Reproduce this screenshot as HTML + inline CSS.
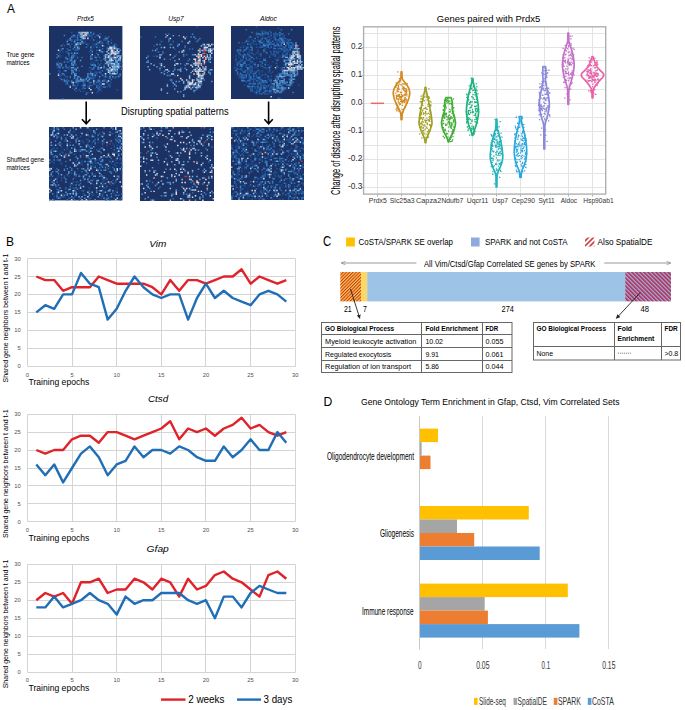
<!DOCTYPE html><html><head><meta charset="utf-8"><style>html,body{margin:0;padding:0;background:#fff;}svg{display:block}</style></head><body><svg width="685" height="710" viewBox="0 0 685 710" font-family='"Liberation Sans", sans-serif'>
<rect width="685" height="710" fill="#fff"/>
<defs><filter id="hb" x="0" y="0" width="1" height="1" color-interpolation-filters="sRGB"><feGaussianBlur stdDeviation="0.22" edgeMode="duplicate"/></filter></defs>
<text x="6.9" y="13.3" font-size="13.6" textLength="7.9" lengthAdjust="spacingAndGlyphs">A</text>
<text x="85.5" y="20.6" font-size="7" textLength="17.0" lengthAdjust="spacingAndGlyphs" text-anchor="middle" font-style="italic">Prdx5</text>
<text x="176.0" y="20.6" font-size="7" textLength="15.6" lengthAdjust="spacingAndGlyphs" text-anchor="middle" font-style="italic">Usp7</text>
<text x="268.5" y="20.9" font-size="7" textLength="17.0" lengthAdjust="spacingAndGlyphs" text-anchor="middle" font-style="italic">Aldoc</text>
<text x="6.4" y="57.1" font-size="7" textLength="28.2" lengthAdjust="spacingAndGlyphs">True gene</text>
<text x="6.4" y="64.8" font-size="7" textLength="23.3" lengthAdjust="spacingAndGlyphs">matrices</text>
<text x="6.4" y="162.2" font-size="7" textLength="37.8" lengthAdjust="spacingAndGlyphs">Shuffled gene</text>
<text x="6.4" y="169.8" font-size="7" textLength="23.4" lengthAdjust="spacingAndGlyphs">matrices</text>
<text x="121.0" y="115.0" font-size="10.5" textLength="107.6" lengthAdjust="spacingAndGlyphs">Disrupting spatial patterns</text>
<g transform="translate(49 26) scale(1.4680)" filter="url(#hb)">
<rect width="50" height="50" fill="rgb(28, 50, 100)"/>
<path fill="#1d3f7a" d="M30 15h1v1h-1zM37 19h1v1h-1zM31 24h1v1h-1zM30 27h1v1h-1zM16 36h1v1h-1zM35 43h1v1h-1z"/>
<path fill="#1d4d8f" d="M30 4h1v1h-1zM19 5h1v1h-1zM35 5h1v1h-1zM28 6h1v1h-1zM16 7h1v1h-1zM18 7h1v1h-1zM28 7h1v1h-1zM29 7h1v1h-1zM29 8h1v1h-1zM37 8h1v1h-1zM12 9h1v1h-1zM20 9h1v1h-1zM28 9h1v1h-1zM16 10h1v1h-1zM32 10h1v1h-1zM29 11h1v1h-1zM40 11h1v1h-1zM9 12h1v1h-1zM30 12h1v1h-1zM35 12h1v1h-1zM36 12h1v1h-1zM26 13h1v1h-1zM29 13h1v1h-1zM31 13h1v1h-1zM33 13h1v1h-1zM41 13h1v1h-1zM43 13h1v1h-1zM46 13h1v1h-1zM30 14h1v1h-1zM40 14h1v1h-1zM12 16h1v1h-1zM29 16h1v1h-1zM9 17h1v1h-1zM12 17h1v1h-1zM27 17h1v1h-1zM37 17h1v1h-1zM6 18h1v1h-1zM12 18h1v1h-1zM36 18h1v1h-1zM7 19h1v1h-1zM18 19h1v1h-1zM46 19h1v1h-1zM47 19h1v1h-1zM8 20h1v1h-1zM33 20h1v1h-1zM7 21h1v1h-1zM14 21h1v1h-1zM29 21h1v1h-1zM14 22h1v1h-1zM18 22h1v1h-1zM32 22h1v1h-1zM33 23h1v1h-1zM6 24h1v1h-1zM29 24h1v1h-1zM43 24h1v1h-1zM48 24h1v1h-1zM6 25h1v1h-1zM48 25h1v1h-1zM49 25h1v1h-1zM17 26h1v1h-1zM13 27h1v1h-1zM14 27h1v1h-1zM16 27h1v1h-1zM32 27h1v1h-1zM35 27h1v1h-1zM5 28h1v1h-1zM13 28h1v1h-1zM14 28h1v1h-1zM36 28h1v1h-1zM38 28h1v1h-1zM13 29h1v1h-1zM48 29h1v1h-1zM7 30h1v1h-1zM27 30h1v1h-1zM35 30h1v1h-1zM38 30h1v1h-1zM17 31h1v1h-1zM33 31h1v1h-1zM35 31h1v1h-1zM8 32h1v1h-1zM10 32h1v1h-1zM39 32h1v1h-1zM32 33h1v1h-1zM41 33h1v1h-1zM7 34h1v1h-1zM27 34h1v1h-1zM30 34h1v1h-1zM46 34h1v1h-1zM16 35h1v1h-1zM18 35h1v1h-1zM29 35h1v1h-1zM40 35h1v1h-1zM29 36h1v1h-1zM30 36h1v1h-1zM34 36h1v1h-1zM38 36h1v1h-1zM31 37h1v1h-1zM39 37h1v1h-1zM41 37h1v1h-1zM11 38h1v1h-1zM19 38h1v1h-1zM20 38h1v1h-1zM34 38h1v1h-1zM42 38h1v1h-1zM27 39h1v1h-1zM40 39h1v1h-1zM41 39h1v1h-1zM13 40h1v1h-1zM14 40h1v1h-1zM26 40h1v1h-1zM33 41h1v1h-1zM39 41h1v1h-1zM31 42h1v1h-1zM34 42h1v1h-1zM35 42h1v1h-1zM33 43h1v1h-1zM23 44h1v1h-1zM35 44h1v1h-1zM32 45h1v1h-1z"/>
<path fill="#1e5aa5" d="M15 4h1v1h-1zM20 5h1v1h-1zM28 5h1v1h-1zM34 5h1v1h-1zM20 6h1v1h-1zM29 6h1v1h-1zM32 6h1v1h-1zM17 7h1v1h-1zM31 7h1v1h-1zM38 7h1v1h-1zM34 8h1v1h-1zM13 9h1v1h-1zM17 9h1v1h-1zM18 9h1v1h-1zM22 9h1v1h-1zM38 9h1v1h-1zM39 9h1v1h-1zM42 9h1v1h-1zM15 10h1v1h-1zM24 10h1v1h-1zM15 12h1v1h-1zM26 12h1v1h-1zM31 12h1v1h-1zM44 12h1v1h-1zM45 12h1v1h-1zM10 13h1v1h-1zM14 13h1v1h-1zM19 13h1v1h-1zM37 13h1v1h-1zM14 14h1v1h-1zM34 14h1v1h-1zM39 14h1v1h-1zM8 15h1v1h-1zM12 15h1v1h-1zM18 15h1v1h-1zM28 15h1v1h-1zM39 15h1v1h-1zM8 16h1v1h-1zM17 16h1v1h-1zM18 16h1v1h-1zM19 16h1v1h-1zM32 16h1v1h-1zM33 16h1v1h-1zM35 16h1v1h-1zM7 17h1v1h-1zM11 17h1v1h-1zM34 17h1v1h-1zM18 18h1v1h-1zM28 18h1v1h-1zM32 18h1v1h-1zM13 20h1v1h-1zM31 20h1v1h-1zM49 21h1v1h-1zM11 22h1v1h-1zM13 22h1v1h-1zM31 23h1v1h-1zM13 24h1v1h-1zM15 24h1v1h-1zM16 25h1v1h-1zM28 25h1v1h-1zM30 25h1v1h-1zM33 25h1v1h-1zM35 25h1v1h-1zM18 26h1v1h-1zM28 26h1v1h-1zM37 26h1v1h-1zM8 27h1v1h-1zM6 28h1v1h-1zM11 28h1v1h-1zM17 28h1v1h-1zM27 28h1v1h-1zM28 28h1v1h-1zM34 28h1v1h-1zM49 28h1v1h-1zM30 29h1v1h-1zM34 29h1v1h-1zM49 29h1v1h-1zM6 30h1v1h-1zM20 30h1v1h-1zM7 31h1v1h-1zM31 31h1v1h-1zM32 31h1v1h-1zM30 32h1v1h-1zM32 32h1v1h-1zM35 32h1v1h-1zM8 33h1v1h-1zM28 33h1v1h-1zM30 33h1v1h-1zM42 33h1v1h-1zM47 33h1v1h-1zM11 34h1v1h-1zM12 34h1v1h-1zM29 34h1v1h-1zM31 34h1v1h-1zM37 34h1v1h-1zM39 34h1v1h-1zM7 35h1v1h-1zM14 35h1v1h-1zM44 35h1v1h-1zM45 35h1v1h-1zM9 36h1v1h-1zM12 36h1v1h-1zM33 36h1v1h-1zM37 36h1v1h-1zM12 37h1v1h-1zM38 37h1v1h-1zM17 38h1v1h-1zM23 38h1v1h-1zM27 38h1v1h-1zM33 38h1v1h-1zM35 38h1v1h-1zM11 39h1v1h-1zM19 39h1v1h-1zM31 39h1v1h-1zM19 40h1v1h-1zM22 40h1v1h-1zM27 40h1v1h-1zM29 40h1v1h-1zM32 40h1v1h-1zM33 40h1v1h-1zM40 40h1v1h-1zM41 40h1v1h-1zM18 41h1v1h-1zM26 41h1v1h-1zM36 41h1v1h-1zM41 41h1v1h-1zM16 42h1v1h-1zM22 42h1v1h-1zM23 42h1v1h-1zM20 43h1v1h-1zM46 43h1v1h-1zM18 44h1v1h-1zM21 44h1v1h-1zM33 44h1v1h-1zM25 45h1v1h-1zM26 45h1v1h-1z"/>
<path fill="#2f6fb6" d="M19 6h1v1h-1zM21 6h1v1h-1zM27 6h1v1h-1zM19 7h1v1h-1zM40 7h1v1h-1zM19 8h1v1h-1zM15 9h1v1h-1zM37 9h1v1h-1zM35 10h1v1h-1zM17 11h1v1h-1zM39 11h1v1h-1zM20 12h1v1h-1zM25 12h1v1h-1zM40 12h1v1h-1zM17 13h1v1h-1zM20 14h1v1h-1zM25 14h1v1h-1zM16 15h1v1h-1zM36 15h1v1h-1zM13 16h1v1h-1zM14 16h1v1h-1zM28 16h1v1h-1zM5 19h1v1h-1zM13 19h1v1h-1zM16 19h1v1h-1zM15 20h1v1h-1zM16 20h1v1h-1zM17 20h1v1h-1zM37 20h1v1h-1zM19 21h1v1h-1zM22 21h1v1h-1zM28 21h1v1h-1zM32 21h1v1h-1zM34 21h1v1h-1zM29 22h1v1h-1zM43 22h1v1h-1zM32 23h1v1h-1zM35 23h1v1h-1zM12 24h1v1h-1zM8 25h1v1h-1zM45 25h1v1h-1zM11 26h1v1h-1zM34 26h1v1h-1zM6 27h1v1h-1zM7 27h1v1h-1zM33 27h1v1h-1zM12 28h1v1h-1zM15 29h1v1h-1zM10 30h1v1h-1zM36 30h1v1h-1zM15 31h1v1h-1zM28 31h1v1h-1zM34 31h1v1h-1zM18 32h1v1h-1zM27 32h1v1h-1zM46 32h1v1h-1zM48 32h1v1h-1zM10 33h1v1h-1zM38 33h1v1h-1zM45 34h1v1h-1zM26 35h1v1h-1zM30 35h1v1h-1zM10 36h1v1h-1zM18 36h1v1h-1zM24 36h1v1h-1zM42 36h1v1h-1zM13 37h1v1h-1zM24 37h1v1h-1zM32 38h1v1h-1zM12 39h1v1h-1zM23 39h1v1h-1zM24 39h1v1h-1zM30 39h1v1h-1zM34 39h1v1h-1zM17 40h1v1h-1zM28 40h1v1h-1zM35 40h1v1h-1zM23 41h1v1h-1zM27 41h1v1h-1zM34 41h1v1h-1zM38 41h1v1h-1zM33 42h1v1h-1zM17 43h1v1h-1zM34 43h1v1h-1zM9 49h1v1h-1z"/>
<path fill="#3f84c6" d="M30 5h1v1h-1zM10 6h1v1h-1zM16 6h1v1h-1zM17 6h1v1h-1zM15 7h1v1h-1zM26 7h1v1h-1zM22 8h1v1h-1zM38 8h1v1h-1zM14 9h1v1h-1zM19 9h1v1h-1zM21 9h1v1h-1zM30 9h1v1h-1zM34 10h1v1h-1zM20 11h1v1h-1zM22 11h1v1h-1zM23 11h1v1h-1zM33 11h1v1h-1zM34 11h1v1h-1zM36 11h1v1h-1zM42 11h1v1h-1zM12 12h1v1h-1zM32 12h1v1h-1zM8 13h1v1h-1zM18 13h1v1h-1zM32 14h1v1h-1zM45 14h1v1h-1zM19 15h1v1h-1zM47 15h1v1h-1zM29 17h1v1h-1zM35 17h1v1h-1zM36 17h1v1h-1zM13 18h1v1h-1zM15 18h1v1h-1zM19 18h1v1h-1zM41 18h1v1h-1zM28 20h1v1h-1zM49 20h1v1h-1zM5 21h1v1h-1zM11 21h1v1h-1zM16 21h1v1h-1zM31 21h1v1h-1zM39 21h1v1h-1zM43 21h1v1h-1zM15 22h1v1h-1zM44 22h1v1h-1zM14 23h1v1h-1zM15 23h1v1h-1zM40 23h1v1h-1zM10 24h1v1h-1zM16 24h1v1h-1zM42 24h1v1h-1zM5 25h1v1h-1zM7 25h1v1h-1zM17 25h1v1h-1zM40 25h1v1h-1zM5 26h1v1h-1zM6 26h1v1h-1zM15 26h1v1h-1zM30 26h1v1h-1zM31 26h1v1h-1zM43 26h1v1h-1zM11 27h1v1h-1zM22 27h1v1h-1zM31 27h1v1h-1zM37 27h1v1h-1zM42 27h1v1h-1zM7 28h1v1h-1zM9 28h1v1h-1zM30 28h1v1h-1zM37 28h1v1h-1zM17 29h1v1h-1zM29 29h1v1h-1zM33 29h1v1h-1zM41 29h1v1h-1zM15 30h1v1h-1zM16 30h1v1h-1zM18 30h1v1h-1zM44 30h1v1h-1zM46 30h1v1h-1zM43 31h1v1h-1zM46 31h1v1h-1zM0 32h1v1h-1zM6 32h1v1h-1zM15 32h1v1h-1zM26 32h1v1h-1zM28 32h1v1h-1zM42 32h1v1h-1zM26 33h1v1h-1zM36 33h1v1h-1zM48 33h1v1h-1zM14 34h1v1h-1zM19 34h1v1h-1zM20 34h1v1h-1zM38 34h1v1h-1zM47 34h1v1h-1zM17 35h1v1h-1zM21 35h1v1h-1zM25 35h1v1h-1zM27 35h1v1h-1zM28 35h1v1h-1zM41 35h1v1h-1zM8 36h1v1h-1zM19 36h1v1h-1zM23 36h1v1h-1zM25 36h1v1h-1zM11 37h1v1h-1zM15 37h1v1h-1zM18 37h1v1h-1zM21 37h1v1h-1zM23 37h1v1h-1zM34 37h1v1h-1zM37 37h1v1h-1zM12 38h1v1h-1zM15 38h1v1h-1zM18 38h1v1h-1zM28 38h1v1h-1zM39 38h1v1h-1zM16 39h1v1h-1zM16 40h1v1h-1zM23 40h1v1h-1zM32 41h1v1h-1zM37 41h1v1h-1zM24 42h1v1h-1zM25 46h1v1h-1z"/>
<path fill="#5898d3" d="M21 4h1v1h-1zM28 4h1v1h-1zM33 6h1v1h-1zM24 7h1v1h-1zM14 8h1v1h-1zM39 8h1v1h-1zM12 10h1v1h-1zM17 10h1v1h-1zM40 10h1v1h-1zM21 11h1v1h-1zM13 12h1v1h-1zM19 12h1v1h-1zM44 13h1v1h-1zM17 14h1v1h-1zM28 14h1v1h-1zM9 15h1v1h-1zM20 15h1v1h-1zM43 15h1v1h-1zM45 15h1v1h-1zM46 15h1v1h-1zM48 16h1v1h-1zM44 17h1v1h-1zM46 17h1v1h-1zM47 18h1v1h-1zM33 19h1v1h-1zM6 20h1v1h-1zM44 20h1v1h-1zM15 21h1v1h-1zM42 21h1v1h-1zM12 22h1v1h-1zM28 22h1v1h-1zM37 22h1v1h-1zM38 22h1v1h-1zM45 22h1v1h-1zM17 23h1v1h-1zM21 23h1v1h-1zM46 23h1v1h-1zM48 23h1v1h-1zM17 24h1v1h-1zM41 24h1v1h-1zM15 25h1v1h-1zM38 25h1v1h-1zM41 25h1v1h-1zM46 25h1v1h-1zM8 26h1v1h-1zM29 26h1v1h-1zM42 26h1v1h-1zM45 26h1v1h-1zM40 27h1v1h-1zM48 27h1v1h-1zM15 28h1v1h-1zM16 28h1v1h-1zM19 28h1v1h-1zM33 28h1v1h-1zM46 28h1v1h-1zM40 29h1v1h-1zM45 29h1v1h-1zM11 30h1v1h-1zM16 31h1v1h-1zM44 31h1v1h-1zM9 32h1v1h-1zM17 32h1v1h-1zM41 32h1v1h-1zM17 33h1v1h-1zM18 33h1v1h-1zM29 33h1v1h-1zM31 33h1v1h-1zM17 34h1v1h-1zM26 34h1v1h-1zM34 34h1v1h-1zM41 34h1v1h-1zM43 34h1v1h-1zM19 35h1v1h-1zM22 36h1v1h-1zM27 36h1v1h-1zM10 37h1v1h-1zM19 37h1v1h-1zM20 37h1v1h-1zM22 37h1v1h-1zM33 37h1v1h-1zM36 37h1v1h-1zM30 38h1v1h-1zM24 40h1v1h-1zM18 42h1v1h-1z"/>
<path fill="#75adde" d="M26 5h1v1h-1zM21 7h1v1h-1zM22 10h1v1h-1zM19 11h1v1h-1zM21 12h1v1h-1zM19 14h1v1h-1zM43 14h1v1h-1zM40 15h1v1h-1zM17 18h1v1h-1zM38 19h1v1h-1zM41 19h1v1h-1zM42 19h1v1h-1zM41 20h1v1h-1zM46 20h1v1h-1zM48 20h1v1h-1zM41 21h1v1h-1zM46 21h1v1h-1zM38 23h1v1h-1zM45 23h1v1h-1zM47 23h1v1h-1zM40 24h1v1h-1zM45 24h1v1h-1zM46 24h1v1h-1zM39 25h1v1h-1zM47 25h1v1h-1zM16 26h1v1h-1zM46 26h1v1h-1zM47 26h1v1h-1zM44 27h1v1h-1zM45 27h1v1h-1zM43 28h1v1h-1zM44 28h1v1h-1zM45 28h1v1h-1zM18 29h1v1h-1zM39 29h1v1h-1zM41 30h1v1h-1zM43 30h1v1h-1zM45 30h1v1h-1zM41 31h1v1h-1zM29 32h1v1h-1zM21 36h1v1h-1zM26 37h1v1h-1z"/>
<path fill="#95c3e8" d="M20 4h1v1h-1zM23 4h1v1h-1zM24 4h1v1h-1zM25 4h1v1h-1zM21 5h1v1h-1zM22 6h1v1h-1zM25 6h1v1h-1zM23 7h1v1h-1zM24 8h1v1h-1zM44 14h1v1h-1zM40 16h1v1h-1zM39 17h1v1h-1zM40 18h1v1h-1zM46 18h1v1h-1zM39 19h1v1h-1zM44 19h1v1h-1zM38 20h1v1h-1zM47 20h1v1h-1zM38 21h1v1h-1zM41 22h1v1h-1zM47 22h1v1h-1zM42 25h1v1h-1zM43 25h1v1h-1zM44 25h1v1h-1zM44 26h1v1h-1zM47 27h1v1h-1zM47 28h1v1h-1zM44 29h1v1h-1zM46 29h1v1h-1zM40 30h1v1h-1zM45 32h1v1h-1z"/>
<path fill="#c5dcf0" d="M22 4h1v1h-1zM26 4h1v1h-1zM24 5h1v1h-1zM25 5h1v1h-1zM24 6h1v1h-1zM22 7h1v1h-1zM23 8h1v1h-1zM41 14h1v1h-1zM42 14h1v1h-1zM41 15h1v1h-1zM42 15h1v1h-1zM44 15h1v1h-1zM42 17h1v1h-1zM43 17h1v1h-1zM45 17h1v1h-1zM47 17h1v1h-1zM43 18h1v1h-1zM44 18h1v1h-1zM45 19h1v1h-1zM40 20h1v1h-1zM40 21h1v1h-1zM44 21h1v1h-1zM45 21h1v1h-1zM48 22h1v1h-1zM41 23h1v1h-1zM43 23h1v1h-1zM43 27h1v1h-1zM46 27h1v1h-1zM41 28h1v1h-1zM42 29h1v1h-1zM43 29h1v1h-1zM40 31h1v1h-1zM43 32h1v1h-1z"/>
<path fill="#e4dcdf" d="M22 5h1v1h-1zM23 6h1v1h-1zM34 7h1v1h-1zM26 8h1v1h-1zM18 12h1v1h-1zM36 13h1v1h-1zM6 16h1v1h-1zM34 16h1v1h-1zM42 16h1v1h-1zM43 16h1v1h-1zM46 16h1v1h-1zM42 18h1v1h-1zM45 18h1v1h-1zM29 19h1v1h-1zM48 21h1v1h-1zM42 22h1v1h-1zM42 23h1v1h-1zM39 24h1v1h-1zM40 26h1v1h-1zM35 28h1v1h-1zM42 30h1v1h-1zM38 32h1v1h-1zM44 32h1v1h-1zM6 33h1v1h-1zM30 37h1v1h-1zM40 37h1v1h-1zM16 38h1v1h-1zM36 39h1v1h-1zM37 39h1v1h-1zM14 41h1v1h-1zM27 42h1v1h-1zM28 43h1v1h-1zM29 45h1v1h-1z"/>
<path fill="#be3237" d="M23 5h1v1h-1zM44 16h1v1h-1zM43 19h1v1h-1z"/>
</g>
<g transform="translate(140 26) scale(1.4800)" filter="url(#hb)">
<rect width="50" height="50" fill="rgb(28, 50, 100)"/>
<path fill="#1e5aa5" d="M38 0h1v1h-1zM19 8h1v1h-1zM33 11h1v1h-1zM25 12h1v1h-1zM9 13h1v1h-1zM23 15h1v1h-1zM24 19h1v1h-1zM9 20h1v1h-1zM35 24h1v1h-1zM15 31h1v1h-1zM22 40h1v1h-1z"/>
<path fill="#2f6fb6" d="M19 5h1v1h-1zM0 7h1v1h-1zM10 7h1v1h-1zM31 7h1v1h-1zM14 10h1v1h-1zM19 10h1v1h-1zM22 10h1v1h-1zM21 12h1v1h-1zM30 13h1v1h-1zM30 14h1v1h-1zM33 15h1v1h-1zM35 15h1v1h-1zM28 16h1v1h-1zM12 17h1v1h-1zM29 17h1v1h-1zM15 18h1v1h-1zM31 19h1v1h-1zM29 20h1v1h-1zM48 21h1v1h-1zM20 22h1v1h-1zM32 23h1v1h-1zM13 25h1v1h-1zM35 26h1v1h-1zM14 27h1v1h-1zM23 28h1v1h-1zM13 29h1v1h-1zM19 33h1v1h-1zM23 33h1v1h-1zM21 37h1v1h-1zM30 40h1v1h-1z"/>
<path fill="#3f84c6" d="M17 5h1v1h-1zM35 5h1v1h-1zM34 7h1v1h-1zM37 8h1v1h-1zM40 8h1v1h-1zM19 9h1v1h-1zM39 9h1v1h-1zM28 10h1v1h-1zM38 10h1v1h-1zM13 12h1v1h-1zM20 12h1v1h-1zM49 12h1v1h-1zM43 13h1v1h-1zM44 13h1v1h-1zM11 15h1v1h-1zM48 15h1v1h-1zM8 16h1v1h-1zM41 16h1v1h-1zM45 16h1v1h-1zM15 17h1v1h-1zM48 17h1v1h-1zM35 19h1v1h-1zM5 20h1v1h-1zM11 20h1v1h-1zM23 20h1v1h-1zM22 21h1v1h-1zM33 22h1v1h-1zM39 22h1v1h-1zM5 23h1v1h-1zM46 23h1v1h-1zM4 24h1v1h-1zM27 25h1v1h-1zM30 26h1v1h-1zM27 28h1v1h-1zM30 28h1v1h-1zM37 28h1v1h-1zM23 29h1v1h-1zM25 29h1v1h-1zM16 30h1v1h-1zM46 30h1v1h-1zM18 31h1v1h-1zM47 31h1v1h-1zM18 33h1v1h-1zM20 33h1v1h-1zM40 35h1v1h-1zM20 36h1v1h-1zM21 36h1v1h-1zM43 36h1v1h-1zM38 38h1v1h-1zM41 38h1v1h-1zM41 39h1v1h-1zM33 40h1v1h-1zM29 43h1v1h-1zM37 43h1v1h-1zM27 44h1v1h-1zM36 44h1v1h-1z"/>
<path fill="#5898d3" d="M26 6h1v1h-1zM36 7h1v1h-1zM11 12h1v1h-1zM42 12h1v1h-1zM25 13h1v1h-1zM14 14h1v1h-1zM20 14h1v1h-1zM26 17h1v1h-1zM42 18h1v1h-1zM43 18h1v1h-1zM14 19h1v1h-1zM29 19h1v1h-1zM36 19h1v1h-1zM13 20h1v1h-1zM45 21h1v1h-1zM47 21h1v1h-1zM16 22h1v1h-1zM23 23h1v1h-1zM5 24h1v1h-1zM32 25h1v1h-1zM11 27h1v1h-1zM13 28h1v1h-1zM42 28h1v1h-1zM26 29h1v1h-1zM27 29h1v1h-1zM22 30h1v1h-1zM27 30h1v1h-1zM43 30h1v1h-1zM14 31h1v1h-1zM46 31h1v1h-1zM47 32h1v1h-1zM33 33h1v1h-1zM42 34h1v1h-1zM40 36h1v1h-1zM41 36h1v1h-1zM24 37h1v1h-1zM26 37h1v1h-1zM33 37h1v1h-1zM48 37h1v1h-1zM39 38h1v1h-1zM18 39h1v1h-1zM35 39h1v1h-1zM24 40h1v1h-1zM36 40h1v1h-1zM38 40h1v1h-1zM32 41h1v1h-1zM40 41h1v1h-1zM23 42h1v1h-1zM38 42h1v1h-1zM36 43h1v1h-1zM29 46h1v1h-1z"/>
<path fill="#75adde" d="M22 6h1v1h-1zM17 7h1v1h-1zM26 12h1v1h-1zM22 14h1v1h-1zM44 15h1v1h-1zM46 15h1v1h-1zM49 15h1v1h-1zM10 16h1v1h-1zM40 16h1v1h-1zM13 19h1v1h-1zM45 19h1v1h-1zM4 21h1v1h-1zM40 21h1v1h-1zM46 21h1v1h-1zM26 22h1v1h-1zM47 22h1v1h-1zM42 23h1v1h-1zM38 24h1v1h-1zM40 24h1v1h-1zM47 24h1v1h-1zM7 25h1v1h-1zM14 25h1v1h-1zM31 25h1v1h-1zM43 25h1v1h-1zM9 26h1v1h-1zM38 26h1v1h-1zM5 27h1v1h-1zM16 27h1v1h-1zM42 27h1v1h-1zM38 28h1v1h-1zM44 28h1v1h-1zM6 29h1v1h-1zM31 29h1v1h-1zM36 29h1v1h-1zM47 29h1v1h-1zM48 29h1v1h-1zM19 30h1v1h-1zM41 30h1v1h-1zM34 31h1v1h-1zM16 32h1v1h-1zM40 32h1v1h-1zM40 34h1v1h-1zM33 35h1v1h-1zM38 35h1v1h-1zM36 36h1v1h-1zM29 37h1v1h-1zM22 38h1v1h-1zM29 38h1v1h-1zM23 39h1v1h-1zM32 39h1v1h-1zM39 41h1v1h-1zM14 42h1v1h-1zM34 42h1v1h-1zM14 43h1v1h-1zM25 44h1v1h-1zM18 45h1v1h-1zM29 47h1v1h-1z"/>
<path fill="#95c3e8" d="M33 10h1v1h-1zM45 12h1v1h-1zM41 13h1v1h-1zM46 17h1v1h-1zM37 19h1v1h-1zM47 19h1v1h-1zM47 20h1v1h-1zM46 22h1v1h-1zM24 25h1v1h-1zM37 25h1v1h-1zM41 25h1v1h-1zM39 26h1v1h-1zM17 29h1v1h-1zM41 29h1v1h-1zM43 29h1v1h-1zM44 29h1v1h-1zM35 30h1v1h-1zM42 32h1v1h-1zM43 32h1v1h-1zM41 34h1v1h-1zM38 36h1v1h-1zM39 36h1v1h-1zM32 37h1v1h-1zM32 38h1v1h-1zM40 38h1v1h-1zM18 40h1v1h-1zM31 40h1v1h-1zM30 41h1v1h-1zM31 41h1v1h-1zM35 41h1v1h-1zM37 41h1v1h-1zM38 41h1v1h-1z"/>
<path fill="#c5dcf0" d="M43 12h1v1h-1zM48 12h1v1h-1zM46 13h1v1h-1zM43 15h1v1h-1zM39 16h1v1h-1zM46 16h1v1h-1zM48 16h1v1h-1zM40 19h1v1h-1zM43 20h1v1h-1zM45 20h1v1h-1zM42 21h1v1h-1zM44 22h1v1h-1zM37 29h1v1h-1zM38 30h1v1h-1zM39 30h1v1h-1zM41 33h1v1h-1zM33 34h1v1h-1zM42 35h1v1h-1zM39 37h1v1h-1zM37 38h1v1h-1zM36 39h1v1h-1zM37 39h1v1h-1zM39 39h1v1h-1zM39 40h1v1h-1z"/>
<path fill="#e4dcdf" d="M18 6h1v1h-1zM29 7h1v1h-1zM20 8h1v1h-1zM30 8h1v1h-1zM32 11h1v1h-1zM46 12h1v1h-1zM47 13h1v1h-1zM16 14h1v1h-1zM43 14h1v1h-1zM44 14h1v1h-1zM45 14h1v1h-1zM47 15h1v1h-1zM29 16h1v1h-1zM42 16h1v1h-1zM47 16h1v1h-1zM28 17h1v1h-1zM40 17h1v1h-1zM47 17h1v1h-1zM48 18h1v1h-1zM20 19h1v1h-1zM39 19h1v1h-1zM41 19h1v1h-1zM38 20h1v1h-1zM41 20h1v1h-1zM13 21h1v1h-1zM39 21h1v1h-1zM44 21h1v1h-1zM36 22h1v1h-1zM37 22h1v1h-1zM40 22h1v1h-1zM39 23h1v1h-1zM40 23h1v1h-1zM43 23h1v1h-1zM37 24h1v1h-1zM43 24h1v1h-1zM25 25h1v1h-1zM36 25h1v1h-1zM38 25h1v1h-1zM14 26h1v1h-1zM23 26h1v1h-1zM34 26h1v1h-1zM37 26h1v1h-1zM35 27h1v1h-1zM39 27h1v1h-1zM40 28h1v1h-1zM18 29h1v1h-1zM39 29h1v1h-1zM40 29h1v1h-1zM37 30h1v1h-1zM40 30h1v1h-1zM42 30h1v1h-1zM39 31h1v1h-1zM21 32h1v1h-1zM22 32h1v1h-1zM36 32h1v1h-1zM38 32h1v1h-1zM39 32h1v1h-1zM25 33h1v1h-1zM39 33h1v1h-1zM40 33h1v1h-1zM42 33h1v1h-1zM39 34h1v1h-1zM27 35h1v1h-1zM41 35h1v1h-1zM28 36h1v1h-1zM31 36h1v1h-1zM35 36h1v1h-1zM35 37h1v1h-1zM40 37h1v1h-1zM41 37h1v1h-1zM33 38h1v1h-1zM34 38h1v1h-1zM35 38h1v1h-1zM33 39h1v1h-1zM34 39h1v1h-1zM32 40h1v1h-1zM40 40h1v1h-1zM33 41h1v1h-1zM30 42h1v1h-1z"/>
<path fill="#e4a79f" d="M40 15h1v1h-1zM44 16h1v1h-1zM39 18h1v1h-1zM39 20h1v1h-1zM40 20h1v1h-1zM37 23h1v1h-1zM39 24h1v1h-1zM39 25h1v1h-1zM40 25h1v1h-1zM41 26h1v1h-1zM44 27h1v1h-1zM43 28h1v1h-1zM38 31h1v1h-1zM43 31h1v1h-1z"/>
<path fill="#be3237" d="M43 16h1v1h-1zM43 17h1v1h-1zM44 18h1v1h-1zM42 19h1v1h-1zM44 20h1v1h-1zM43 22h1v1h-1zM44 24h1v1h-1z"/>
</g>
<g transform="translate(231 26) scale(1.4600)" filter="url(#hb)">
<rect width="50" height="50" fill="rgb(28, 50, 100)"/>
<path fill="#1d3f7a" d="M35 23h1v1h-1zM11 26h1v1h-1zM31 29h1v1h-1zM20 33h1v1h-1zM33 41h1v1h-1zM18 45h1v1h-1zM28 46h1v1h-1z"/>
<path fill="#1d4d8f" d="M20 3h1v1h-1zM22 3h1v1h-1zM23 3h1v1h-1zM23 5h1v1h-1zM27 5h1v1h-1zM17 6h1v1h-1zM21 6h1v1h-1zM29 6h1v1h-1zM30 6h1v1h-1zM22 7h1v1h-1zM30 7h1v1h-1zM36 7h1v1h-1zM12 8h1v1h-1zM27 8h1v1h-1zM36 9h1v1h-1zM11 10h1v1h-1zM12 10h1v1h-1zM18 10h1v1h-1zM31 10h1v1h-1zM32 10h1v1h-1zM34 10h1v1h-1zM37 10h1v1h-1zM7 11h1v1h-1zM11 11h1v1h-1zM33 11h1v1h-1zM12 12h1v1h-1zM15 12h1v1h-1zM16 12h1v1h-1zM19 12h1v1h-1zM27 12h1v1h-1zM8 13h1v1h-1zM20 13h1v1h-1zM24 13h1v1h-1zM27 13h1v1h-1zM31 13h1v1h-1zM22 14h1v1h-1zM24 14h1v1h-1zM33 14h1v1h-1zM37 14h1v1h-1zM42 14h1v1h-1zM26 15h1v1h-1zM35 15h1v1h-1zM37 15h1v1h-1zM38 15h1v1h-1zM42 15h1v1h-1zM8 16h1v1h-1zM12 16h1v1h-1zM18 16h1v1h-1zM23 16h1v1h-1zM39 16h1v1h-1zM18 17h1v1h-1zM26 17h1v1h-1zM27 17h1v1h-1zM32 17h1v1h-1zM33 17h1v1h-1zM13 18h1v1h-1zM17 18h1v1h-1zM18 18h1v1h-1zM20 18h1v1h-1zM35 18h1v1h-1zM8 19h1v1h-1zM16 19h1v1h-1zM19 19h1v1h-1zM27 19h1v1h-1zM30 19h1v1h-1zM9 20h1v1h-1zM10 20h1v1h-1zM29 20h1v1h-1zM33 20h1v1h-1zM37 20h1v1h-1zM38 20h1v1h-1zM32 21h1v1h-1zM34 21h1v1h-1zM44 21h1v1h-1zM6 22h1v1h-1zM17 22h1v1h-1zM19 22h1v1h-1zM23 22h1v1h-1zM30 22h1v1h-1zM32 22h1v1h-1zM38 22h1v1h-1zM45 22h1v1h-1zM6 23h1v1h-1zM10 23h1v1h-1zM13 23h1v1h-1zM32 23h1v1h-1zM3 24h1v1h-1zM8 24h1v1h-1zM19 24h1v1h-1zM21 24h1v1h-1zM24 24h1v1h-1zM28 24h1v1h-1zM37 24h1v1h-1zM44 24h1v1h-1zM6 25h1v1h-1zM13 25h1v1h-1zM15 25h1v1h-1zM23 25h1v1h-1zM30 25h1v1h-1zM31 25h1v1h-1zM3 26h1v1h-1zM15 26h1v1h-1zM25 26h1v1h-1zM14 27h1v1h-1zM20 27h1v1h-1zM26 27h1v1h-1zM38 27h1v1h-1zM3 28h1v1h-1zM7 28h1v1h-1zM16 28h1v1h-1zM17 28h1v1h-1zM34 28h1v1h-1zM3 29h1v1h-1zM5 29h1v1h-1zM13 29h1v1h-1zM14 29h1v1h-1zM24 29h1v1h-1zM30 29h1v1h-1zM36 29h1v1h-1zM11 30h1v1h-1zM12 30h1v1h-1zM13 30h1v1h-1zM19 30h1v1h-1zM21 30h1v1h-1zM34 30h1v1h-1zM15 31h1v1h-1zM16 31h1v1h-1zM19 31h1v1h-1zM21 31h1v1h-1zM25 31h1v1h-1zM26 31h1v1h-1zM12 32h1v1h-1zM13 32h1v1h-1zM15 32h1v1h-1zM23 32h1v1h-1zM27 32h1v1h-1zM32 32h1v1h-1zM4 33h1v1h-1zM6 33h1v1h-1zM22 33h1v1h-1zM23 33h1v1h-1zM24 33h1v1h-1zM5 34h1v1h-1zM8 34h1v1h-1zM16 34h1v1h-1zM20 34h1v1h-1zM5 35h1v1h-1zM23 35h1v1h-1zM25 35h1v1h-1zM40 35h1v1h-1zM8 36h1v1h-1zM18 36h1v1h-1zM21 36h1v1h-1zM25 36h1v1h-1zM26 36h1v1h-1zM39 36h1v1h-1zM13 37h1v1h-1zM24 37h1v1h-1zM13 38h1v1h-1zM18 38h1v1h-1zM20 38h1v1h-1zM27 38h1v1h-1zM22 39h1v1h-1zM11 40h1v1h-1zM22 40h1v1h-1zM17 41h1v1h-1zM40 41h1v1h-1zM13 42h1v1h-1zM19 42h1v1h-1zM17 43h1v1h-1zM22 43h1v1h-1zM24 43h1v1h-1zM26 43h1v1h-1zM27 43h1v1h-1zM37 43h1v1h-1zM15 44h1v1h-1zM20 44h1v1h-1zM30 44h1v1h-1zM27 45h1v1h-1zM32 45h1v1h-1zM27 46h1v1h-1z"/>
<path fill="#1e5aa5" d="M17 0h1v1h-1zM32 1h1v1h-1zM21 3h1v1h-1zM26 3h1v1h-1zM17 4h1v1h-1zM24 4h1v1h-1zM25 4h1v1h-1zM30 4h1v1h-1zM20 5h1v1h-1zM24 5h1v1h-1zM30 5h1v1h-1zM31 5h1v1h-1zM32 5h1v1h-1zM33 5h1v1h-1zM31 6h1v1h-1zM36 6h1v1h-1zM12 7h1v1h-1zM25 7h1v1h-1zM26 7h1v1h-1zM33 7h1v1h-1zM35 7h1v1h-1zM24 8h1v1h-1zM29 8h1v1h-1zM35 8h1v1h-1zM36 8h1v1h-1zM37 8h1v1h-1zM11 9h1v1h-1zM14 9h1v1h-1zM18 9h1v1h-1zM24 9h1v1h-1zM25 9h1v1h-1zM31 9h1v1h-1zM39 9h1v1h-1zM16 10h1v1h-1zM22 10h1v1h-1zM26 10h1v1h-1zM36 10h1v1h-1zM39 10h1v1h-1zM9 11h1v1h-1zM14 11h1v1h-1zM19 11h1v1h-1zM26 11h1v1h-1zM29 11h1v1h-1zM31 11h1v1h-1zM39 11h1v1h-1zM40 11h1v1h-1zM13 12h1v1h-1zM17 12h1v1h-1zM23 12h1v1h-1zM25 12h1v1h-1zM38 12h1v1h-1zM13 13h1v1h-1zM21 13h1v1h-1zM29 13h1v1h-1zM33 13h1v1h-1zM39 13h1v1h-1zM40 13h1v1h-1zM42 13h1v1h-1zM43 13h1v1h-1zM6 14h1v1h-1zM8 14h1v1h-1zM10 14h1v1h-1zM17 14h1v1h-1zM19 14h1v1h-1zM20 14h1v1h-1zM21 14h1v1h-1zM29 14h1v1h-1zM35 14h1v1h-1zM39 14h1v1h-1zM11 15h1v1h-1zM23 15h1v1h-1zM33 15h1v1h-1zM36 15h1v1h-1zM41 15h1v1h-1zM10 16h1v1h-1zM13 16h1v1h-1zM34 16h1v1h-1zM35 16h1v1h-1zM36 16h1v1h-1zM37 16h1v1h-1zM42 16h1v1h-1zM6 17h1v1h-1zM12 17h1v1h-1zM23 17h1v1h-1zM30 17h1v1h-1zM31 17h1v1h-1zM37 17h1v1h-1zM39 17h1v1h-1zM11 18h1v1h-1zM27 18h1v1h-1zM29 18h1v1h-1zM31 18h1v1h-1zM32 18h1v1h-1zM41 18h1v1h-1zM5 19h1v1h-1zM12 19h1v1h-1zM15 19h1v1h-1zM28 19h1v1h-1zM29 19h1v1h-1zM38 19h1v1h-1zM43 19h1v1h-1zM3 20h1v1h-1zM7 20h1v1h-1zM13 20h1v1h-1zM20 20h1v1h-1zM26 20h1v1h-1zM5 21h1v1h-1zM10 21h1v1h-1zM13 21h1v1h-1zM17 21h1v1h-1zM26 21h1v1h-1zM3 22h1v1h-1zM8 22h1v1h-1zM12 22h1v1h-1zM13 22h1v1h-1zM22 22h1v1h-1zM3 23h1v1h-1zM11 23h1v1h-1zM12 23h1v1h-1zM5 24h1v1h-1zM6 24h1v1h-1zM13 24h1v1h-1zM5 25h1v1h-1zM16 25h1v1h-1zM8 26h1v1h-1zM10 26h1v1h-1zM12 26h1v1h-1zM20 26h1v1h-1zM36 26h1v1h-1zM4 27h1v1h-1zM10 27h1v1h-1zM27 27h1v1h-1zM2 28h1v1h-1zM10 28h1v1h-1zM22 28h1v1h-1zM32 28h1v1h-1zM40 28h1v1h-1zM7 29h1v1h-1zM12 29h1v1h-1zM26 29h1v1h-1zM34 29h1v1h-1zM35 29h1v1h-1zM7 30h1v1h-1zM9 30h1v1h-1zM10 30h1v1h-1zM26 30h1v1h-1zM11 31h1v1h-1zM28 31h1v1h-1zM11 32h1v1h-1zM14 32h1v1h-1zM19 32h1v1h-1zM5 33h1v1h-1zM8 33h1v1h-1zM9 33h1v1h-1zM17 33h1v1h-1zM21 33h1v1h-1zM31 33h1v1h-1zM6 34h1v1h-1zM9 34h1v1h-1zM12 34h1v1h-1zM17 34h1v1h-1zM19 34h1v1h-1zM27 34h1v1h-1zM30 34h1v1h-1zM6 35h1v1h-1zM7 35h1v1h-1zM9 35h1v1h-1zM10 35h1v1h-1zM12 35h1v1h-1zM15 35h1v1h-1zM17 35h1v1h-1zM7 36h1v1h-1zM12 36h1v1h-1zM13 36h1v1h-1zM14 36h1v1h-1zM15 36h1v1h-1zM16 36h1v1h-1zM19 36h1v1h-1zM27 36h1v1h-1zM31 36h1v1h-1zM15 37h1v1h-1zM18 37h1v1h-1zM20 37h1v1h-1zM26 37h1v1h-1zM10 38h1v1h-1zM15 38h1v1h-1zM23 38h1v1h-1zM14 39h1v1h-1zM19 39h1v1h-1zM27 39h1v1h-1zM9 40h1v1h-1zM15 40h1v1h-1zM18 40h1v1h-1zM20 40h1v1h-1zM21 40h1v1h-1zM25 40h1v1h-1zM26 40h1v1h-1zM41 40h1v1h-1zM46 40h1v1h-1zM13 41h1v1h-1zM15 41h1v1h-1zM16 41h1v1h-1zM25 41h1v1h-1zM28 41h1v1h-1zM12 42h1v1h-1zM14 42h1v1h-1zM16 42h1v1h-1zM26 42h1v1h-1zM27 42h1v1h-1zM14 43h1v1h-1zM33 43h1v1h-1zM13 44h1v1h-1zM17 44h1v1h-1zM18 44h1v1h-1zM25 44h1v1h-1zM16 45h1v1h-1zM19 45h1v1h-1zM26 45h1v1h-1zM17 46h1v1h-1zM19 46h1v1h-1zM24 46h1v1h-1zM25 46h1v1h-1zM33 49h1v1h-1z"/>
<path fill="#2f6fb6" d="M10 2h1v1h-1zM34 2h1v1h-1zM14 4h1v1h-1zM21 4h1v1h-1zM23 4h1v1h-1zM27 4h1v1h-1zM17 5h1v1h-1zM21 5h1v1h-1zM22 5h1v1h-1zM29 5h1v1h-1zM34 5h1v1h-1zM35 5h1v1h-1zM39 5h1v1h-1zM20 6h1v1h-1zM27 6h1v1h-1zM18 7h1v1h-1zM29 7h1v1h-1zM30 8h1v1h-1zM20 9h1v1h-1zM26 9h1v1h-1zM38 9h1v1h-1zM15 10h1v1h-1zM20 10h1v1h-1zM24 10h1v1h-1zM28 10h1v1h-1zM33 10h1v1h-1zM5 11h1v1h-1zM21 11h1v1h-1zM25 11h1v1h-1zM27 11h1v1h-1zM34 11h1v1h-1zM24 12h1v1h-1zM28 12h1v1h-1zM29 12h1v1h-1zM31 12h1v1h-1zM32 12h1v1h-1zM34 12h1v1h-1zM39 12h1v1h-1zM42 12h1v1h-1zM34 13h1v1h-1zM41 13h1v1h-1zM11 14h1v1h-1zM13 14h1v1h-1zM14 14h1v1h-1zM25 14h1v1h-1zM27 14h1v1h-1zM36 14h1v1h-1zM40 14h1v1h-1zM10 15h1v1h-1zM14 15h1v1h-1zM30 15h1v1h-1zM32 15h1v1h-1zM40 15h1v1h-1zM4 16h1v1h-1zM5 16h1v1h-1zM38 16h1v1h-1zM40 16h1v1h-1zM4 17h1v1h-1zM8 17h1v1h-1zM22 17h1v1h-1zM29 17h1v1h-1zM36 17h1v1h-1zM5 18h1v1h-1zM14 18h1v1h-1zM38 18h1v1h-1zM6 19h1v1h-1zM11 19h1v1h-1zM20 19h1v1h-1zM35 19h1v1h-1zM37 19h1v1h-1zM40 19h1v1h-1zM12 20h1v1h-1zM30 20h1v1h-1zM10 22h1v1h-1zM15 22h1v1h-1zM7 23h1v1h-1zM38 23h1v1h-1zM9 24h1v1h-1zM14 24h1v1h-1zM20 24h1v1h-1zM4 25h1v1h-1zM8 25h1v1h-1zM21 25h1v1h-1zM4 26h1v1h-1zM6 27h1v1h-1zM13 27h1v1h-1zM21 27h1v1h-1zM31 27h1v1h-1zM37 27h1v1h-1zM12 28h1v1h-1zM14 28h1v1h-1zM23 28h1v1h-1zM25 28h1v1h-1zM35 28h1v1h-1zM4 29h1v1h-1zM6 29h1v1h-1zM14 30h1v1h-1zM18 30h1v1h-1zM4 31h1v1h-1zM8 31h1v1h-1zM13 31h1v1h-1zM17 31h1v1h-1zM37 31h1v1h-1zM40 31h1v1h-1zM4 32h1v1h-1zM33 32h1v1h-1zM40 32h1v1h-1zM12 33h1v1h-1zM15 33h1v1h-1zM34 33h1v1h-1zM37 33h1v1h-1zM45 33h1v1h-1zM7 34h1v1h-1zM10 34h1v1h-1zM13 34h1v1h-1zM15 34h1v1h-1zM37 34h1v1h-1zM42 34h1v1h-1zM31 35h1v1h-1zM20 36h1v1h-1zM9 37h1v1h-1zM11 37h1v1h-1zM12 37h1v1h-1zM17 37h1v1h-1zM22 37h1v1h-1zM27 37h1v1h-1zM19 38h1v1h-1zM21 38h1v1h-1zM22 38h1v1h-1zM37 38h1v1h-1zM41 38h1v1h-1zM12 39h1v1h-1zM13 39h1v1h-1zM15 39h1v1h-1zM18 39h1v1h-1zM20 39h1v1h-1zM32 39h1v1h-1zM36 39h1v1h-1zM23 40h1v1h-1zM18 41h1v1h-1zM20 41h1v1h-1zM22 41h1v1h-1zM24 41h1v1h-1zM27 41h1v1h-1zM29 41h1v1h-1zM34 41h1v1h-1zM35 41h1v1h-1zM18 42h1v1h-1zM28 42h1v1h-1zM29 42h1v1h-1zM13 43h1v1h-1zM19 43h1v1h-1zM20 43h1v1h-1zM28 43h1v1h-1zM31 43h1v1h-1zM34 43h1v1h-1zM36 43h1v1h-1zM14 44h1v1h-1zM19 44h1v1h-1zM24 44h1v1h-1zM27 44h1v1h-1zM35 44h1v1h-1zM29 45h1v1h-1zM31 45h1v1h-1zM34 45h1v1h-1zM20 46h1v1h-1zM21 46h1v1h-1zM23 46h1v1h-1zM32 49h1v1h-1z"/>
<path fill="#3f84c6" d="M41 2h1v1h-1zM33 4h1v1h-1zM18 5h1v1h-1zM19 5h1v1h-1zM25 5h1v1h-1zM33 6h1v1h-1zM13 7h1v1h-1zM16 8h1v1h-1zM21 8h1v1h-1zM23 8h1v1h-1zM33 8h1v1h-1zM34 8h1v1h-1zM30 9h1v1h-1zM32 9h1v1h-1zM34 9h1v1h-1zM35 9h1v1h-1zM40 9h1v1h-1zM10 10h1v1h-1zM19 10h1v1h-1zM25 10h1v1h-1zM35 10h1v1h-1zM20 11h1v1h-1zM35 11h1v1h-1zM36 11h1v1h-1zM38 11h1v1h-1zM41 11h1v1h-1zM44 11h1v1h-1zM11 12h1v1h-1zM22 12h1v1h-1zM26 12h1v1h-1zM22 13h1v1h-1zM23 13h1v1h-1zM25 13h1v1h-1zM30 13h1v1h-1zM32 13h1v1h-1zM37 13h1v1h-1zM41 14h1v1h-1zM29 15h1v1h-1zM34 15h1v1h-1zM6 16h1v1h-1zM9 16h1v1h-1zM14 16h1v1h-1zM22 16h1v1h-1zM24 18h1v1h-1zM9 19h1v1h-1zM8 20h1v1h-1zM35 20h1v1h-1zM36 20h1v1h-1zM40 20h1v1h-1zM8 21h1v1h-1zM14 21h1v1h-1zM35 21h1v1h-1zM39 22h1v1h-1zM22 23h1v1h-1zM23 23h1v1h-1zM31 23h1v1h-1zM37 23h1v1h-1zM39 23h1v1h-1zM9 25h1v1h-1zM6 26h1v1h-1zM7 26h1v1h-1zM16 26h1v1h-1zM18 26h1v1h-1zM23 26h1v1h-1zM7 27h1v1h-1zM18 27h1v1h-1zM48 27h1v1h-1zM11 28h1v1h-1zM26 28h1v1h-1zM11 29h1v1h-1zM3 30h1v1h-1zM45 30h1v1h-1zM9 31h1v1h-1zM38 31h1v1h-1zM41 31h1v1h-1zM45 31h1v1h-1zM6 32h1v1h-1zM16 32h1v1h-1zM34 32h1v1h-1zM35 32h1v1h-1zM7 33h1v1h-1zM10 33h1v1h-1zM36 33h1v1h-1zM40 33h1v1h-1zM25 34h1v1h-1zM31 34h1v1h-1zM32 34h1v1h-1zM40 34h1v1h-1zM41 34h1v1h-1zM8 35h1v1h-1zM13 35h1v1h-1zM18 35h1v1h-1zM19 35h1v1h-1zM34 35h1v1h-1zM35 35h1v1h-1zM30 36h1v1h-1zM32 36h1v1h-1zM40 36h1v1h-1zM41 36h1v1h-1zM43 36h1v1h-1zM7 37h1v1h-1zM8 37h1v1h-1zM21 37h1v1h-1zM23 37h1v1h-1zM31 37h1v1h-1zM33 37h1v1h-1zM36 37h1v1h-1zM40 37h1v1h-1zM24 38h1v1h-1zM30 38h1v1h-1zM33 38h1v1h-1zM34 38h1v1h-1zM35 38h1v1h-1zM36 38h1v1h-1zM42 38h1v1h-1zM16 39h1v1h-1zM28 39h1v1h-1zM35 39h1v1h-1zM37 39h1v1h-1zM40 39h1v1h-1zM41 39h1v1h-1zM29 40h1v1h-1zM33 40h1v1h-1zM34 40h1v1h-1zM38 40h1v1h-1zM11 41h1v1h-1zM12 41h1v1h-1zM14 41h1v1h-1zM32 41h1v1h-1zM20 42h1v1h-1zM22 42h1v1h-1zM23 42h1v1h-1zM31 42h1v1h-1zM32 42h1v1h-1zM33 42h1v1h-1zM36 42h1v1h-1zM37 42h1v1h-1zM23 44h1v1h-1zM26 44h1v1h-1zM29 44h1v1h-1zM17 45h1v1h-1zM22 45h1v1h-1zM42 45h1v1h-1z"/>
<path fill="#5898d3" d="M45 15h1v1h-1zM45 16h1v1h-1zM46 17h1v1h-1zM36 23h1v1h-1zM41 23h1v1h-1zM43 23h1v1h-1zM36 24h1v1h-1zM37 25h1v1h-1zM38 25h1v1h-1zM42 25h1v1h-1zM36 28h1v1h-1zM35 30h1v1h-1zM44 30h1v1h-1zM35 31h1v1h-1zM43 31h1v1h-1zM36 32h1v1h-1zM37 32h1v1h-1zM42 32h1v1h-1zM43 32h1v1h-1zM45 32h1v1h-1zM38 33h1v1h-1zM39 33h1v1h-1zM44 33h1v1h-1zM35 34h1v1h-1zM36 34h1v1h-1zM32 35h1v1h-1zM41 35h1v1h-1zM36 36h1v1h-1zM29 37h1v1h-1zM34 37h1v1h-1zM38 38h1v1h-1zM33 39h1v1h-1zM31 40h1v1h-1zM32 40h1v1h-1zM39 40h1v1h-1zM40 40h1v1h-1zM31 41h1v1h-1zM34 42h1v1h-1zM30 43h1v1h-1zM35 43h1v1h-1zM34 44h1v1h-1zM30 45h1v1h-1zM33 45h1v1h-1z"/>
<path fill="#75adde" d="M44 12h1v1h-1zM45 13h1v1h-1zM43 15h1v1h-1zM46 18h1v1h-1zM37 21h1v1h-1zM38 21h1v1h-1zM47 21h1v1h-1zM40 22h1v1h-1zM43 22h1v1h-1zM46 22h1v1h-1zM47 22h1v1h-1zM46 24h1v1h-1zM47 24h1v1h-1zM47 25h1v1h-1zM37 26h1v1h-1zM46 26h1v1h-1zM44 27h1v1h-1zM48 28h1v1h-1zM42 29h1v1h-1zM47 29h1v1h-1zM39 30h1v1h-1zM43 30h1v1h-1zM36 31h1v1h-1zM42 31h1v1h-1zM38 32h1v1h-1zM33 33h1v1h-1zM41 33h1v1h-1zM43 33h1v1h-1zM33 34h1v1h-1zM34 34h1v1h-1zM43 34h1v1h-1zM42 36h1v1h-1zM30 37h1v1h-1zM35 37h1v1h-1zM41 37h1v1h-1zM31 38h1v1h-1zM40 38h1v1h-1zM29 39h1v1h-1zM31 39h1v1h-1zM35 42h1v1h-1zM31 44h1v1h-1zM32 44h1v1h-1z"/>
<path fill="#95c3e8" d="M44 13h1v1h-1zM44 14h1v1h-1zM44 15h1v1h-1zM42 17h1v1h-1zM43 17h1v1h-1zM45 17h1v1h-1zM42 18h1v1h-1zM46 19h1v1h-1zM40 21h1v1h-1zM42 22h1v1h-1zM47 23h1v1h-1zM48 24h1v1h-1zM39 25h1v1h-1zM42 26h1v1h-1zM48 26h1v1h-1zM40 27h1v1h-1zM44 28h1v1h-1zM46 28h1v1h-1zM49 28h1v1h-1zM40 30h1v1h-1zM41 30h1v1h-1z"/>
<path fill="#c5dcf0" d="M36 12h1v1h-1zM44 17h1v1h-1zM43 18h1v1h-1zM42 19h1v1h-1zM44 19h1v1h-1zM42 20h1v1h-1zM43 20h1v1h-1zM46 20h1v1h-1zM47 20h1v1h-1zM41 21h1v1h-1zM42 21h1v1h-1zM46 21h1v1h-1zM41 22h1v1h-1zM40 23h1v1h-1zM45 23h1v1h-1zM40 24h1v1h-1zM40 25h1v1h-1zM41 25h1v1h-1zM43 25h1v1h-1zM45 25h1v1h-1zM45 27h1v1h-1zM47 27h1v1h-1zM30 28h1v1h-1zM42 28h1v1h-1zM43 28h1v1h-1zM45 28h1v1h-1zM47 28h1v1h-1zM41 29h1v1h-1zM43 29h1v1h-1zM46 29h1v1h-1zM48 29h1v1h-1zM36 30h1v1h-1zM37 30h1v1h-1zM39 42h1v1h-1zM29 43h1v1h-1zM27 48h1v1h-1z"/>
<path fill="#e4dcdf" d="M45 19h1v1h-1zM41 20h1v1h-1zM45 20h1v1h-1zM45 21h1v1h-1zM42 24h1v1h-1zM43 24h1v1h-1zM45 24h1v1h-1zM44 25h1v1h-1zM39 26h1v1h-1zM40 26h1v1h-1zM41 26h1v1h-1zM46 27h1v1h-1zM38 28h1v1h-1zM39 28h1v1h-1zM41 28h1v1h-1zM39 29h1v1h-1zM40 29h1v1h-1zM45 29h1v1h-1zM38 30h1v1h-1zM42 30h1v1h-1z"/>
<path fill="#e4a79f" d="M46 15h1v1h-1zM45 18h1v1h-1z"/>
<path fill="#be3237" d="M45 14h1v1h-1z"/>
</g>
<g transform="translate(49 127) scale(1.4680)" filter="url(#hb)">
<rect width="50" height="50" fill="rgb(28, 50, 100)"/>
<path fill="#1d3f7a" d="M8 17h1v1h-1zM14 30h1v1h-1zM32 42h1v1h-1zM32 45h1v1h-1zM3 46h1v1h-1zM35 47h1v1h-1z"/>
<path fill="#1d4d8f" d="M2 0h1v1h-1zM6 0h1v1h-1zM27 1h1v1h-1zM2 2h1v1h-1zM17 2h1v1h-1zM28 2h1v1h-1zM16 3h1v1h-1zM21 3h1v1h-1zM26 3h1v1h-1zM13 4h1v1h-1zM25 4h1v1h-1zM42 4h1v1h-1zM5 5h1v1h-1zM35 5h1v1h-1zM37 5h1v1h-1zM40 5h1v1h-1zM45 5h1v1h-1zM8 6h1v1h-1zM27 6h1v1h-1zM45 6h1v1h-1zM0 7h1v1h-1zM0 8h1v1h-1zM19 8h1v1h-1zM26 8h1v1h-1zM21 9h1v1h-1zM41 9h1v1h-1zM26 10h1v1h-1zM33 10h1v1h-1zM35 10h1v1h-1zM45 10h1v1h-1zM48 10h1v1h-1zM21 11h1v1h-1zM28 12h1v1h-1zM36 12h1v1h-1zM44 12h1v1h-1zM48 12h1v1h-1zM2 14h1v1h-1zM3 14h1v1h-1zM12 14h1v1h-1zM2 15h1v1h-1zM12 15h1v1h-1zM20 15h1v1h-1zM34 15h1v1h-1zM0 16h1v1h-1zM8 16h1v1h-1zM20 16h1v1h-1zM29 16h1v1h-1zM45 17h1v1h-1zM46 17h1v1h-1zM2 19h1v1h-1zM48 22h1v1h-1zM1 23h1v1h-1zM2 23h1v1h-1zM7 23h1v1h-1zM31 23h1v1h-1zM26 24h1v1h-1zM32 24h1v1h-1zM45 24h1v1h-1zM48 24h1v1h-1zM8 25h1v1h-1zM2 27h1v1h-1zM30 27h1v1h-1zM41 27h1v1h-1zM34 28h1v1h-1zM4 29h1v1h-1zM46 30h1v1h-1zM20 32h1v1h-1zM31 32h1v1h-1zM6 33h1v1h-1zM13 33h1v1h-1zM21 33h1v1h-1zM5 34h1v1h-1zM17 34h1v1h-1zM1 35h1v1h-1zM38 35h1v1h-1zM11 36h1v1h-1zM23 36h1v1h-1zM1 37h1v1h-1zM41 37h1v1h-1zM14 38h1v1h-1zM29 38h1v1h-1zM44 38h1v1h-1zM14 39h1v1h-1zM16 39h1v1h-1zM30 39h1v1h-1zM42 39h1v1h-1zM0 41h1v1h-1zM17 41h1v1h-1zM38 41h1v1h-1zM46 41h1v1h-1zM6 42h1v1h-1zM17 42h1v1h-1zM36 42h1v1h-1zM46 42h1v1h-1zM13 43h1v1h-1zM45 43h1v1h-1zM28 44h1v1h-1zM6 45h1v1h-1zM9 45h1v1h-1zM11 45h1v1h-1zM13 45h1v1h-1zM15 45h1v1h-1zM17 45h1v1h-1zM19 45h1v1h-1zM29 45h1v1h-1zM36 45h1v1h-1zM44 45h1v1h-1zM29 46h1v1h-1zM30 46h1v1h-1zM42 46h1v1h-1zM46 46h1v1h-1zM3 47h1v1h-1zM10 47h1v1h-1zM36 47h1v1h-1zM40 47h1v1h-1zM5 48h1v1h-1zM35 48h1v1h-1zM20 49h1v1h-1zM41 49h1v1h-1z"/>
<path fill="#1e5aa5" d="M25 0h1v1h-1zM29 0h1v1h-1zM43 0h1v1h-1zM1 1h1v1h-1zM14 1h1v1h-1zM6 2h1v1h-1zM46 2h1v1h-1zM14 4h1v1h-1zM34 4h1v1h-1zM43 4h1v1h-1zM3 5h1v1h-1zM6 6h1v1h-1zM21 6h1v1h-1zM35 6h1v1h-1zM33 7h1v1h-1zM46 7h1v1h-1zM25 8h1v1h-1zM48 8h1v1h-1zM10 9h1v1h-1zM22 9h1v1h-1zM14 10h1v1h-1zM23 10h1v1h-1zM29 10h1v1h-1zM37 10h1v1h-1zM8 11h1v1h-1zM43 11h1v1h-1zM2 12h1v1h-1zM20 12h1v1h-1zM39 12h1v1h-1zM46 12h1v1h-1zM8 13h1v1h-1zM22 13h1v1h-1zM44 13h1v1h-1zM5 14h1v1h-1zM42 14h1v1h-1zM47 14h1v1h-1zM1 15h1v1h-1zM18 15h1v1h-1zM21 15h1v1h-1zM27 15h1v1h-1zM32 15h1v1h-1zM5 16h1v1h-1zM26 16h1v1h-1zM46 16h1v1h-1zM9 17h1v1h-1zM43 17h1v1h-1zM17 18h1v1h-1zM23 18h1v1h-1zM5 19h1v1h-1zM28 19h1v1h-1zM11 20h1v1h-1zM46 20h1v1h-1zM35 21h1v1h-1zM5 22h1v1h-1zM19 22h1v1h-1zM32 22h1v1h-1zM34 22h1v1h-1zM45 22h1v1h-1zM18 23h1v1h-1zM20 23h1v1h-1zM22 23h1v1h-1zM26 23h1v1h-1zM3 24h1v1h-1zM8 24h1v1h-1zM21 24h1v1h-1zM31 24h1v1h-1zM42 24h1v1h-1zM46 24h1v1h-1zM22 25h1v1h-1zM44 25h1v1h-1zM29 26h1v1h-1zM31 26h1v1h-1zM35 26h1v1h-1zM36 26h1v1h-1zM45 26h1v1h-1zM49 26h1v1h-1zM0 27h1v1h-1zM10 28h1v1h-1zM32 28h1v1h-1zM38 28h1v1h-1zM48 29h1v1h-1zM4 30h1v1h-1zM33 30h1v1h-1zM42 30h1v1h-1zM15 31h1v1h-1zM49 31h1v1h-1zM6 32h1v1h-1zM10 33h1v1h-1zM18 33h1v1h-1zM35 33h1v1h-1zM37 33h1v1h-1zM8 34h1v1h-1zM27 34h1v1h-1zM38 34h1v1h-1zM5 35h1v1h-1zM30 35h1v1h-1zM0 36h1v1h-1zM8 36h1v1h-1zM26 36h1v1h-1zM37 36h1v1h-1zM43 36h1v1h-1zM16 37h1v1h-1zM18 37h1v1h-1zM19 37h1v1h-1zM26 37h1v1h-1zM36 37h1v1h-1zM45 37h1v1h-1zM37 38h1v1h-1zM3 39h1v1h-1zM4 40h1v1h-1zM5 40h1v1h-1zM14 41h1v1h-1zM16 41h1v1h-1zM27 41h1v1h-1zM31 41h1v1h-1zM37 41h1v1h-1zM11 42h1v1h-1zM22 43h1v1h-1zM27 43h1v1h-1zM36 43h1v1h-1zM37 44h1v1h-1zM43 44h1v1h-1zM5 45h1v1h-1zM23 45h1v1h-1zM7 47h1v1h-1zM8 47h1v1h-1zM17 47h1v1h-1zM13 48h1v1h-1zM14 48h1v1h-1zM27 48h1v1h-1zM28 48h1v1h-1zM44 48h1v1h-1zM3 49h1v1h-1zM27 49h1v1h-1zM38 49h1v1h-1zM48 49h1v1h-1z"/>
<path fill="#2f6fb6" d="M5 0h1v1h-1zM9 0h1v1h-1zM5 1h1v1h-1zM10 1h1v1h-1zM43 1h1v1h-1zM47 2h1v1h-1zM36 3h1v1h-1zM31 4h1v1h-1zM29 5h1v1h-1zM5 6h1v1h-1zM11 7h1v1h-1zM19 7h1v1h-1zM8 8h1v1h-1zM31 8h1v1h-1zM18 10h1v1h-1zM31 10h1v1h-1zM36 11h1v1h-1zM12 13h1v1h-1zM27 13h1v1h-1zM49 13h1v1h-1zM35 14h1v1h-1zM10 15h1v1h-1zM44 15h1v1h-1zM47 15h1v1h-1zM35 17h1v1h-1zM2 18h1v1h-1zM36 20h1v1h-1zM38 20h1v1h-1zM34 21h1v1h-1zM42 21h1v1h-1zM48 21h1v1h-1zM6 22h1v1h-1zM31 22h1v1h-1zM11 23h1v1h-1zM36 23h1v1h-1zM41 23h1v1h-1zM29 24h1v1h-1zM49 24h1v1h-1zM11 26h1v1h-1zM26 26h1v1h-1zM28 26h1v1h-1zM26 27h1v1h-1zM34 27h1v1h-1zM43 27h1v1h-1zM49 27h1v1h-1zM5 28h1v1h-1zM15 28h1v1h-1zM19 28h1v1h-1zM40 28h1v1h-1zM22 30h1v1h-1zM26 31h1v1h-1zM12 32h1v1h-1zM29 32h1v1h-1zM0 33h1v1h-1zM2 33h1v1h-1zM10 34h1v1h-1zM47 34h1v1h-1zM36 35h1v1h-1zM28 36h1v1h-1zM45 36h1v1h-1zM5 37h1v1h-1zM21 38h1v1h-1zM36 39h1v1h-1zM14 40h1v1h-1zM21 40h1v1h-1zM39 40h1v1h-1zM11 41h1v1h-1zM5 42h1v1h-1zM6 43h1v1h-1zM7 43h1v1h-1zM23 43h1v1h-1zM32 43h1v1h-1zM5 44h1v1h-1zM49 45h1v1h-1zM5 46h1v1h-1zM36 46h1v1h-1zM47 46h1v1h-1zM9 47h1v1h-1zM7 48h1v1h-1zM16 48h1v1h-1zM21 48h1v1h-1zM39 48h1v1h-1zM40 48h1v1h-1zM12 49h1v1h-1zM17 49h1v1h-1z"/>
<path fill="#3f84c6" d="M3 1h1v1h-1zM14 2h1v1h-1zM31 3h1v1h-1zM45 3h1v1h-1zM5 4h1v1h-1zM48 4h1v1h-1zM18 5h1v1h-1zM33 5h1v1h-1zM47 5h1v1h-1zM30 6h1v1h-1zM5 7h1v1h-1zM11 8h1v1h-1zM18 8h1v1h-1zM37 8h1v1h-1zM45 8h1v1h-1zM47 8h1v1h-1zM4 9h1v1h-1zM27 9h1v1h-1zM30 9h1v1h-1zM42 9h1v1h-1zM46 9h1v1h-1zM47 10h1v1h-1zM6 11h1v1h-1zM12 11h1v1h-1zM31 11h1v1h-1zM14 12h1v1h-1zM26 12h1v1h-1zM48 13h1v1h-1zM17 14h1v1h-1zM29 14h1v1h-1zM36 14h1v1h-1zM1 16h1v1h-1zM14 16h1v1h-1zM21 16h1v1h-1zM25 16h1v1h-1zM33 16h1v1h-1zM34 16h1v1h-1zM14 17h1v1h-1zM15 17h1v1h-1zM27 17h1v1h-1zM1 18h1v1h-1zM7 18h1v1h-1zM11 18h1v1h-1zM13 18h1v1h-1zM47 18h1v1h-1zM4 19h1v1h-1zM21 19h1v1h-1zM3 20h1v1h-1zM18 20h1v1h-1zM21 20h1v1h-1zM26 20h1v1h-1zM39 20h1v1h-1zM27 21h1v1h-1zM29 21h1v1h-1zM30 21h1v1h-1zM3 22h1v1h-1zM28 22h1v1h-1zM0 24h1v1h-1zM33 24h1v1h-1zM34 25h1v1h-1zM35 25h1v1h-1zM38 25h1v1h-1zM14 27h1v1h-1zM31 27h1v1h-1zM36 27h1v1h-1zM38 27h1v1h-1zM12 28h1v1h-1zM22 28h1v1h-1zM44 28h1v1h-1zM15 29h1v1h-1zM24 29h1v1h-1zM25 29h1v1h-1zM33 29h1v1h-1zM35 29h1v1h-1zM37 29h1v1h-1zM44 29h1v1h-1zM2 30h1v1h-1zM17 30h1v1h-1zM41 30h1v1h-1zM45 30h1v1h-1zM1 31h1v1h-1zM6 31h1v1h-1zM29 31h1v1h-1zM42 31h1v1h-1zM18 32h1v1h-1zM24 32h1v1h-1zM35 32h1v1h-1zM34 33h1v1h-1zM36 33h1v1h-1zM46 33h1v1h-1zM47 33h1v1h-1zM23 34h1v1h-1zM16 35h1v1h-1zM39 35h1v1h-1zM29 36h1v1h-1zM32 36h1v1h-1zM2 37h1v1h-1zM32 37h1v1h-1zM42 37h1v1h-1zM43 38h1v1h-1zM6 39h1v1h-1zM18 39h1v1h-1zM20 39h1v1h-1zM34 40h1v1h-1zM18 41h1v1h-1zM19 42h1v1h-1zM17 43h1v1h-1zM34 43h1v1h-1zM16 44h1v1h-1zM18 44h1v1h-1zM32 44h1v1h-1zM2 45h1v1h-1zM12 45h1v1h-1zM42 45h1v1h-1zM10 46h1v1h-1zM12 46h1v1h-1zM24 46h1v1h-1zM27 46h1v1h-1zM45 46h1v1h-1zM5 47h1v1h-1zM42 47h1v1h-1zM49 48h1v1h-1zM0 49h1v1h-1zM39 49h1v1h-1z"/>
<path fill="#5898d3" d="M37 0h1v1h-1zM42 0h1v1h-1zM6 1h1v1h-1zM32 1h1v1h-1zM30 3h1v1h-1zM41 3h1v1h-1zM4 5h1v1h-1zM10 5h1v1h-1zM26 5h1v1h-1zM14 6h1v1h-1zM29 6h1v1h-1zM8 7h1v1h-1zM33 8h1v1h-1zM18 9h1v1h-1zM48 9h1v1h-1zM7 10h1v1h-1zM1 12h1v1h-1zM7 12h1v1h-1zM16 12h1v1h-1zM25 12h1v1h-1zM21 13h1v1h-1zM30 13h1v1h-1zM15 14h1v1h-1zM28 14h1v1h-1zM23 15h1v1h-1zM24 15h1v1h-1zM49 15h1v1h-1zM3 16h1v1h-1zM18 16h1v1h-1zM49 18h1v1h-1zM10 19h1v1h-1zM47 19h1v1h-1zM25 20h1v1h-1zM41 20h1v1h-1zM0 22h1v1h-1zM7 22h1v1h-1zM24 23h1v1h-1zM27 23h1v1h-1zM35 23h1v1h-1zM43 23h1v1h-1zM28 24h1v1h-1zM18 26h1v1h-1zM23 28h1v1h-1zM26 28h1v1h-1zM6 29h1v1h-1zM10 29h1v1h-1zM38 29h1v1h-1zM5 30h1v1h-1zM13 30h1v1h-1zM25 30h1v1h-1zM13 31h1v1h-1zM1 32h1v1h-1zM17 32h1v1h-1zM25 32h1v1h-1zM20 33h1v1h-1zM27 33h1v1h-1zM30 33h1v1h-1zM11 35h1v1h-1zM21 36h1v1h-1zM11 37h1v1h-1zM38 38h1v1h-1zM1 39h1v1h-1zM4 39h1v1h-1zM7 41h1v1h-1zM13 42h1v1h-1zM14 42h1v1h-1zM41 42h1v1h-1zM41 43h1v1h-1zM43 43h1v1h-1zM0 44h1v1h-1zM11 44h1v1h-1zM29 44h1v1h-1zM38 44h1v1h-1zM46 44h1v1h-1zM27 45h1v1h-1zM34 46h1v1h-1zM39 46h1v1h-1zM15 47h1v1h-1zM33 47h1v1h-1zM6 48h1v1h-1zM24 48h1v1h-1zM37 48h1v1h-1zM2 49h1v1h-1zM31 49h1v1h-1z"/>
<path fill="#75adde" d="M3 0h1v1h-1zM16 0h1v1h-1zM18 1h1v1h-1zM30 2h1v1h-1zM2 4h1v1h-1zM37 4h1v1h-1zM49 4h1v1h-1zM2 5h1v1h-1zM15 5h1v1h-1zM47 6h1v1h-1zM16 7h1v1h-1zM36 9h1v1h-1zM1 10h1v1h-1zM46 14h1v1h-1zM48 14h1v1h-1zM1 17h1v1h-1zM40 18h1v1h-1zM5 20h1v1h-1zM19 21h1v1h-1zM46 21h1v1h-1zM14 22h1v1h-1zM36 22h1v1h-1zM19 25h1v1h-1zM40 26h1v1h-1zM28 27h1v1h-1zM48 28h1v1h-1zM17 31h1v1h-1zM8 32h1v1h-1zM23 33h1v1h-1zM31 33h1v1h-1zM26 35h1v1h-1zM27 37h1v1h-1zM3 38h1v1h-1zM15 38h1v1h-1zM28 38h1v1h-1zM35 38h1v1h-1zM40 43h1v1h-1zM14 45h1v1h-1zM18 45h1v1h-1zM18 46h1v1h-1zM20 47h1v1h-1zM22 47h1v1h-1z"/>
<path fill="#95c3e8" d="M26 0h1v1h-1zM2 3h1v1h-1zM46 3h1v1h-1zM22 4h1v1h-1zM12 5h1v1h-1zM3 6h1v1h-1zM36 6h1v1h-1zM49 7h1v1h-1zM20 9h1v1h-1zM49 11h1v1h-1zM4 12h1v1h-1zM25 13h1v1h-1zM17 15h1v1h-1zM22 15h1v1h-1zM4 16h1v1h-1zM28 16h1v1h-1zM29 18h1v1h-1zM35 20h1v1h-1zM17 25h1v1h-1zM26 25h1v1h-1zM17 26h1v1h-1zM0 28h1v1h-1zM34 31h1v1h-1zM4 35h1v1h-1zM24 35h1v1h-1zM33 36h1v1h-1zM2 39h1v1h-1zM23 40h1v1h-1zM26 44h1v1h-1zM16 45h1v1h-1zM22 49h1v1h-1z"/>
<path fill="#c5dcf0" d="M21 0h1v1h-1zM3 2h1v1h-1zM48 2h1v1h-1zM13 3h1v1h-1zM6 4h1v1h-1zM1 5h1v1h-1zM16 6h1v1h-1zM48 6h1v1h-1zM12 9h1v1h-1zM12 12h1v1h-1zM8 19h1v1h-1zM13 19h1v1h-1zM26 19h1v1h-1zM10 20h1v1h-1zM31 21h1v1h-1zM28 23h1v1h-1zM16 24h1v1h-1zM39 25h1v1h-1zM46 28h1v1h-1zM0 29h1v1h-1zM46 29h1v1h-1zM46 35h1v1h-1zM40 37h1v1h-1zM32 38h1v1h-1zM36 40h1v1h-1zM49 40h1v1h-1zM0 42h1v1h-1zM8 43h1v1h-1zM35 43h1v1h-1zM6 44h1v1h-1zM46 48h1v1h-1zM15 49h1v1h-1zM45 49h1v1h-1z"/>
<path fill="#e4dcdf" d="M45 0h1v1h-1zM45 1h1v1h-1zM25 5h1v1h-1zM41 5h1v1h-1zM15 7h1v1h-1zM39 10h1v1h-1zM20 11h1v1h-1zM37 15h1v1h-1zM17 16h1v1h-1zM47 16h1v1h-1zM43 18h1v1h-1zM44 18h1v1h-1zM25 19h1v1h-1zM37 19h1v1h-1zM40 19h1v1h-1zM44 19h1v1h-1zM20 24h1v1h-1zM1 28h1v1h-1zM28 28h1v1h-1zM27 29h1v1h-1zM32 29h1v1h-1zM44 33h1v1h-1zM37 34h1v1h-1zM3 36h1v1h-1zM48 37h1v1h-1zM21 41h1v1h-1zM32 41h1v1h-1zM1 43h1v1h-1zM16 43h1v1h-1zM34 45h1v1h-1zM8 46h1v1h-1zM26 47h1v1h-1zM25 49h1v1h-1z"/>
<path fill="#be3237" d="M41 11h1v1h-1zM11 19h1v1h-1zM41 38h1v1h-1z"/>
</g>
<g transform="translate(140 127) scale(1.4800)" filter="url(#hb)">
<rect width="50" height="50" fill="rgb(28, 50, 100)"/>
<path fill="#1e5aa5" d="M9 1h1v1h-1zM13 2h1v1h-1zM8 4h1v1h-1zM9 6h1v1h-1zM33 6h1v1h-1zM22 7h1v1h-1zM40 7h1v1h-1zM12 24h1v1h-1zM41 26h1v1h-1zM48 28h1v1h-1zM4 42h1v1h-1z"/>
<path fill="#2f6fb6" d="M0 0h1v1h-1zM32 0h1v1h-1zM47 1h1v1h-1zM28 2h1v1h-1zM11 7h1v1h-1zM41 8h1v1h-1zM43 10h1v1h-1zM48 13h1v1h-1zM27 14h1v1h-1zM44 14h1v1h-1zM0 17h1v1h-1zM0 23h1v1h-1zM46 23h1v1h-1zM4 24h1v1h-1zM42 29h1v1h-1zM3 30h1v1h-1zM35 30h1v1h-1zM46 33h1v1h-1zM33 34h1v1h-1zM6 36h1v1h-1zM8 37h1v1h-1zM34 37h1v1h-1zM0 38h1v1h-1zM37 39h1v1h-1zM13 40h1v1h-1zM35 44h1v1h-1zM22 45h1v1h-1zM44 45h1v1h-1zM22 48h1v1h-1zM28 48h1v1h-1z"/>
<path fill="#3f84c6" d="M43 0h1v1h-1zM0 1h1v1h-1zM6 1h1v1h-1zM19 2h1v1h-1zM47 3h1v1h-1zM49 3h1v1h-1zM2 5h1v1h-1zM45 5h1v1h-1zM46 5h1v1h-1zM47 5h1v1h-1zM27 6h1v1h-1zM18 7h1v1h-1zM46 7h1v1h-1zM1 10h1v1h-1zM8 10h1v1h-1zM16 12h1v1h-1zM34 12h1v1h-1zM7 15h1v1h-1zM17 15h1v1h-1zM5 16h1v1h-1zM7 17h1v1h-1zM24 17h1v1h-1zM26 19h1v1h-1zM11 20h1v1h-1zM17 21h1v1h-1zM24 21h1v1h-1zM38 23h1v1h-1zM18 24h1v1h-1zM28 27h1v1h-1zM17 28h1v1h-1zM9 29h1v1h-1zM10 29h1v1h-1zM24 29h1v1h-1zM43 34h1v1h-1zM18 37h1v1h-1zM19 37h1v1h-1zM20 37h1v1h-1zM5 38h1v1h-1zM11 38h1v1h-1zM42 38h1v1h-1zM46 38h1v1h-1zM35 40h1v1h-1zM6 41h1v1h-1zM12 41h1v1h-1zM45 42h1v1h-1zM43 44h1v1h-1zM49 44h1v1h-1zM21 45h1v1h-1zM29 45h1v1h-1zM31 45h1v1h-1zM14 46h1v1h-1zM16 46h1v1h-1zM42 46h1v1h-1zM42 47h1v1h-1zM7 49h1v1h-1zM9 49h1v1h-1z"/>
<path fill="#5898d3" d="M2 0h1v1h-1zM6 0h1v1h-1zM14 0h1v1h-1zM17 0h1v1h-1zM3 2h1v1h-1zM23 4h1v1h-1zM5 5h1v1h-1zM9 5h1v1h-1zM42 5h1v1h-1zM1 7h1v1h-1zM5 7h1v1h-1zM35 8h1v1h-1zM45 8h1v1h-1zM35 9h1v1h-1zM31 11h1v1h-1zM36 12h1v1h-1zM6 13h1v1h-1zM28 15h1v1h-1zM39 15h1v1h-1zM45 15h1v1h-1zM33 16h1v1h-1zM37 17h1v1h-1zM7 18h1v1h-1zM0 20h1v1h-1zM33 21h1v1h-1zM29 23h1v1h-1zM32 23h1v1h-1zM48 26h1v1h-1zM8 27h1v1h-1zM47 27h1v1h-1zM39 28h1v1h-1zM43 28h1v1h-1zM30 29h1v1h-1zM11 32h1v1h-1zM18 34h1v1h-1zM48 34h1v1h-1zM40 35h1v1h-1zM35 36h1v1h-1zM4 39h1v1h-1zM10 39h1v1h-1zM28 40h1v1h-1zM24 42h1v1h-1zM34 42h1v1h-1zM30 43h1v1h-1zM48 43h1v1h-1zM1 45h1v1h-1zM5 47h1v1h-1zM33 47h1v1h-1zM40 47h1v1h-1zM3 48h1v1h-1zM37 49h1v1h-1z"/>
<path fill="#75adde" d="M18 0h1v1h-1zM14 2h1v1h-1zM11 3h1v1h-1zM28 3h1v1h-1zM29 3h1v1h-1zM33 3h1v1h-1zM34 5h1v1h-1zM2 10h1v1h-1zM6 10h1v1h-1zM42 12h1v1h-1zM46 12h1v1h-1zM7 13h1v1h-1zM11 13h1v1h-1zM31 14h1v1h-1zM35 14h1v1h-1zM19 16h1v1h-1zM10 17h1v1h-1zM27 17h1v1h-1zM41 17h1v1h-1zM20 19h1v1h-1zM45 19h1v1h-1zM2 20h1v1h-1zM44 20h1v1h-1zM4 21h1v1h-1zM12 22h1v1h-1zM21 23h1v1h-1zM26 23h1v1h-1zM26 24h1v1h-1zM42 24h1v1h-1zM23 25h1v1h-1zM28 25h1v1h-1zM48 25h1v1h-1zM20 28h1v1h-1zM6 29h1v1h-1zM44 29h1v1h-1zM27 30h1v1h-1zM15 33h1v1h-1zM21 33h1v1h-1zM35 33h1v1h-1zM38 33h1v1h-1zM46 34h1v1h-1zM24 35h1v1h-1zM14 36h1v1h-1zM24 36h1v1h-1zM22 37h1v1h-1zM20 38h1v1h-1zM36 38h1v1h-1zM7 43h1v1h-1zM24 43h1v1h-1zM16 44h1v1h-1zM17 44h1v1h-1zM33 45h1v1h-1zM41 45h1v1h-1zM17 46h1v1h-1zM21 46h1v1h-1zM40 48h1v1h-1zM29 49h1v1h-1z"/>
<path fill="#95c3e8" d="M20 2h1v1h-1zM12 5h1v1h-1zM0 6h1v1h-1zM17 6h1v1h-1zM36 10h1v1h-1zM40 10h1v1h-1zM38 11h1v1h-1zM37 15h1v1h-1zM8 17h1v1h-1zM41 19h1v1h-1zM21 20h1v1h-1zM25 22h1v1h-1zM29 25h1v1h-1zM3 29h1v1h-1zM35 29h1v1h-1zM48 29h1v1h-1zM33 33h1v1h-1zM28 35h1v1h-1zM4 36h1v1h-1zM1 38h1v1h-1zM5 40h1v1h-1zM38 40h1v1h-1zM20 41h1v1h-1zM33 41h1v1h-1zM35 42h1v1h-1zM36 42h1v1h-1zM29 44h1v1h-1zM47 44h1v1h-1zM32 47h1v1h-1zM49 48h1v1h-1zM8 49h1v1h-1zM20 49h1v1h-1z"/>
<path fill="#c5dcf0" d="M7 1h1v1h-1zM2 4h1v1h-1zM26 4h1v1h-1zM45 6h1v1h-1zM48 6h1v1h-1zM23 9h1v1h-1zM39 9h1v1h-1zM33 10h1v1h-1zM18 11h1v1h-1zM41 11h1v1h-1zM46 11h1v1h-1zM45 21h1v1h-1zM7 22h1v1h-1zM47 22h1v1h-1zM29 28h1v1h-1zM32 30h1v1h-1zM43 30h1v1h-1zM24 31h1v1h-1zM32 31h1v1h-1zM10 32h1v1h-1zM43 37h1v1h-1zM15 38h1v1h-1zM33 46h1v1h-1zM35 47h1v1h-1z"/>
<path fill="#e4dcdf" d="M26 3h1v1h-1zM11 4h1v1h-1zM19 4h1v1h-1zM15 5h1v1h-1zM8 6h1v1h-1zM21 6h1v1h-1zM32 6h1v1h-1zM31 7h1v1h-1zM41 7h1v1h-1zM2 8h1v1h-1zM21 8h1v1h-1zM48 8h1v1h-1zM40 9h1v1h-1zM27 10h1v1h-1zM29 10h1v1h-1zM6 12h1v1h-1zM25 12h1v1h-1zM3 13h1v1h-1zM17 13h1v1h-1zM8 14h1v1h-1zM29 14h1v1h-1zM36 14h1v1h-1zM29 15h1v1h-1zM34 15h1v1h-1zM30 16h1v1h-1zM25 17h1v1h-1zM33 17h1v1h-1zM11 18h1v1h-1zM33 18h1v1h-1zM7 19h1v1h-1zM33 20h1v1h-1zM2 21h1v1h-1zM25 21h1v1h-1zM8 22h1v1h-1zM24 22h1v1h-1zM2 23h1v1h-1zM16 23h1v1h-1zM38 24h1v1h-1zM18 25h1v1h-1zM41 25h1v1h-1zM0 26h1v1h-1zM49 27h1v1h-1zM23 28h1v1h-1zM27 28h1v1h-1zM9 30h1v1h-1zM16 30h1v1h-1zM28 30h1v1h-1zM47 30h1v1h-1zM11 31h1v1h-1zM4 32h1v1h-1zM21 32h1v1h-1zM26 32h1v1h-1zM14 33h1v1h-1zM23 33h1v1h-1zM48 33h1v1h-1zM34 35h1v1h-1zM44 35h1v1h-1zM38 36h1v1h-1zM12 37h1v1h-1zM28 37h1v1h-1zM30 37h1v1h-1zM38 37h1v1h-1zM39 37h1v1h-1zM46 37h1v1h-1zM2 41h1v1h-1zM29 41h1v1h-1zM31 41h1v1h-1zM30 42h1v1h-1zM37 42h1v1h-1zM9 43h1v1h-1zM39 43h1v1h-1zM41 43h1v1h-1zM3 44h1v1h-1zM24 44h1v1h-1zM24 45h1v1h-1zM37 46h1v1h-1zM47 46h1v1h-1zM27 48h1v1h-1zM42 49h1v1h-1z"/>
<path fill="#e4a79f" d="M22 0h1v1h-1zM13 4h1v1h-1zM28 6h1v1h-1zM20 8h1v1h-1zM36 23h1v1h-1zM48 30h1v1h-1zM9 34h1v1h-1zM42 34h1v1h-1zM33 35h1v1h-1zM39 38h1v1h-1zM45 39h1v1h-1zM45 41h1v1h-1zM32 46h1v1h-1zM33 49h1v1h-1z"/>
<path fill="#be3237" d="M41 0h1v1h-1zM44 9h1v1h-1zM33 14h1v1h-1zM4 17h1v1h-1zM30 33h1v1h-1zM31 33h1v1h-1zM36 37h1v1h-1z"/>
</g>
<g transform="translate(231 127) scale(1.4600)" filter="url(#hb)">
<rect width="50" height="50" fill="rgb(28, 50, 100)"/>
<path fill="#1d3f7a" d="M30 2h1v1h-1zM17 22h1v1h-1zM28 24h1v1h-1zM2 28h1v1h-1zM1 32h1v1h-1zM7 39h1v1h-1zM10 41h1v1h-1z"/>
<path fill="#1d4d8f" d="M45 0h1v1h-1zM48 0h1v1h-1zM5 1h1v1h-1zM12 1h1v1h-1zM20 1h1v1h-1zM4 2h1v1h-1zM16 2h1v1h-1zM29 2h1v1h-1zM33 2h1v1h-1zM8 3h1v1h-1zM9 3h1v1h-1zM11 3h1v1h-1zM20 3h1v1h-1zM47 3h1v1h-1zM8 4h1v1h-1zM25 4h1v1h-1zM27 4h1v1h-1zM34 4h1v1h-1zM37 5h1v1h-1zM45 5h1v1h-1zM11 6h1v1h-1zM17 6h1v1h-1zM27 6h1v1h-1zM2 7h1v1h-1zM20 7h1v1h-1zM39 8h1v1h-1zM49 8h1v1h-1zM23 9h1v1h-1zM24 9h1v1h-1zM34 9h1v1h-1zM35 9h1v1h-1zM38 9h1v1h-1zM39 9h1v1h-1zM48 9h1v1h-1zM49 9h1v1h-1zM8 10h1v1h-1zM25 10h1v1h-1zM39 10h1v1h-1zM7 11h1v1h-1zM21 11h1v1h-1zM4 12h1v1h-1zM7 12h1v1h-1zM11 12h1v1h-1zM21 12h1v1h-1zM0 13h1v1h-1zM6 13h1v1h-1zM10 13h1v1h-1zM22 13h1v1h-1zM4 14h1v1h-1zM10 14h1v1h-1zM41 14h1v1h-1zM47 14h1v1h-1zM40 15h1v1h-1zM46 15h1v1h-1zM2 16h1v1h-1zM10 16h1v1h-1zM18 16h1v1h-1zM20 16h1v1h-1zM27 16h1v1h-1zM31 16h1v1h-1zM42 16h1v1h-1zM45 16h1v1h-1zM27 17h1v1h-1zM32 17h1v1h-1zM44 17h1v1h-1zM18 18h1v1h-1zM19 18h1v1h-1zM48 18h1v1h-1zM16 19h1v1h-1zM13 20h1v1h-1zM16 20h1v1h-1zM22 20h1v1h-1zM1 21h1v1h-1zM21 21h1v1h-1zM24 21h1v1h-1zM38 21h1v1h-1zM3 22h1v1h-1zM13 22h1v1h-1zM34 22h1v1h-1zM36 22h1v1h-1zM44 22h1v1h-1zM3 23h1v1h-1zM4 23h1v1h-1zM15 23h1v1h-1zM29 23h1v1h-1zM10 24h1v1h-1zM14 24h1v1h-1zM2 25h1v1h-1zM14 25h1v1h-1zM16 25h1v1h-1zM17 25h1v1h-1zM27 25h1v1h-1zM39 25h1v1h-1zM25 26h1v1h-1zM35 26h1v1h-1zM27 27h1v1h-1zM36 27h1v1h-1zM46 27h1v1h-1zM7 28h1v1h-1zM9 28h1v1h-1zM15 28h1v1h-1zM26 28h1v1h-1zM37 28h1v1h-1zM38 28h1v1h-1zM0 29h1v1h-1zM33 29h1v1h-1zM25 30h1v1h-1zM45 30h1v1h-1zM46 30h1v1h-1zM48 30h1v1h-1zM21 31h1v1h-1zM23 31h1v1h-1zM29 31h1v1h-1zM30 31h1v1h-1zM31 31h1v1h-1zM35 31h1v1h-1zM4 32h1v1h-1zM22 32h1v1h-1zM29 32h1v1h-1zM43 32h1v1h-1zM3 33h1v1h-1zM12 33h1v1h-1zM25 33h1v1h-1zM46 33h1v1h-1zM4 34h1v1h-1zM28 34h1v1h-1zM7 35h1v1h-1zM20 35h1v1h-1zM21 35h1v1h-1zM34 35h1v1h-1zM38 35h1v1h-1zM28 36h1v1h-1zM41 36h1v1h-1zM49 36h1v1h-1zM18 37h1v1h-1zM24 37h1v1h-1zM26 37h1v1h-1zM41 37h1v1h-1zM3 38h1v1h-1zM30 39h1v1h-1zM32 39h1v1h-1zM34 39h1v1h-1zM37 39h1v1h-1zM40 39h1v1h-1zM3 40h1v1h-1zM9 40h1v1h-1zM12 40h1v1h-1zM35 40h1v1h-1zM43 40h1v1h-1zM24 41h1v1h-1zM25 41h1v1h-1zM37 41h1v1h-1zM43 41h1v1h-1zM6 42h1v1h-1zM8 42h1v1h-1zM40 42h1v1h-1zM46 42h1v1h-1zM11 43h1v1h-1zM39 43h1v1h-1zM2 44h1v1h-1zM9 44h1v1h-1zM11 44h1v1h-1zM36 44h1v1h-1zM41 44h1v1h-1zM47 44h1v1h-1zM48 44h1v1h-1zM24 45h1v1h-1zM41 45h1v1h-1zM3 46h1v1h-1zM21 46h1v1h-1zM27 46h1v1h-1zM35 46h1v1h-1zM25 47h1v1h-1zM39 47h1v1h-1zM44 47h1v1h-1zM49 47h1v1h-1zM11 48h1v1h-1zM18 48h1v1h-1zM31 48h1v1h-1zM42 48h1v1h-1zM28 49h1v1h-1z"/>
<path fill="#1e5aa5" d="M4 0h1v1h-1zM16 0h1v1h-1zM20 0h1v1h-1zM25 0h1v1h-1zM26 0h1v1h-1zM7 1h1v1h-1zM19 1h1v1h-1zM31 1h1v1h-1zM34 1h1v1h-1zM38 1h1v1h-1zM40 1h1v1h-1zM43 1h1v1h-1zM1 2h1v1h-1zM9 2h1v1h-1zM11 2h1v1h-1zM12 2h1v1h-1zM15 2h1v1h-1zM22 2h1v1h-1zM26 2h1v1h-1zM36 2h1v1h-1zM41 2h1v1h-1zM49 2h1v1h-1zM1 4h1v1h-1zM3 4h1v1h-1zM4 4h1v1h-1zM19 4h1v1h-1zM35 4h1v1h-1zM39 4h1v1h-1zM40 4h1v1h-1zM46 4h1v1h-1zM12 5h1v1h-1zM15 5h1v1h-1zM17 5h1v1h-1zM24 5h1v1h-1zM28 5h1v1h-1zM29 5h1v1h-1zM44 5h1v1h-1zM46 5h1v1h-1zM9 6h1v1h-1zM14 6h1v1h-1zM19 6h1v1h-1zM29 6h1v1h-1zM24 7h1v1h-1zM47 7h1v1h-1zM21 8h1v1h-1zM23 8h1v1h-1zM29 8h1v1h-1zM38 8h1v1h-1zM40 8h1v1h-1zM19 9h1v1h-1zM36 9h1v1h-1zM41 9h1v1h-1zM4 10h1v1h-1zM18 10h1v1h-1zM24 10h1v1h-1zM44 10h1v1h-1zM5 11h1v1h-1zM9 11h1v1h-1zM17 11h1v1h-1zM0 12h1v1h-1zM16 12h1v1h-1zM24 12h1v1h-1zM29 12h1v1h-1zM38 12h1v1h-1zM3 13h1v1h-1zM18 13h1v1h-1zM44 13h1v1h-1zM7 14h1v1h-1zM8 14h1v1h-1zM9 14h1v1h-1zM14 14h1v1h-1zM25 14h1v1h-1zM48 14h1v1h-1zM49 14h1v1h-1zM1 15h1v1h-1zM25 15h1v1h-1zM28 15h1v1h-1zM33 15h1v1h-1zM49 15h1v1h-1zM4 16h1v1h-1zM28 16h1v1h-1zM2 17h1v1h-1zM3 17h1v1h-1zM8 17h1v1h-1zM19 17h1v1h-1zM20 17h1v1h-1zM24 17h1v1h-1zM26 17h1v1h-1zM36 17h1v1h-1zM39 17h1v1h-1zM5 18h1v1h-1zM7 18h1v1h-1zM35 18h1v1h-1zM43 18h1v1h-1zM49 18h1v1h-1zM0 19h1v1h-1zM2 19h1v1h-1zM12 19h1v1h-1zM18 19h1v1h-1zM28 19h1v1h-1zM39 19h1v1h-1zM0 20h1v1h-1zM3 20h1v1h-1zM25 20h1v1h-1zM27 20h1v1h-1zM33 20h1v1h-1zM38 20h1v1h-1zM43 20h1v1h-1zM49 20h1v1h-1zM3 21h1v1h-1zM4 21h1v1h-1zM17 21h1v1h-1zM19 21h1v1h-1zM19 22h1v1h-1zM20 22h1v1h-1zM26 22h1v1h-1zM33 22h1v1h-1zM9 23h1v1h-1zM14 23h1v1h-1zM30 23h1v1h-1zM32 23h1v1h-1zM33 23h1v1h-1zM39 23h1v1h-1zM4 24h1v1h-1zM34 24h1v1h-1zM36 24h1v1h-1zM44 24h1v1h-1zM6 25h1v1h-1zM12 25h1v1h-1zM30 25h1v1h-1zM44 25h1v1h-1zM46 25h1v1h-1zM49 25h1v1h-1zM15 26h1v1h-1zM39 26h1v1h-1zM42 26h1v1h-1zM9 27h1v1h-1zM22 27h1v1h-1zM10 28h1v1h-1zM23 28h1v1h-1zM31 28h1v1h-1zM33 28h1v1h-1zM4 29h1v1h-1zM5 29h1v1h-1zM41 29h1v1h-1zM7 30h1v1h-1zM13 30h1v1h-1zM14 30h1v1h-1zM23 30h1v1h-1zM30 30h1v1h-1zM35 30h1v1h-1zM4 31h1v1h-1zM46 31h1v1h-1zM9 33h1v1h-1zM23 33h1v1h-1zM30 33h1v1h-1zM1 34h1v1h-1zM21 34h1v1h-1zM44 34h1v1h-1zM48 34h1v1h-1zM3 35h1v1h-1zM5 35h1v1h-1zM16 35h1v1h-1zM28 35h1v1h-1zM43 35h1v1h-1zM46 35h1v1h-1zM15 36h1v1h-1zM17 37h1v1h-1zM20 37h1v1h-1zM40 37h1v1h-1zM45 37h1v1h-1zM2 38h1v1h-1zM6 38h1v1h-1zM19 38h1v1h-1zM20 38h1v1h-1zM37 38h1v1h-1zM48 38h1v1h-1zM49 38h1v1h-1zM3 39h1v1h-1zM9 39h1v1h-1zM18 39h1v1h-1zM20 39h1v1h-1zM49 39h1v1h-1zM8 40h1v1h-1zM16 40h1v1h-1zM28 40h1v1h-1zM3 41h1v1h-1zM4 41h1v1h-1zM20 41h1v1h-1zM29 41h1v1h-1zM47 41h1v1h-1zM24 42h1v1h-1zM29 42h1v1h-1zM20 43h1v1h-1zM22 43h1v1h-1zM30 43h1v1h-1zM48 43h1v1h-1zM6 44h1v1h-1zM22 44h1v1h-1zM1 45h1v1h-1zM7 45h1v1h-1zM17 45h1v1h-1zM30 45h1v1h-1zM38 45h1v1h-1zM42 45h1v1h-1zM49 45h1v1h-1zM12 46h1v1h-1zM29 46h1v1h-1zM39 46h1v1h-1zM1 47h1v1h-1zM7 47h1v1h-1zM12 47h1v1h-1zM15 47h1v1h-1zM18 47h1v1h-1zM39 48h1v1h-1zM41 48h1v1h-1zM14 49h1v1h-1zM19 49h1v1h-1zM21 49h1v1h-1zM33 49h1v1h-1zM35 49h1v1h-1zM39 49h1v1h-1zM42 49h1v1h-1z"/>
<path fill="#2f6fb6" d="M1 0h1v1h-1zM34 0h1v1h-1zM46 0h1v1h-1zM13 1h1v1h-1zM3 2h1v1h-1zM44 2h1v1h-1zM6 3h1v1h-1zM22 3h1v1h-1zM28 3h1v1h-1zM43 3h1v1h-1zM44 3h1v1h-1zM17 4h1v1h-1zM43 5h1v1h-1zM4 6h1v1h-1zM12 6h1v1h-1zM18 6h1v1h-1zM26 6h1v1h-1zM5 7h1v1h-1zM31 7h1v1h-1zM40 7h1v1h-1zM43 7h1v1h-1zM30 8h1v1h-1zM32 8h1v1h-1zM4 9h1v1h-1zM7 9h1v1h-1zM14 9h1v1h-1zM32 9h1v1h-1zM6 10h1v1h-1zM17 10h1v1h-1zM20 10h1v1h-1zM23 10h1v1h-1zM28 10h1v1h-1zM35 10h1v1h-1zM45 10h1v1h-1zM49 10h1v1h-1zM10 11h1v1h-1zM26 12h1v1h-1zM44 12h1v1h-1zM21 13h1v1h-1zM29 13h1v1h-1zM45 13h1v1h-1zM19 14h1v1h-1zM24 14h1v1h-1zM44 14h1v1h-1zM3 15h1v1h-1zM24 15h1v1h-1zM34 15h1v1h-1zM43 15h1v1h-1zM7 16h1v1h-1zM17 16h1v1h-1zM35 16h1v1h-1zM39 16h1v1h-1zM47 16h1v1h-1zM4 17h1v1h-1zM10 17h1v1h-1zM14 18h1v1h-1zM30 18h1v1h-1zM41 18h1v1h-1zM3 19h1v1h-1zM6 19h1v1h-1zM8 19h1v1h-1zM13 19h1v1h-1zM27 19h1v1h-1zM44 19h1v1h-1zM46 19h1v1h-1zM5 21h1v1h-1zM29 21h1v1h-1zM31 21h1v1h-1zM34 21h1v1h-1zM35 21h1v1h-1zM49 21h1v1h-1zM10 22h1v1h-1zM7 23h1v1h-1zM21 23h1v1h-1zM23 23h1v1h-1zM24 23h1v1h-1zM6 24h1v1h-1zM23 24h1v1h-1zM5 25h1v1h-1zM10 25h1v1h-1zM28 25h1v1h-1zM32 25h1v1h-1zM38 25h1v1h-1zM41 25h1v1h-1zM30 26h1v1h-1zM36 26h1v1h-1zM44 26h1v1h-1zM48 26h1v1h-1zM10 27h1v1h-1zM13 27h1v1h-1zM26 27h1v1h-1zM42 27h1v1h-1zM49 27h1v1h-1zM17 29h1v1h-1zM21 29h1v1h-1zM43 29h1v1h-1zM1 30h1v1h-1zM5 30h1v1h-1zM42 30h1v1h-1zM43 31h1v1h-1zM44 31h1v1h-1zM5 32h1v1h-1zM23 32h1v1h-1zM36 32h1v1h-1zM49 32h1v1h-1zM21 33h1v1h-1zM22 33h1v1h-1zM32 33h1v1h-1zM34 33h1v1h-1zM47 33h1v1h-1zM17 34h1v1h-1zM20 34h1v1h-1zM22 34h1v1h-1zM33 34h1v1h-1zM40 34h1v1h-1zM47 34h1v1h-1zM6 35h1v1h-1zM18 35h1v1h-1zM37 35h1v1h-1zM4 36h1v1h-1zM2 37h1v1h-1zM13 37h1v1h-1zM23 37h1v1h-1zM33 37h1v1h-1zM28 38h1v1h-1zM36 38h1v1h-1zM43 38h1v1h-1zM13 39h1v1h-1zM46 39h1v1h-1zM18 40h1v1h-1zM25 40h1v1h-1zM27 40h1v1h-1zM30 40h1v1h-1zM39 40h1v1h-1zM40 40h1v1h-1zM27 41h1v1h-1zM39 41h1v1h-1zM7 42h1v1h-1zM17 42h1v1h-1zM22 42h1v1h-1zM30 42h1v1h-1zM33 42h1v1h-1zM6 43h1v1h-1zM34 43h1v1h-1zM20 44h1v1h-1zM30 44h1v1h-1zM40 44h1v1h-1zM49 44h1v1h-1zM21 45h1v1h-1zM35 45h1v1h-1zM39 45h1v1h-1zM44 45h1v1h-1zM5 46h1v1h-1zM10 46h1v1h-1zM11 46h1v1h-1zM13 46h1v1h-1zM37 46h1v1h-1zM43 46h1v1h-1zM0 47h1v1h-1zM6 47h1v1h-1zM14 47h1v1h-1zM24 47h1v1h-1zM29 47h1v1h-1zM16 48h1v1h-1zM20 48h1v1h-1zM48 48h1v1h-1zM49 48h1v1h-1zM46 49h1v1h-1zM48 49h1v1h-1z"/>
<path fill="#3f84c6" d="M0 0h1v1h-1zM35 0h1v1h-1zM40 0h1v1h-1zM17 1h1v1h-1zM21 1h1v1h-1zM22 1h1v1h-1zM26 1h1v1h-1zM29 1h1v1h-1zM39 1h1v1h-1zM2 2h1v1h-1zM7 2h1v1h-1zM19 2h1v1h-1zM20 2h1v1h-1zM24 2h1v1h-1zM31 2h1v1h-1zM48 2h1v1h-1zM18 3h1v1h-1zM21 3h1v1h-1zM6 4h1v1h-1zM18 4h1v1h-1zM3 5h1v1h-1zM11 5h1v1h-1zM20 5h1v1h-1zM27 5h1v1h-1zM38 5h1v1h-1zM23 6h1v1h-1zM31 6h1v1h-1zM25 7h1v1h-1zM36 7h1v1h-1zM3 8h1v1h-1zM5 8h1v1h-1zM46 9h1v1h-1zM15 10h1v1h-1zM22 10h1v1h-1zM33 10h1v1h-1zM40 10h1v1h-1zM8 11h1v1h-1zM29 11h1v1h-1zM49 11h1v1h-1zM15 12h1v1h-1zM36 12h1v1h-1zM5 13h1v1h-1zM25 13h1v1h-1zM0 14h1v1h-1zM5 14h1v1h-1zM27 14h1v1h-1zM8 15h1v1h-1zM16 15h1v1h-1zM22 15h1v1h-1zM26 15h1v1h-1zM3 16h1v1h-1zM9 16h1v1h-1zM16 16h1v1h-1zM29 16h1v1h-1zM38 16h1v1h-1zM11 17h1v1h-1zM29 17h1v1h-1zM45 17h1v1h-1zM1 18h1v1h-1zM49 19h1v1h-1zM2 20h1v1h-1zM42 20h1v1h-1zM16 21h1v1h-1zM23 21h1v1h-1zM30 21h1v1h-1zM33 21h1v1h-1zM5 22h1v1h-1zM47 22h1v1h-1zM35 23h1v1h-1zM41 23h1v1h-1zM19 24h1v1h-1zM24 24h1v1h-1zM46 24h1v1h-1zM3 25h1v1h-1zM24 25h1v1h-1zM43 25h1v1h-1zM11 26h1v1h-1zM16 26h1v1h-1zM24 26h1v1h-1zM6 27h1v1h-1zM14 27h1v1h-1zM34 27h1v1h-1zM43 27h1v1h-1zM18 28h1v1h-1zM22 28h1v1h-1zM25 28h1v1h-1zM24 29h1v1h-1zM46 29h1v1h-1zM26 30h1v1h-1zM39 30h1v1h-1zM40 30h1v1h-1zM41 30h1v1h-1zM1 31h1v1h-1zM12 31h1v1h-1zM27 32h1v1h-1zM39 32h1v1h-1zM45 32h1v1h-1zM0 33h1v1h-1zM7 33h1v1h-1zM26 33h1v1h-1zM39 33h1v1h-1zM0 34h1v1h-1zM7 34h1v1h-1zM9 34h1v1h-1zM10 34h1v1h-1zM45 34h1v1h-1zM40 35h1v1h-1zM5 36h1v1h-1zM36 36h1v1h-1zM42 36h1v1h-1zM28 37h1v1h-1zM26 38h1v1h-1zM41 38h1v1h-1zM19 39h1v1h-1zM22 39h1v1h-1zM31 39h1v1h-1zM39 39h1v1h-1zM6 40h1v1h-1zM37 40h1v1h-1zM45 40h1v1h-1zM6 41h1v1h-1zM30 41h1v1h-1zM33 41h1v1h-1zM43 42h1v1h-1zM44 42h1v1h-1zM24 43h1v1h-1zM43 43h1v1h-1zM3 44h1v1h-1zM25 44h1v1h-1zM44 44h1v1h-1zM4 45h1v1h-1zM46 45h1v1h-1zM48 45h1v1h-1zM4 46h1v1h-1zM8 46h1v1h-1zM24 46h1v1h-1zM33 46h1v1h-1zM3 47h1v1h-1zM8 47h1v1h-1zM5 48h1v1h-1zM43 48h1v1h-1zM0 49h1v1h-1zM22 49h1v1h-1z"/>
<path fill="#5898d3" d="M11 0h1v1h-1zM18 1h1v1h-1zM40 2h1v1h-1zM42 2h1v1h-1zM33 4h1v1h-1zM43 4h1v1h-1zM8 7h1v1h-1zM21 10h1v1h-1zM15 11h1v1h-1zM33 12h1v1h-1zM45 20h1v1h-1zM8 21h1v1h-1zM47 21h1v1h-1zM16 22h1v1h-1zM27 22h1v1h-1zM37 22h1v1h-1zM1 23h1v1h-1zM10 23h1v1h-1zM17 26h1v1h-1zM5 27h1v1h-1zM4 28h1v1h-1zM16 28h1v1h-1zM43 28h1v1h-1zM45 28h1v1h-1zM37 29h1v1h-1zM18 30h1v1h-1zM25 32h1v1h-1zM16 34h1v1h-1zM29 35h1v1h-1zM34 36h1v1h-1zM21 37h1v1h-1zM25 37h1v1h-1zM10 38h1v1h-1zM23 38h1v1h-1zM1 40h1v1h-1zM26 43h1v1h-1zM42 43h1v1h-1zM16 44h1v1h-1zM9 46h1v1h-1zM40 47h1v1h-1zM0 48h1v1h-1zM27 48h1v1h-1zM45 48h1v1h-1z"/>
<path fill="#75adde" d="M42 1h1v1h-1zM46 2h1v1h-1zM25 5h1v1h-1zM36 5h1v1h-1zM42 5h1v1h-1zM41 6h1v1h-1zM10 7h1v1h-1zM44 7h1v1h-1zM9 8h1v1h-1zM30 9h1v1h-1zM14 10h1v1h-1zM41 11h1v1h-1zM8 12h1v1h-1zM34 13h1v1h-1zM1 17h1v1h-1zM25 18h1v1h-1zM7 22h1v1h-1zM5 23h1v1h-1zM35 25h1v1h-1zM18 27h1v1h-1zM5 28h1v1h-1zM27 28h1v1h-1zM47 28h1v1h-1zM26 29h1v1h-1zM34 30h1v1h-1zM2 32h1v1h-1zM26 34h1v1h-1zM2 35h1v1h-1zM47 35h1v1h-1zM48 35h1v1h-1zM8 37h1v1h-1zM9 38h1v1h-1zM0 40h1v1h-1zM15 40h1v1h-1zM23 42h1v1h-1zM37 43h1v1h-1zM45 43h1v1h-1zM46 43h1v1h-1zM30 46h1v1h-1zM19 47h1v1h-1zM21 47h1v1h-1zM5 49h1v1h-1z"/>
<path fill="#95c3e8" d="M12 4h1v1h-1zM48 7h1v1h-1zM22 8h1v1h-1zM36 11h1v1h-1zM42 11h1v1h-1zM20 13h1v1h-1zM22 14h1v1h-1zM35 17h1v1h-1zM34 18h1v1h-1zM45 18h1v1h-1zM47 20h1v1h-1zM43 21h1v1h-1zM31 23h1v1h-1zM5 24h1v1h-1zM25 29h1v1h-1zM35 29h1v1h-1zM36 31h1v1h-1zM42 35h1v1h-1zM11 45h1v1h-1zM15 45h1v1h-1zM8 48h1v1h-1z"/>
<path fill="#c5dcf0" d="M35 6h1v1h-1zM38 6h1v1h-1zM0 7h1v1h-1zM28 7h1v1h-1zM11 8h1v1h-1zM18 8h1v1h-1zM42 8h1v1h-1zM45 8h1v1h-1zM2 9h1v1h-1zM6 9h1v1h-1zM44 9h1v1h-1zM47 10h1v1h-1zM35 12h1v1h-1zM35 13h1v1h-1zM10 15h1v1h-1zM43 16h1v1h-1zM44 16h1v1h-1zM15 18h1v1h-1zM28 18h1v1h-1zM21 20h1v1h-1zM7 21h1v1h-1zM27 26h1v1h-1zM40 26h1v1h-1zM35 27h1v1h-1zM13 28h1v1h-1zM10 33h1v1h-1zM22 41h1v1h-1zM1 42h1v1h-1zM47 42h1v1h-1zM14 43h1v1h-1zM16 43h1v1h-1zM31 43h1v1h-1zM6 45h1v1h-1zM23 45h1v1h-1zM32 45h1v1h-1zM16 47h1v1h-1z"/>
<path fill="#e4dcdf" d="M39 3h1v1h-1zM36 8h1v1h-1zM43 10h1v1h-1zM21 18h1v1h-1zM31 18h1v1h-1zM11 21h1v1h-1zM42 22h1v1h-1zM47 26h1v1h-1zM34 29h1v1h-1zM27 30h1v1h-1zM26 32h1v1h-1zM22 35h1v1h-1zM6 37h1v1h-1zM15 37h1v1h-1zM46 37h1v1h-1zM29 43h1v1h-1zM40 43h1v1h-1zM10 45h1v1h-1zM32 46h1v1h-1zM31 47h1v1h-1z"/>
<path fill="#e4a79f" d="M23 17h1v1h-1zM0 27h1v1h-1z"/>
<path fill="#be3237" d="M48 23h1v1h-1z"/>
</g>
<path d="M86.2 101.4V123.5M82.0 119.3L86.2 123.8L90.4 119.3" stroke="#000" stroke-width="1.6" fill="none"/>
<path d="M268.6 101.4V123.5M264.40000000000003 119.3L268.6 123.8L272.8 119.3" stroke="#000" stroke-width="1.6" fill="none"/>
<g stroke="#e4e4e4" stroke-width="1">
<line x1="363.6" x2="605.7" y1="187.5" y2="187.5"/>
<line x1="363.6" x2="605.7" y1="173.5" y2="173.5"/>
<line x1="363.6" x2="605.7" y1="159.5" y2="159.5"/>
<line x1="363.6" x2="605.7" y1="145.5" y2="145.5"/>
<line x1="363.6" x2="605.7" y1="131.5" y2="131.5"/>
<line x1="363.6" x2="605.7" y1="117.5" y2="117.5"/>
<line x1="363.6" x2="605.7" y1="103.5" y2="103.5"/>
<line x1="363.6" x2="605.7" y1="89.5" y2="89.5"/>
<line x1="363.6" x2="605.7" y1="75.5" y2="75.5"/>
<line x1="363.6" x2="605.7" y1="60.5" y2="60.5"/>
<line x1="363.6" x2="605.7" y1="47.5" y2="47.5"/>
<line x1="363.6" x2="605.7" y1="33.5" y2="33.5"/>
<line x1="377.5" x2="377.5" y1="26.8" y2="194.1"/>
<line x1="401.5" x2="401.5" y1="26.8" y2="194.1"/>
<line x1="425.5" x2="425.5" y1="26.8" y2="194.1"/>
<line x1="448.5" x2="448.5" y1="26.8" y2="194.1"/>
<line x1="472.5" x2="472.5" y1="26.8" y2="194.1"/>
<line x1="496.5" x2="496.5" y1="26.8" y2="194.1"/>
<line x1="520.5" x2="520.5" y1="26.8" y2="194.1"/>
<line x1="544.5" x2="544.5" y1="26.8" y2="194.1"/>
<line x1="568.5" x2="568.5" y1="26.8" y2="194.1"/>
<line x1="592.5" x2="592.5" y1="26.8" y2="194.1"/>
</g>
<rect x="363.6" y="26.8" width="242.1" height="167.3" fill="none" stroke="#b0b0b0" stroke-width="1.4"/>
<g stroke="#b0b0b0" stroke-width="1"><line x1="377.5" x2="377.5" y1="194.5" y2="196.5"/><line x1="401.5" x2="401.5" y1="194.5" y2="196.5"/><line x1="425.5" x2="425.5" y1="194.5" y2="196.5"/><line x1="448.5" x2="448.5" y1="194.5" y2="196.5"/><line x1="472.5" x2="472.5" y1="194.5" y2="196.5"/><line x1="496.5" x2="496.5" y1="194.5" y2="196.5"/><line x1="520.5" x2="520.5" y1="194.5" y2="196.5"/><line x1="544.5" x2="544.5" y1="194.5" y2="196.5"/><line x1="568.5" x2="568.5" y1="194.5" y2="196.5"/><line x1="592.5" x2="592.5" y1="194.5" y2="196.5"/><line x1="361.5" x2="363" y1="47.5" y2="47.5"/><line x1="361.5" x2="363" y1="75.5" y2="75.5"/><line x1="361.5" x2="363" y1="103.5" y2="103.5"/><line x1="361.5" x2="363" y1="131.5" y2="131.5"/><line x1="361.5" x2="363" y1="159.5" y2="159.5"/><line x1="361.5" x2="363" y1="187.5" y2="187.5"/></g>
<text x="351.1" y="48.6" font-size="8.2" textLength="11.2" lengthAdjust="spacingAndGlyphs" fill="#2a2a2a">0.2</text>
<text x="351.1" y="76.6" font-size="8.2" textLength="11.2" lengthAdjust="spacingAndGlyphs" fill="#2a2a2a">0.1</text>
<text x="351.1" y="104.6" font-size="8.2" textLength="11.2" lengthAdjust="spacingAndGlyphs" fill="#2a2a2a">0.0</text>
<text x="347.9" y="132.6" font-size="8.2" textLength="14.4" lengthAdjust="spacingAndGlyphs" fill="#2a2a2a">-0.1</text>
<text x="347.9" y="160.6" font-size="8.2" textLength="14.4" lengthAdjust="spacingAndGlyphs" fill="#2a2a2a">-0.2</text>
<text x="347.9" y="188.6" font-size="8.2" textLength="14.4" lengthAdjust="spacingAndGlyphs" fill="#2a2a2a">-0.3</text>
<text x="488.5" y="22.4" font-size="9.5" textLength="103.4" lengthAdjust="spacingAndGlyphs" text-anchor="middle">Genes paired with Prdx5</text>
<text x="340.0" y="195.0" font-size="12" textLength="168.5" lengthAdjust="spacingAndGlyphs" transform="rotate(-90 340.0 195.0)">Change of distance after disrupting spatial patterns</text>
<text x="368.8" y="202.6" font-size="7.1" textLength="18.0" lengthAdjust="spacingAndGlyphs" fill="#333">Prdx5</text>
<text x="389.8" y="202.6" font-size="7.1" textLength="24.8" lengthAdjust="spacingAndGlyphs" fill="#333">Slc25a3</text>
<text x="416.0" y="202.6" font-size="7.1" textLength="25.2" lengthAdjust="spacingAndGlyphs" fill="#333">Capza2</text>
<text x="441.4" y="202.6" font-size="7.1" textLength="21.9" lengthAdjust="spacingAndGlyphs" fill="#333">Ndufb7</text>
<text x="466.7" y="202.6" font-size="7.1" textLength="21.6" lengthAdjust="spacingAndGlyphs" fill="#333">Uqcr11</text>
<text x="492.3" y="202.6" font-size="7.1" textLength="15.7" lengthAdjust="spacingAndGlyphs" fill="#333">Usp7</text>
<text x="511.5" y="202.6" font-size="7.1" textLength="23.4" lengthAdjust="spacingAndGlyphs" fill="#333">Cep290</text>
<text x="538.4" y="202.6" font-size="7.1" textLength="16.4" lengthAdjust="spacingAndGlyphs" fill="#333">Syt11</text>
<text x="560.7" y="202.6" font-size="7.1" textLength="16.4" lengthAdjust="spacingAndGlyphs" fill="#333">Aldoc</text>
<text x="583.3" y="202.6" font-size="7.1" textLength="30.3" lengthAdjust="spacingAndGlyphs" fill="#333">Hsp90ab1</text>
<line x1="370.8" x2="384" y1="103.3" y2="103.3" stroke="#EC6A66" stroke-width="1.5"/>
<path d="M406.5 83.0h1.3v1.3h-1.3zM397.8 88.4h1.3v1.3h-1.3zM398.1 102.1h1.3v1.3h-1.3zM397.4 95.6h1.3v1.3h-1.3zM402.0 83.2h1.3v1.3h-1.3zM400.7 92.0h1.3v1.3h-1.3zM404.6 94.2h1.3v1.3h-1.3zM397.5 85.1h1.3v1.3h-1.3zM405.2 99.0h1.3v1.3h-1.3zM400.4 84.1h1.3v1.3h-1.3zM404.4 91.3h1.3v1.3h-1.3zM404.4 94.9h1.3v1.3h-1.3zM405.6 91.9h1.3v1.3h-1.3zM400.8 95.8h1.3v1.3h-1.3zM402.1 101.0h1.3v1.3h-1.3zM401.5 108.8h1.3v1.3h-1.3zM397.3 88.4h1.3v1.3h-1.3zM400.9 97.5h1.3v1.3h-1.3zM405.8 98.4h1.3v1.3h-1.3zM405.6 88.5h1.3v1.3h-1.3zM397.2 71.2h1.3v1.3h-1.3zM402.4 111.5h1.3v1.3h-1.3zM398.8 88.4h1.3v1.3h-1.3zM396.6 89.6h1.3v1.3h-1.3zM396.7 105.4h1.3v1.3h-1.3zM404.3 96.9h1.3v1.3h-1.3zM406.2 93.8h1.3v1.3h-1.3zM401.1 100.6h1.3v1.3h-1.3zM399.7 80.1h1.3v1.3h-1.3zM401.0 99.3h1.3v1.3h-1.3zM404.7 90.7h1.3v1.3h-1.3zM403.7 83.4h1.3v1.3h-1.3zM395.8 97.4h1.3v1.3h-1.3zM397.5 108.0h1.3v1.3h-1.3zM405.1 88.1h1.3v1.3h-1.3zM400.8 97.1h1.3v1.3h-1.3zM402.7 88.2h1.3v1.3h-1.3zM404.1 99.6h1.3v1.3h-1.3zM402.4 99.4h1.3v1.3h-1.3zM403.6 87.9h1.3v1.3h-1.3zM401.4 102.3h1.3v1.3h-1.3zM397.7 98.2h1.3v1.3h-1.3zM397.2 98.5h1.3v1.3h-1.3zM406.6 102.4h1.3v1.3h-1.3zM395.2 92.5h1.3v1.3h-1.3zM403.1 100.0h1.3v1.3h-1.3zM405.3 105.0h1.3v1.3h-1.3zM397.7 84.5h1.3v1.3h-1.3zM395.6 103.5h1.3v1.3h-1.3zM399.7 91.9h1.3v1.3h-1.3zM398.9 93.9h1.3v1.3h-1.3zM400.4 84.4h1.3v1.3h-1.3zM400.0 98.6h1.3v1.3h-1.3zM406.0 89.6h1.3v1.3h-1.3zM396.4 104.5h1.3v1.3h-1.3zM406.0 89.7h1.3v1.3h-1.3zM395.6 94.7h1.3v1.3h-1.3zM405.9 91.1h1.3v1.3h-1.3zM398.9 96.7h1.3v1.3h-1.3zM403.5 86.8h1.3v1.3h-1.3zM395.1 86.6h1.3v1.3h-1.3zM400.2 100.6h1.3v1.3h-1.3zM402.9 100.9h1.3v1.3h-1.3zM402.3 95.7h1.3v1.3h-1.3zM404.4 106.9h1.3v1.3h-1.3zM396.8 87.5h1.3v1.3h-1.3zM399.7 103.8h1.3v1.3h-1.3zM402.2 85.5h1.3v1.3h-1.3zM396.2 110.3h1.3v1.3h-1.3zM404.7 97.3h1.3v1.3h-1.3zM399.9 96.7h1.3v1.3h-1.3zM398.5 110.8h1.3v1.3h-1.3zM397.6 100.4h1.3v1.3h-1.3zM402.6 101.2h1.3v1.3h-1.3zM395.6 82.3h1.3v1.3h-1.3zM397.9 90.8h1.3v1.3h-1.3zM398.6 83.5h1.3v1.3h-1.3zM398.0 86.4h1.3v1.3h-1.3zM403.5 87.1h1.3v1.3h-1.3zM401.9 104.7h1.3v1.3h-1.3zM405.5 84.2h1.3v1.3h-1.3zM403.2 89.6h1.3v1.3h-1.3zM398.5 94.4h1.3v1.3h-1.3zM398.8 104.3h1.3v1.3h-1.3zM397.1 109.5h1.3v1.3h-1.3zM397.9 98.9h1.3v1.3h-1.3zM402.1 88.0h1.3v1.3h-1.3zM403.5 94.5h1.3v1.3h-1.3zM398.5 98.3h1.3v1.3h-1.3zM399.0 81.5h1.3v1.3h-1.3zM404.4 99.0h1.3v1.3h-1.3zM406.2 90.1h1.3v1.3h-1.3zM396.0 96.2h1.3v1.3h-1.3zM395.9 98.1h1.3v1.3h-1.3zM403.9 98.2h1.3v1.3h-1.3zM400.8 93.9h1.3v1.3h-1.3zM400.0 96.0h1.3v1.3h-1.3zM402.4 86.4h1.3v1.3h-1.3zM403.9 93.7h1.3v1.3h-1.3zM395.9 85.0h1.3v1.3h-1.3zM406.2 93.5h1.3v1.3h-1.3zM406.2 95.3h1.3v1.3h-1.3zM399.9 100.7h1.3v1.3h-1.3zM400.5 91.5h1.3v1.3h-1.3zM398.9 77.9h1.3v1.3h-1.3zM401.9 94.8h1.3v1.3h-1.3zM397.4 88.0h1.3v1.3h-1.3zM401.3 100.9h1.3v1.3h-1.3zM405.5 90.8h1.3v1.3h-1.3zM400.9 91.6h1.3v1.3h-1.3zM404.6 106.6h1.3v1.3h-1.3zM397.1 90.9h1.3v1.3h-1.3zM405.3 90.5h1.3v1.3h-1.3zM396.5 90.9h1.3v1.3h-1.3zM397.5 94.2h1.3v1.3h-1.3zM403.4 83.2h1.3v1.3h-1.3zM398.6 95.7h1.3v1.3h-1.3zM396.4 107.1h1.3v1.3h-1.3zM396.1 95.2h1.3v1.3h-1.3zM404.3 100.6h1.3v1.3h-1.3zM395.5 108.5h1.3v1.3h-1.3zM395.7 103.9h1.3v1.3h-1.3zM406.0 100.3h1.3v1.3h-1.3zM404.1 101.7h1.3v1.3h-1.3zM399.3 102.6h1.3v1.3h-1.3zM397.3 88.8h1.3v1.3h-1.3zM405.1 93.3h1.3v1.3h-1.3zM404.2 90.0h1.3v1.3h-1.3zM402.8 87.4h1.3v1.3h-1.3zM401.2 96.0h1.3v1.3h-1.3z" fill="#D28A1E"/>
<polygon points="401.90,71.80 401.91,72.61 401.92,73.42 401.94,74.23 401.95,75.04 401.96,75.85 401.97,76.66 402.03,77.47 402.19,78.28 402.51,79.09 402.98,79.90 403.54,80.71 404.16,81.52 404.80,82.33 405.47,83.14 406.12,83.95 406.72,84.76 407.25,85.57 407.72,86.38 408.15,87.19 408.55,88.00 408.90,88.81 409.16,89.62 409.36,90.43 409.52,91.24 409.65,92.05 409.73,92.86 409.73,93.67 409.63,94.48 409.48,95.29 409.31,96.11 409.14,96.92 408.96,97.73 408.75,98.54 408.49,99.35 408.18,100.16 407.83,100.97 407.48,101.78 407.12,102.59 406.76,103.40 406.38,104.21 405.99,105.02 405.59,105.83 405.18,106.64 404.79,107.45 404.41,108.26 404.05,109.07 403.70,109.88 403.35,110.69 402.99,111.50 402.65,112.31 402.37,113.12 402.18,113.93 402.08,114.74 402.03,115.55 402.01,116.36 401.98,117.17 401.95,117.98 401.93,118.79 401.90,119.60 401.10,119.60 401.07,118.79 401.05,117.98 401.02,117.17 400.99,116.36 400.97,115.55 400.92,114.74 400.82,113.93 400.63,113.12 400.35,112.31 400.01,111.50 399.65,110.69 399.30,109.88 398.95,109.07 398.59,108.26 398.21,107.45 397.82,106.64 397.41,105.83 397.01,105.02 396.62,104.21 396.24,103.40 395.88,102.59 395.52,101.78 395.17,100.97 394.82,100.16 394.51,99.35 394.25,98.54 394.04,97.73 393.86,96.92 393.69,96.11 393.52,95.29 393.37,94.48 393.27,93.67 393.27,92.86 393.35,92.05 393.48,91.24 393.64,90.43 393.84,89.62 394.10,88.81 394.45,88.00 394.85,87.19 395.28,86.38 395.75,85.57 396.28,84.76 396.88,83.95 397.53,83.14 398.20,82.33 398.84,81.52 399.46,80.71 400.02,79.90 400.49,79.09 400.81,78.28 400.97,77.47 401.03,76.66 401.04,75.85 401.05,75.04 401.06,74.23 401.08,73.42 401.09,72.61 401.10,71.80" fill="none" stroke="#D28A1E" stroke-width="1.7" stroke-linejoin="round"/>
<path d="M419.2 117.1h1.3v1.3h-1.3zM427.9 136.4h1.3v1.3h-1.3zM422.8 117.1h1.3v1.3h-1.3zM420.3 98.4h1.3v1.3h-1.3zM421.0 98.0h1.3v1.3h-1.3zM428.7 120.0h1.3v1.3h-1.3zM429.6 124.7h1.3v1.3h-1.3zM421.2 121.2h1.3v1.3h-1.3zM430.6 124.6h1.3v1.3h-1.3zM429.0 110.3h1.3v1.3h-1.3zM422.9 112.6h1.3v1.3h-1.3zM419.6 107.6h1.3v1.3h-1.3zM420.8 113.7h1.3v1.3h-1.3zM424.1 107.8h1.3v1.3h-1.3zM421.4 127.3h1.3v1.3h-1.3zM421.2 102.6h1.3v1.3h-1.3zM422.2 104.7h1.3v1.3h-1.3zM429.2 124.6h1.3v1.3h-1.3zM419.5 113.2h1.3v1.3h-1.3zM429.8 111.3h1.3v1.3h-1.3zM424.4 137.1h1.3v1.3h-1.3zM427.6 130.7h1.3v1.3h-1.3zM425.0 107.1h1.3v1.3h-1.3zM430.0 104.2h1.3v1.3h-1.3zM421.2 117.1h1.3v1.3h-1.3zM422.0 118.7h1.3v1.3h-1.3zM424.9 112.2h1.3v1.3h-1.3zM424.9 119.7h1.3v1.3h-1.3zM422.9 121.5h1.3v1.3h-1.3zM422.6 127.5h1.3v1.3h-1.3zM420.1 107.0h1.3v1.3h-1.3zM424.9 121.8h1.3v1.3h-1.3zM428.3 96.2h1.3v1.3h-1.3zM428.8 97.5h1.3v1.3h-1.3zM424.0 96.3h1.3v1.3h-1.3zM430.4 101.5h1.3v1.3h-1.3zM430.3 126.0h1.3v1.3h-1.3zM422.8 113.5h1.3v1.3h-1.3zM420.4 117.2h1.3v1.3h-1.3zM428.7 115.9h1.3v1.3h-1.3zM430.0 105.5h1.3v1.3h-1.3zM426.4 95.1h1.3v1.3h-1.3zM430.2 104.8h1.3v1.3h-1.3zM424.6 128.4h1.3v1.3h-1.3zM425.1 111.0h1.3v1.3h-1.3zM419.9 115.1h1.3v1.3h-1.3zM423.3 108.0h1.3v1.3h-1.3zM429.8 124.7h1.3v1.3h-1.3zM420.2 122.6h1.3v1.3h-1.3zM420.6 113.4h1.3v1.3h-1.3zM419.4 118.2h1.3v1.3h-1.3zM424.8 114.4h1.3v1.3h-1.3zM426.1 119.8h1.3v1.3h-1.3zM425.2 120.6h1.3v1.3h-1.3zM429.2 118.8h1.3v1.3h-1.3zM426.9 131.3h1.3v1.3h-1.3zM426.4 133.5h1.3v1.3h-1.3zM425.9 96.4h1.3v1.3h-1.3zM424.9 112.3h1.3v1.3h-1.3zM420.5 95.6h1.3v1.3h-1.3zM420.2 112.4h1.3v1.3h-1.3zM426.5 127.7h1.3v1.3h-1.3zM421.5 123.6h1.3v1.3h-1.3zM423.9 119.5h1.3v1.3h-1.3zM426.5 99.2h1.3v1.3h-1.3zM426.0 126.5h1.3v1.3h-1.3zM421.9 120.4h1.3v1.3h-1.3zM422.2 109.5h1.3v1.3h-1.3zM420.7 125.7h1.3v1.3h-1.3zM426.4 93.9h1.3v1.3h-1.3zM427.4 104.0h1.3v1.3h-1.3zM420.6 125.9h1.3v1.3h-1.3zM422.5 94.5h1.3v1.3h-1.3zM420.8 101.0h1.3v1.3h-1.3zM426.2 117.4h1.3v1.3h-1.3zM422.5 125.0h1.3v1.3h-1.3zM429.1 120.8h1.3v1.3h-1.3zM422.6 94.1h1.3v1.3h-1.3zM426.5 108.7h1.3v1.3h-1.3zM426.4 122.6h1.3v1.3h-1.3zM430.0 111.9h1.3v1.3h-1.3zM427.4 105.7h1.3v1.3h-1.3zM428.2 88.2h1.3v1.3h-1.3zM425.8 108.2h1.3v1.3h-1.3zM419.1 133.2h1.3v1.3h-1.3zM423.0 96.6h1.3v1.3h-1.3zM427.6 119.1h1.3v1.3h-1.3zM423.0 131.4h1.3v1.3h-1.3zM426.7 123.2h1.3v1.3h-1.3zM420.4 108.7h1.3v1.3h-1.3zM426.6 122.4h1.3v1.3h-1.3zM423.5 100.1h1.3v1.3h-1.3zM430.0 116.6h1.3v1.3h-1.3zM419.9 107.7h1.3v1.3h-1.3zM423.2 129.8h1.3v1.3h-1.3zM428.0 129.3h1.3v1.3h-1.3zM423.6 124.3h1.3v1.3h-1.3zM424.4 112.8h1.3v1.3h-1.3zM422.9 126.9h1.3v1.3h-1.3zM421.2 137.3h1.3v1.3h-1.3zM422.8 112.3h1.3v1.3h-1.3zM429.2 117.6h1.3v1.3h-1.3zM428.0 103.3h1.3v1.3h-1.3zM422.6 99.2h1.3v1.3h-1.3zM426.8 124.0h1.3v1.3h-1.3zM428.0 97.3h1.3v1.3h-1.3zM428.3 120.1h1.3v1.3h-1.3zM419.7 101.1h1.3v1.3h-1.3zM421.0 122.8h1.3v1.3h-1.3zM430.1 124.3h1.3v1.3h-1.3zM422.3 133.1h1.3v1.3h-1.3zM428.1 112.6h1.3v1.3h-1.3zM426.4 113.1h1.3v1.3h-1.3zM429.2 113.9h1.3v1.3h-1.3zM420.0 123.3h1.3v1.3h-1.3zM429.9 125.4h1.3v1.3h-1.3zM429.2 100.4h1.3v1.3h-1.3zM421.8 110.5h1.3v1.3h-1.3zM427.1 96.5h1.3v1.3h-1.3zM419.1 107.6h1.3v1.3h-1.3zM429.1 123.9h1.3v1.3h-1.3zM423.9 133.2h1.3v1.3h-1.3zM427.0 136.7h1.3v1.3h-1.3zM428.0 96.3h1.3v1.3h-1.3zM419.4 113.7h1.3v1.3h-1.3zM429.3 130.1h1.3v1.3h-1.3zM420.3 118.3h1.3v1.3h-1.3zM420.8 112.0h1.3v1.3h-1.3zM424.3 125.5h1.3v1.3h-1.3zM422.0 129.9h1.3v1.3h-1.3z" fill="#A0A024"/>
<polygon points="425.90,87.40 425.99,88.34 426.06,89.27 426.16,90.21 426.31,91.14 426.51,92.08 426.75,93.01 427.00,93.95 427.24,94.88 427.45,95.82 427.65,96.76 427.84,97.69 428.03,98.63 428.21,99.56 428.40,100.50 428.59,101.43 428.77,102.37 428.96,103.31 429.15,104.24 429.34,105.18 429.52,106.11 429.71,107.05 429.90,107.98 430.08,108.92 430.26,109.85 430.43,110.79 430.60,111.73 430.76,112.66 430.92,113.60 431.08,114.53 431.23,115.47 431.38,116.40 431.51,117.34 431.61,118.27 431.70,119.21 431.79,120.15 431.87,121.08 431.94,122.02 431.96,122.95 431.89,123.89 431.71,124.82 431.46,125.76 431.18,126.69 430.90,127.63 430.60,128.57 430.27,129.50 429.92,130.44 429.55,131.37 429.18,132.31 428.79,133.24 428.40,134.18 427.99,135.12 427.57,136.05 427.15,136.99 426.76,137.92 426.43,138.86 426.19,139.79 426.04,140.73 425.97,141.66 425.90,142.60 425.10,142.60 425.03,141.66 424.96,140.73 424.81,139.79 424.57,138.86 424.24,137.92 423.85,136.99 423.43,136.05 423.01,135.12 422.60,134.18 422.21,133.24 421.82,132.31 421.45,131.37 421.08,130.44 420.73,129.50 420.40,128.57 420.10,127.63 419.82,126.69 419.54,125.76 419.29,124.82 419.11,123.89 419.04,122.95 419.06,122.02 419.13,121.08 419.21,120.15 419.30,119.21 419.39,118.27 419.49,117.34 419.62,116.40 419.77,115.47 419.92,114.53 420.08,113.60 420.24,112.66 420.40,111.73 420.57,110.79 420.74,109.85 420.92,108.92 421.10,107.98 421.29,107.05 421.48,106.11 421.66,105.18 421.85,104.24 422.04,103.31 422.23,102.37 422.41,101.43 422.60,100.50 422.79,99.56 422.97,98.63 423.16,97.69 423.35,96.76 423.55,95.82 423.76,94.88 424.00,93.95 424.25,93.01 424.49,92.08 424.69,91.14 424.84,90.21 424.94,89.27 425.01,88.34 425.10,87.40" fill="none" stroke="#A0A024" stroke-width="1.7" stroke-linejoin="round"/>
<path d="M451.3 123.8h1.3v1.3h-1.3zM445.7 107.3h1.3v1.3h-1.3zM450.8 122.4h1.3v1.3h-1.3zM442.7 127.1h1.3v1.3h-1.3zM442.5 135.7h1.3v1.3h-1.3zM442.8 115.2h1.3v1.3h-1.3zM445.7 112.7h1.3v1.3h-1.3zM450.5 122.3h1.3v1.3h-1.3zM442.4 122.8h1.3v1.3h-1.3zM446.5 133.1h1.3v1.3h-1.3zM449.0 122.1h1.3v1.3h-1.3zM451.9 117.5h1.3v1.3h-1.3zM448.6 111.3h1.3v1.3h-1.3zM444.9 124.8h1.3v1.3h-1.3zM443.1 122.8h1.3v1.3h-1.3zM447.9 100.2h1.3v1.3h-1.3zM451.4 112.7h1.3v1.3h-1.3zM451.7 106.4h1.3v1.3h-1.3zM449.2 118.8h1.3v1.3h-1.3zM444.1 116.4h1.3v1.3h-1.3zM442.9 105.3h1.3v1.3h-1.3zM442.6 120.1h1.3v1.3h-1.3zM445.2 123.4h1.3v1.3h-1.3zM448.2 115.0h1.3v1.3h-1.3zM443.8 129.5h1.3v1.3h-1.3zM449.2 103.1h1.3v1.3h-1.3zM445.7 100.7h1.3v1.3h-1.3zM451.2 124.8h1.3v1.3h-1.3zM448.2 121.1h1.3v1.3h-1.3zM451.0 126.2h1.3v1.3h-1.3zM445.0 134.1h1.3v1.3h-1.3zM448.7 118.7h1.3v1.3h-1.3zM452.3 128.7h1.3v1.3h-1.3zM442.2 123.4h1.3v1.3h-1.3zM452.9 119.3h1.3v1.3h-1.3zM448.9 118.9h1.3v1.3h-1.3zM452.0 139.2h1.3v1.3h-1.3zM445.3 113.5h1.3v1.3h-1.3zM447.7 117.0h1.3v1.3h-1.3zM450.0 118.0h1.3v1.3h-1.3zM448.9 122.9h1.3v1.3h-1.3zM449.3 100.4h1.3v1.3h-1.3zM452.1 123.4h1.3v1.3h-1.3zM443.9 99.6h1.3v1.3h-1.3zM450.4 116.1h1.3v1.3h-1.3zM447.2 117.1h1.3v1.3h-1.3zM452.6 121.4h1.3v1.3h-1.3zM453.1 121.2h1.3v1.3h-1.3zM447.2 122.5h1.3v1.3h-1.3zM446.2 99.0h1.3v1.3h-1.3zM452.5 114.2h1.3v1.3h-1.3zM453.0 126.2h1.3v1.3h-1.3zM451.0 117.2h1.3v1.3h-1.3zM452.5 129.4h1.3v1.3h-1.3zM453.0 120.0h1.3v1.3h-1.3zM447.7 120.9h1.3v1.3h-1.3zM446.2 124.2h1.3v1.3h-1.3zM443.7 137.1h1.3v1.3h-1.3zM447.2 97.7h1.3v1.3h-1.3zM444.6 103.6h1.3v1.3h-1.3zM450.5 102.5h1.3v1.3h-1.3zM449.1 108.8h1.3v1.3h-1.3zM452.9 98.3h1.3v1.3h-1.3zM449.5 138.4h1.3v1.3h-1.3zM445.0 105.6h1.3v1.3h-1.3zM446.4 119.1h1.3v1.3h-1.3zM447.9 130.8h1.3v1.3h-1.3zM448.3 118.6h1.3v1.3h-1.3zM453.0 110.4h1.3v1.3h-1.3zM449.4 111.5h1.3v1.3h-1.3zM445.8 115.9h1.3v1.3h-1.3zM445.2 112.4h1.3v1.3h-1.3zM448.7 117.6h1.3v1.3h-1.3zM443.0 117.2h1.3v1.3h-1.3zM447.4 101.6h1.3v1.3h-1.3zM452.4 131.3h1.3v1.3h-1.3zM452.3 136.0h1.3v1.3h-1.3zM448.6 120.5h1.3v1.3h-1.3zM448.4 102.9h1.3v1.3h-1.3zM445.9 132.8h1.3v1.3h-1.3zM448.9 114.4h1.3v1.3h-1.3zM447.4 116.2h1.3v1.3h-1.3zM449.6 110.6h1.3v1.3h-1.3zM453.1 132.4h1.3v1.3h-1.3zM450.8 124.4h1.3v1.3h-1.3zM443.6 113.1h1.3v1.3h-1.3zM444.0 114.5h1.3v1.3h-1.3zM450.1 116.7h1.3v1.3h-1.3zM453.4 115.8h1.3v1.3h-1.3zM449.0 124.0h1.3v1.3h-1.3zM451.8 133.9h1.3v1.3h-1.3zM445.3 99.8h1.3v1.3h-1.3zM444.9 130.0h1.3v1.3h-1.3zM453.4 130.2h1.3v1.3h-1.3zM452.2 108.5h1.3v1.3h-1.3zM447.3 136.4h1.3v1.3h-1.3zM451.5 131.1h1.3v1.3h-1.3zM449.5 125.3h1.3v1.3h-1.3zM451.1 103.7h1.3v1.3h-1.3zM448.9 117.2h1.3v1.3h-1.3zM450.0 126.5h1.3v1.3h-1.3zM453.0 120.9h1.3v1.3h-1.3zM447.0 99.9h1.3v1.3h-1.3zM450.6 127.7h1.3v1.3h-1.3zM453.2 116.2h1.3v1.3h-1.3zM442.5 109.6h1.3v1.3h-1.3zM445.0 113.5h1.3v1.3h-1.3zM446.2 102.4h1.3v1.3h-1.3zM448.7 114.7h1.3v1.3h-1.3zM447.3 98.2h1.3v1.3h-1.3zM451.3 140.6h1.3v1.3h-1.3zM444.3 104.4h1.3v1.3h-1.3zM445.6 114.1h1.3v1.3h-1.3zM442.9 113.3h1.3v1.3h-1.3zM444.1 117.5h1.3v1.3h-1.3zM449.0 114.7h1.3v1.3h-1.3zM442.7 131.2h1.3v1.3h-1.3zM453.0 107.1h1.3v1.3h-1.3zM449.9 140.9h1.3v1.3h-1.3zM443.0 115.6h1.3v1.3h-1.3zM450.6 136.9h1.3v1.3h-1.3zM443.5 113.1h1.3v1.3h-1.3zM448.0 101.1h1.3v1.3h-1.3zM444.5 128.5h1.3v1.3h-1.3zM444.1 105.2h1.3v1.3h-1.3zM448.2 126.4h1.3v1.3h-1.3zM452.3 130.5h1.3v1.3h-1.3zM443.0 109.0h1.3v1.3h-1.3zM444.5 114.2h1.3v1.3h-1.3zM447.7 121.4h1.3v1.3h-1.3z" fill="#40AE34"/>
<polygon points="451.10,97.70 451.39,98.45 451.60,99.19 451.81,99.94 451.97,100.69 452.09,101.44 452.19,102.18 452.29,102.93 452.38,103.68 452.43,104.43 452.43,105.17 452.39,105.92 452.34,106.67 452.29,107.42 452.23,108.16 452.20,108.91 452.22,109.66 452.34,110.41 452.54,111.15 452.80,111.90 453.07,112.65 453.35,113.40 453.62,114.14 453.89,114.89 454.13,115.64 454.34,116.39 454.51,117.13 454.66,117.88 454.80,118.63 454.95,119.38 455.09,120.12 455.23,120.87 455.36,121.62 455.45,122.37 455.46,123.11 455.40,123.86 455.29,124.61 455.16,125.36 455.03,126.10 454.89,126.85 454.72,127.60 454.49,128.35 454.21,129.09 453.89,129.84 453.56,130.59 453.23,131.34 452.90,132.08 452.56,132.83 452.20,133.58 451.84,134.33 451.46,135.07 451.09,135.82 450.72,136.57 450.35,137.32 449.99,138.06 449.66,138.81 449.39,139.56 449.18,140.31 449.04,141.05 448.90,141.80 448.10,141.80 447.96,141.05 447.82,140.31 447.61,139.56 447.34,138.81 447.01,138.06 446.65,137.32 446.28,136.57 445.91,135.82 445.54,135.07 445.16,134.33 444.80,133.58 444.44,132.83 444.10,132.08 443.77,131.34 443.44,130.59 443.11,129.84 442.79,129.09 442.51,128.35 442.28,127.60 442.11,126.85 441.97,126.10 441.84,125.36 441.71,124.61 441.60,123.86 441.54,123.11 441.55,122.37 441.64,121.62 441.77,120.87 441.91,120.12 442.05,119.38 442.20,118.63 442.34,117.88 442.49,117.13 442.66,116.39 442.87,115.64 443.11,114.89 443.38,114.14 443.65,113.40 443.93,112.65 444.20,111.90 444.46,111.15 444.66,110.41 444.78,109.66 444.80,108.91 444.77,108.16 444.71,107.42 444.66,106.67 444.61,105.92 444.57,105.17 444.57,104.43 444.62,103.68 444.71,102.93 444.81,102.18 444.91,101.44 445.03,100.69 445.19,99.94 445.40,99.19 445.61,98.45 445.90,97.70" fill="none" stroke="#40AE34" stroke-width="1.7" stroke-linejoin="round"/>
<path d="M472.7 127.5h1.3v1.3h-1.3zM471.3 104.6h1.3v1.3h-1.3zM466.1 122.4h1.3v1.3h-1.3zM477.0 109.1h1.3v1.3h-1.3zM475.1 105.9h1.3v1.3h-1.3zM467.3 116.9h1.3v1.3h-1.3zM471.2 96.1h1.3v1.3h-1.3zM468.9 109.8h1.3v1.3h-1.3zM476.2 86.2h1.3v1.3h-1.3zM469.6 110.2h1.3v1.3h-1.3zM469.0 134.4h1.3v1.3h-1.3zM476.4 90.0h1.3v1.3h-1.3zM469.6 91.9h1.3v1.3h-1.3zM467.6 111.4h1.3v1.3h-1.3zM466.8 126.4h1.3v1.3h-1.3zM467.9 110.0h1.3v1.3h-1.3zM471.1 128.0h1.3v1.3h-1.3zM469.0 101.8h1.3v1.3h-1.3zM473.4 132.1h1.3v1.3h-1.3zM476.4 96.8h1.3v1.3h-1.3zM467.8 119.0h1.3v1.3h-1.3zM466.5 101.6h1.3v1.3h-1.3zM474.9 121.1h1.3v1.3h-1.3zM473.4 85.0h1.3v1.3h-1.3zM476.1 101.6h1.3v1.3h-1.3zM467.4 125.7h1.3v1.3h-1.3zM474.2 119.0h1.3v1.3h-1.3zM469.3 107.2h1.3v1.3h-1.3zM468.2 103.6h1.3v1.3h-1.3zM470.5 127.6h1.3v1.3h-1.3zM475.9 96.7h1.3v1.3h-1.3zM475.5 95.5h1.3v1.3h-1.3zM475.6 88.4h1.3v1.3h-1.3zM468.9 113.7h1.3v1.3h-1.3zM471.3 125.5h1.3v1.3h-1.3zM468.1 93.8h1.3v1.3h-1.3zM468.6 118.0h1.3v1.3h-1.3zM475.8 118.8h1.3v1.3h-1.3zM467.3 97.0h1.3v1.3h-1.3zM476.7 108.5h1.3v1.3h-1.3zM477.2 110.8h1.3v1.3h-1.3zM471.2 87.4h1.3v1.3h-1.3zM473.0 127.7h1.3v1.3h-1.3zM477.2 93.2h1.3v1.3h-1.3zM474.4 94.1h1.3v1.3h-1.3zM475.2 116.2h1.3v1.3h-1.3zM474.7 108.3h1.3v1.3h-1.3zM466.7 118.0h1.3v1.3h-1.3zM475.1 112.8h1.3v1.3h-1.3zM474.2 92.0h1.3v1.3h-1.3zM470.0 106.8h1.3v1.3h-1.3zM467.4 129.7h1.3v1.3h-1.3zM470.1 101.6h1.3v1.3h-1.3zM472.5 96.8h1.3v1.3h-1.3zM470.2 122.6h1.3v1.3h-1.3zM472.8 89.8h1.3v1.3h-1.3zM470.7 105.4h1.3v1.3h-1.3zM473.5 133.5h1.3v1.3h-1.3zM476.9 122.2h1.3v1.3h-1.3zM466.2 93.6h1.3v1.3h-1.3zM473.2 89.6h1.3v1.3h-1.3zM475.5 107.7h1.3v1.3h-1.3zM466.3 113.8h1.3v1.3h-1.3zM471.4 119.6h1.3v1.3h-1.3zM475.4 95.4h1.3v1.3h-1.3zM474.0 105.8h1.3v1.3h-1.3zM470.5 106.9h1.3v1.3h-1.3zM470.0 100.8h1.3v1.3h-1.3zM466.4 114.8h1.3v1.3h-1.3zM471.9 109.0h1.3v1.3h-1.3zM475.6 105.3h1.3v1.3h-1.3zM475.6 117.8h1.3v1.3h-1.3zM474.3 101.0h1.3v1.3h-1.3zM471.8 112.0h1.3v1.3h-1.3zM468.9 117.8h1.3v1.3h-1.3zM469.3 103.5h1.3v1.3h-1.3zM468.7 85.3h1.3v1.3h-1.3zM470.5 77.4h1.3v1.3h-1.3zM466.1 118.9h1.3v1.3h-1.3zM471.3 120.6h1.3v1.3h-1.3zM475.1 114.6h1.3v1.3h-1.3zM470.3 84.5h1.3v1.3h-1.3zM476.0 98.7h1.3v1.3h-1.3zM472.5 127.0h1.3v1.3h-1.3zM475.1 110.4h1.3v1.3h-1.3zM477.6 105.1h1.3v1.3h-1.3zM467.7 128.3h1.3v1.3h-1.3zM470.9 129.6h1.3v1.3h-1.3zM468.0 99.1h1.3v1.3h-1.3zM467.6 117.0h1.3v1.3h-1.3zM474.4 120.9h1.3v1.3h-1.3zM466.1 121.3h1.3v1.3h-1.3zM472.9 125.7h1.3v1.3h-1.3zM476.7 117.2h1.3v1.3h-1.3zM471.0 88.1h1.3v1.3h-1.3zM474.0 101.5h1.3v1.3h-1.3zM467.6 95.9h1.3v1.3h-1.3zM474.8 113.1h1.3v1.3h-1.3zM475.0 109.6h1.3v1.3h-1.3zM472.7 128.7h1.3v1.3h-1.3zM476.7 98.8h1.3v1.3h-1.3zM472.4 93.9h1.3v1.3h-1.3zM472.8 85.9h1.3v1.3h-1.3zM466.2 96.8h1.3v1.3h-1.3zM475.6 123.7h1.3v1.3h-1.3zM470.0 112.1h1.3v1.3h-1.3zM474.1 98.8h1.3v1.3h-1.3zM471.8 110.7h1.3v1.3h-1.3zM467.9 112.7h1.3v1.3h-1.3zM471.6 101.3h1.3v1.3h-1.3zM475.7 83.2h1.3v1.3h-1.3zM473.6 114.8h1.3v1.3h-1.3zM467.4 111.1h1.3v1.3h-1.3zM472.3 89.7h1.3v1.3h-1.3zM476.5 108.3h1.3v1.3h-1.3zM466.4 94.1h1.3v1.3h-1.3zM466.1 104.9h1.3v1.3h-1.3zM475.6 116.8h1.3v1.3h-1.3zM472.9 111.2h1.3v1.3h-1.3zM474.8 101.7h1.3v1.3h-1.3zM469.8 118.9h1.3v1.3h-1.3zM472.6 98.3h1.3v1.3h-1.3zM467.8 113.5h1.3v1.3h-1.3zM467.4 100.3h1.3v1.3h-1.3zM472.5 111.7h1.3v1.3h-1.3zM475.9 111.2h1.3v1.3h-1.3zM472.3 111.8h1.3v1.3h-1.3zM466.2 121.1h1.3v1.3h-1.3zM466.1 120.7h1.3v1.3h-1.3zM474.4 130.6h1.3v1.3h-1.3z" fill="#1CB37E"/>
<polygon points="472.90,78.50 473.00,79.46 473.07,80.43 473.16,81.39 473.28,82.35 473.45,83.31 473.67,84.28 473.93,85.24 474.20,86.20 474.46,87.16 474.73,88.13 474.99,89.09 475.25,90.05 475.50,91.02 475.76,91.98 476.01,92.94 476.25,93.90 476.46,94.87 476.67,95.83 476.86,96.79 477.05,97.75 477.24,98.72 477.41,99.68 477.57,100.64 477.71,101.61 477.84,102.57 477.97,103.53 478.10,104.49 478.21,105.46 478.31,106.42 478.39,107.38 478.46,108.34 478.52,109.31 478.58,110.27 478.61,111.23 478.60,112.19 478.52,113.16 478.41,114.12 478.28,115.08 478.16,116.05 478.02,117.01 477.86,117.97 477.67,118.93 477.46,119.90 477.23,120.86 477.01,121.82 476.78,122.78 476.53,123.75 476.26,124.71 475.96,125.67 475.66,126.64 475.34,127.60 475.00,128.56 474.62,129.52 474.21,130.49 473.83,131.45 473.51,132.41 473.27,133.37 473.09,134.34 472.90,135.30 472.10,135.30 471.91,134.34 471.73,133.37 471.49,132.41 471.17,131.45 470.79,130.49 470.38,129.52 470.00,128.56 469.66,127.60 469.34,126.64 469.04,125.67 468.74,124.71 468.47,123.75 468.22,122.78 467.99,121.82 467.77,120.86 467.54,119.90 467.33,118.93 467.14,117.97 466.98,117.01 466.84,116.05 466.72,115.08 466.59,114.12 466.48,113.16 466.40,112.19 466.39,111.23 466.42,110.27 466.48,109.31 466.54,108.34 466.61,107.38 466.69,106.42 466.79,105.46 466.90,104.49 467.03,103.53 467.16,102.57 467.29,101.61 467.43,100.64 467.59,99.68 467.76,98.72 467.95,97.75 468.14,96.79 468.33,95.83 468.54,94.87 468.75,93.90 468.99,92.94 469.24,91.98 469.50,91.02 469.75,90.05 470.01,89.09 470.27,88.13 470.54,87.16 470.80,86.20 471.07,85.24 471.33,84.28 471.55,83.31 471.72,82.35 471.84,81.39 471.93,80.43 472.00,79.46 472.10,78.50" fill="none" stroke="#1CB37E" stroke-width="1.7" stroke-linejoin="round"/>
<path d="M490.7 146.5h1.3v1.3h-1.3zM496.8 141.1h1.3v1.3h-1.3zM498.6 144.1h1.3v1.3h-1.3zM495.8 168.2h1.3v1.3h-1.3zM496.6 151.2h1.3v1.3h-1.3zM492.9 138.6h1.3v1.3h-1.3zM495.5 139.7h1.3v1.3h-1.3zM497.2 132.7h1.3v1.3h-1.3zM500.3 170.8h1.3v1.3h-1.3zM496.1 150.7h1.3v1.3h-1.3zM501.4 150.2h1.3v1.3h-1.3zM494.8 133.1h1.3v1.3h-1.3zM497.1 143.1h1.3v1.3h-1.3zM498.5 163.0h1.3v1.3h-1.3zM491.3 164.7h1.3v1.3h-1.3zM499.7 150.9h1.3v1.3h-1.3zM499.7 144.5h1.3v1.3h-1.3zM492.2 171.0h1.3v1.3h-1.3zM497.7 146.0h1.3v1.3h-1.3zM494.8 144.6h1.3v1.3h-1.3zM492.1 138.9h1.3v1.3h-1.3zM492.6 151.2h1.3v1.3h-1.3zM491.7 165.1h1.3v1.3h-1.3zM500.8 152.9h1.3v1.3h-1.3zM499.6 163.0h1.3v1.3h-1.3zM498.6 146.0h1.3v1.3h-1.3zM492.2 158.1h1.3v1.3h-1.3zM498.6 140.7h1.3v1.3h-1.3zM493.1 151.0h1.3v1.3h-1.3zM496.0 144.6h1.3v1.3h-1.3zM490.3 144.2h1.3v1.3h-1.3zM500.6 161.5h1.3v1.3h-1.3zM494.1 142.3h1.3v1.3h-1.3zM498.1 152.4h1.3v1.3h-1.3zM491.4 148.1h1.3v1.3h-1.3zM492.3 165.8h1.3v1.3h-1.3zM498.9 142.3h1.3v1.3h-1.3zM498.2 147.7h1.3v1.3h-1.3zM497.1 159.2h1.3v1.3h-1.3zM494.6 144.7h1.3v1.3h-1.3zM497.4 160.0h1.3v1.3h-1.3zM499.0 176.7h1.3v1.3h-1.3zM499.6 147.4h1.3v1.3h-1.3zM499.2 152.5h1.3v1.3h-1.3zM495.4 126.4h1.3v1.3h-1.3zM495.3 162.7h1.3v1.3h-1.3zM500.5 148.9h1.3v1.3h-1.3zM493.2 155.6h1.3v1.3h-1.3zM496.2 142.2h1.3v1.3h-1.3zM492.6 158.1h1.3v1.3h-1.3zM495.2 152.0h1.3v1.3h-1.3zM493.8 183.2h1.3v1.3h-1.3zM499.7 169.7h1.3v1.3h-1.3zM500.5 153.4h1.3v1.3h-1.3zM494.2 138.8h1.3v1.3h-1.3zM499.2 145.4h1.3v1.3h-1.3zM499.3 155.0h1.3v1.3h-1.3zM500.2 161.8h1.3v1.3h-1.3zM498.6 167.6h1.3v1.3h-1.3zM492.6 166.2h1.3v1.3h-1.3zM497.4 160.5h1.3v1.3h-1.3zM493.1 150.8h1.3v1.3h-1.3zM495.6 153.8h1.3v1.3h-1.3zM490.7 144.2h1.3v1.3h-1.3zM490.3 153.9h1.3v1.3h-1.3zM500.6 148.3h1.3v1.3h-1.3zM495.4 154.3h1.3v1.3h-1.3zM495.8 129.7h1.3v1.3h-1.3zM497.4 135.1h1.3v1.3h-1.3zM490.4 157.8h1.3v1.3h-1.3zM497.6 148.9h1.3v1.3h-1.3zM498.4 141.6h1.3v1.3h-1.3zM492.2 173.6h1.3v1.3h-1.3zM498.4 126.1h1.3v1.3h-1.3zM495.9 169.8h1.3v1.3h-1.3zM496.0 163.8h1.3v1.3h-1.3zM494.4 119.0h1.3v1.3h-1.3zM490.7 165.9h1.3v1.3h-1.3zM492.4 159.9h1.3v1.3h-1.3zM492.3 140.9h1.3v1.3h-1.3zM499.2 159.4h1.3v1.3h-1.3zM497.2 169.3h1.3v1.3h-1.3zM500.5 132.5h1.3v1.3h-1.3zM492.2 145.7h1.3v1.3h-1.3zM499.2 136.3h1.3v1.3h-1.3zM497.9 165.5h1.3v1.3h-1.3zM495.4 136.2h1.3v1.3h-1.3zM498.4 135.4h1.3v1.3h-1.3zM492.1 135.4h1.3v1.3h-1.3zM498.6 163.2h1.3v1.3h-1.3zM493.2 140.9h1.3v1.3h-1.3zM496.1 174.3h1.3v1.3h-1.3zM497.4 130.1h1.3v1.3h-1.3zM492.6 151.3h1.3v1.3h-1.3zM501.3 136.5h1.3v1.3h-1.3zM491.4 139.7h1.3v1.3h-1.3zM500.5 139.9h1.3v1.3h-1.3zM501.3 153.5h1.3v1.3h-1.3zM499.5 140.9h1.3v1.3h-1.3zM495.3 146.6h1.3v1.3h-1.3zM499.2 163.8h1.3v1.3h-1.3zM497.4 154.7h1.3v1.3h-1.3zM499.6 120.9h1.3v1.3h-1.3zM498.1 143.5h1.3v1.3h-1.3zM491.5 157.3h1.3v1.3h-1.3zM496.4 146.3h1.3v1.3h-1.3zM491.0 135.3h1.3v1.3h-1.3zM496.1 136.2h1.3v1.3h-1.3zM491.4 147.9h1.3v1.3h-1.3zM495.7 157.2h1.3v1.3h-1.3zM499.3 151.7h1.3v1.3h-1.3zM490.4 142.3h1.3v1.3h-1.3zM494.1 137.4h1.3v1.3h-1.3zM490.8 145.7h1.3v1.3h-1.3zM493.7 165.2h1.3v1.3h-1.3zM494.5 134.3h1.3v1.3h-1.3zM490.5 133.9h1.3v1.3h-1.3zM493.8 135.1h1.3v1.3h-1.3zM497.9 153.4h1.3v1.3h-1.3zM495.5 128.4h1.3v1.3h-1.3zM491.5 144.3h1.3v1.3h-1.3zM494.8 145.5h1.3v1.3h-1.3zM490.3 148.8h1.3v1.3h-1.3zM491.7 150.3h1.3v1.3h-1.3zM495.0 163.8h1.3v1.3h-1.3zM491.9 144.4h1.3v1.3h-1.3zM496.4 139.2h1.3v1.3h-1.3zM491.5 161.7h1.3v1.3h-1.3zM499.0 140.9h1.3v1.3h-1.3zM499.7 137.9h1.3v1.3h-1.3z" fill="#22B3BC"/>
<polygon points="496.90,119.20 496.93,120.35 496.95,121.50 496.98,122.65 497.00,123.80 497.03,124.95 497.07,126.09 497.16,127.24 497.34,128.39 497.62,129.54 497.96,130.69 498.32,131.84 498.66,132.99 498.98,134.14 499.29,135.29 499.58,136.44 499.88,137.59 500.17,138.74 500.44,139.88 500.70,141.03 500.94,142.18 501.17,143.33 501.40,144.48 501.62,145.63 501.82,146.78 501.99,147.93 502.13,149.08 502.26,150.23 502.39,151.38 502.52,152.53 502.64,153.67 502.72,154.82 502.75,155.97 502.73,157.12 502.66,158.27 502.52,159.42 502.31,160.57 502.05,161.72 501.75,162.87 501.41,164.02 501.01,165.17 500.57,166.32 500.10,167.46 499.61,168.61 499.08,169.76 498.53,170.91 498.01,172.06 497.58,173.21 497.27,174.36 497.09,175.51 497.01,176.66 496.98,177.81 496.97,178.96 496.96,180.11 496.95,181.25 496.94,182.40 496.93,183.55 496.92,184.70 496.91,185.85 496.90,187.00 496.10,187.00 496.09,185.85 496.08,184.70 496.07,183.55 496.06,182.40 496.05,181.25 496.04,180.11 496.03,178.96 496.02,177.81 495.99,176.66 495.91,175.51 495.73,174.36 495.42,173.21 494.99,172.06 494.47,170.91 493.92,169.76 493.39,168.61 492.90,167.46 492.43,166.32 491.99,165.17 491.59,164.02 491.25,162.87 490.95,161.72 490.69,160.57 490.48,159.42 490.34,158.27 490.27,157.12 490.25,155.97 490.28,154.82 490.36,153.67 490.48,152.53 490.61,151.38 490.74,150.23 490.87,149.08 491.01,147.93 491.18,146.78 491.38,145.63 491.60,144.48 491.83,143.33 492.06,142.18 492.30,141.03 492.56,139.88 492.83,138.74 493.12,137.59 493.42,136.44 493.71,135.29 494.02,134.14 494.34,132.99 494.68,131.84 495.04,130.69 495.38,129.54 495.66,128.39 495.84,127.24 495.93,126.09 495.97,124.95 496.00,123.80 496.02,122.65 496.05,121.50 496.07,120.35 496.10,119.20" fill="none" stroke="#22B3BC" stroke-width="1.7" stroke-linejoin="round"/>
<path d="M525.3 160.8h1.3v1.3h-1.3zM514.1 156.9h1.3v1.3h-1.3zM521.5 151.2h1.3v1.3h-1.3zM521.7 162.7h1.3v1.3h-1.3zM517.3 131.0h1.3v1.3h-1.3zM523.0 124.0h1.3v1.3h-1.3zM518.7 141.4h1.3v1.3h-1.3zM515.8 169.5h1.3v1.3h-1.3zM514.7 146.2h1.3v1.3h-1.3zM521.9 150.6h1.3v1.3h-1.3zM525.3 138.9h1.3v1.3h-1.3zM520.5 150.1h1.3v1.3h-1.3zM525.2 157.3h1.3v1.3h-1.3zM516.6 150.8h1.3v1.3h-1.3zM517.1 122.4h1.3v1.3h-1.3zM524.0 143.4h1.3v1.3h-1.3zM517.9 143.5h1.3v1.3h-1.3zM521.9 130.4h1.3v1.3h-1.3zM520.7 123.1h1.3v1.3h-1.3zM518.8 154.9h1.3v1.3h-1.3zM521.7 117.8h1.3v1.3h-1.3zM521.9 139.8h1.3v1.3h-1.3zM525.5 151.8h1.3v1.3h-1.3zM524.4 157.8h1.3v1.3h-1.3zM522.3 137.9h1.3v1.3h-1.3zM518.1 127.0h1.3v1.3h-1.3zM521.3 165.5h1.3v1.3h-1.3zM517.0 153.4h1.3v1.3h-1.3zM524.9 156.5h1.3v1.3h-1.3zM521.7 154.7h1.3v1.3h-1.3zM516.1 154.4h1.3v1.3h-1.3zM523.2 126.7h1.3v1.3h-1.3zM522.9 131.2h1.3v1.3h-1.3zM525.2 163.7h1.3v1.3h-1.3zM525.5 140.0h1.3v1.3h-1.3zM519.8 152.2h1.3v1.3h-1.3zM515.7 155.0h1.3v1.3h-1.3zM515.7 148.8h1.3v1.3h-1.3zM514.8 125.5h1.3v1.3h-1.3zM515.8 151.4h1.3v1.3h-1.3zM522.7 147.5h1.3v1.3h-1.3zM514.1 140.5h1.3v1.3h-1.3zM519.3 145.5h1.3v1.3h-1.3zM521.8 149.9h1.3v1.3h-1.3zM516.9 122.8h1.3v1.3h-1.3zM521.3 144.2h1.3v1.3h-1.3zM521.7 135.9h1.3v1.3h-1.3zM520.4 147.4h1.3v1.3h-1.3zM514.3 134.1h1.3v1.3h-1.3zM521.2 145.5h1.3v1.3h-1.3zM515.2 147.1h1.3v1.3h-1.3zM514.5 133.0h1.3v1.3h-1.3zM524.1 137.4h1.3v1.3h-1.3zM523.9 149.9h1.3v1.3h-1.3zM524.7 152.4h1.3v1.3h-1.3zM515.2 166.0h1.3v1.3h-1.3zM517.7 152.6h1.3v1.3h-1.3zM516.3 149.4h1.3v1.3h-1.3zM518.4 171.0h1.3v1.3h-1.3zM516.5 170.9h1.3v1.3h-1.3zM520.3 149.3h1.3v1.3h-1.3zM523.4 146.3h1.3v1.3h-1.3zM525.2 166.6h1.3v1.3h-1.3zM523.4 143.3h1.3v1.3h-1.3zM519.6 160.7h1.3v1.3h-1.3zM518.2 135.1h1.3v1.3h-1.3zM517.9 134.6h1.3v1.3h-1.3zM521.3 139.6h1.3v1.3h-1.3zM521.9 148.1h1.3v1.3h-1.3zM518.2 143.1h1.3v1.3h-1.3zM521.2 135.2h1.3v1.3h-1.3zM515.8 128.7h1.3v1.3h-1.3zM515.0 127.1h1.3v1.3h-1.3zM523.3 165.3h1.3v1.3h-1.3zM516.2 158.9h1.3v1.3h-1.3zM524.1 158.7h1.3v1.3h-1.3zM525.0 153.7h1.3v1.3h-1.3zM516.4 150.5h1.3v1.3h-1.3zM517.3 146.1h1.3v1.3h-1.3zM520.7 155.8h1.3v1.3h-1.3zM517.5 144.1h1.3v1.3h-1.3zM514.7 162.2h1.3v1.3h-1.3zM520.3 138.4h1.3v1.3h-1.3zM515.6 145.9h1.3v1.3h-1.3zM520.5 158.0h1.3v1.3h-1.3zM516.2 149.6h1.3v1.3h-1.3zM521.5 156.9h1.3v1.3h-1.3zM523.4 155.4h1.3v1.3h-1.3zM515.6 143.1h1.3v1.3h-1.3zM524.9 144.1h1.3v1.3h-1.3zM521.8 125.6h1.3v1.3h-1.3zM521.7 143.1h1.3v1.3h-1.3zM521.6 166.0h1.3v1.3h-1.3zM517.4 127.2h1.3v1.3h-1.3zM514.8 164.8h1.3v1.3h-1.3zM521.9 161.7h1.3v1.3h-1.3zM518.5 159.0h1.3v1.3h-1.3zM524.3 134.2h1.3v1.3h-1.3zM516.7 161.6h1.3v1.3h-1.3zM522.0 171.0h1.3v1.3h-1.3zM522.5 140.2h1.3v1.3h-1.3zM522.4 130.7h1.3v1.3h-1.3zM521.2 133.1h1.3v1.3h-1.3zM517.2 138.6h1.3v1.3h-1.3zM525.1 138.0h1.3v1.3h-1.3zM517.6 127.2h1.3v1.3h-1.3zM517.4 136.4h1.3v1.3h-1.3zM524.0 142.1h1.3v1.3h-1.3zM524.8 156.7h1.3v1.3h-1.3zM519.4 174.7h1.3v1.3h-1.3zM515.7 116.6h1.3v1.3h-1.3zM520.6 164.3h1.3v1.3h-1.3zM524.2 163.6h1.3v1.3h-1.3zM523.9 170.3h1.3v1.3h-1.3zM517.1 148.7h1.3v1.3h-1.3zM523.5 143.9h1.3v1.3h-1.3zM522.9 137.3h1.3v1.3h-1.3zM524.1 139.6h1.3v1.3h-1.3zM523.7 137.8h1.3v1.3h-1.3zM521.7 139.4h1.3v1.3h-1.3zM519.3 144.6h1.3v1.3h-1.3zM518.9 126.6h1.3v1.3h-1.3zM521.9 131.9h1.3v1.3h-1.3zM516.9 145.5h1.3v1.3h-1.3zM520.5 120.9h1.3v1.3h-1.3zM515.1 161.2h1.3v1.3h-1.3zM517.4 155.6h1.3v1.3h-1.3zM514.3 137.3h1.3v1.3h-1.3zM514.9 157.9h1.3v1.3h-1.3zM516.1 171.1h1.3v1.3h-1.3z" fill="#2AA6E0"/>
<polygon points="521.90,116.60 521.65,117.63 521.51,118.66 521.42,119.70 521.43,120.73 521.55,121.76 521.74,122.79 521.98,123.83 522.23,124.86 522.48,125.89 522.75,126.92 523.02,127.95 523.30,128.99 523.57,130.02 523.84,131.05 524.09,132.08 524.32,133.12 524.53,134.15 524.74,135.18 524.94,136.21 525.15,137.24 525.34,138.28 525.52,139.31 525.69,140.34 525.84,141.37 525.99,142.41 526.13,143.44 526.28,144.47 526.40,145.50 526.49,146.53 526.56,147.57 526.61,148.60 526.66,149.63 526.70,150.66 526.73,151.69 526.73,152.73 526.67,153.76 526.56,154.79 526.44,155.82 526.30,156.86 526.17,157.89 526.02,158.92 525.82,159.95 525.55,160.98 525.23,162.02 524.88,163.05 524.54,164.08 524.18,165.11 523.79,166.15 523.36,167.18 522.91,168.21 522.48,169.24 522.09,170.27 521.78,171.31 521.53,172.34 521.36,173.37 521.25,174.40 521.19,175.44 521.15,176.47 521.10,177.50 519.90,177.50 519.85,176.47 519.81,175.44 519.75,174.40 519.64,173.37 519.47,172.34 519.22,171.31 518.91,170.27 518.52,169.24 518.09,168.21 517.64,167.18 517.21,166.15 516.82,165.11 516.46,164.08 516.12,163.05 515.77,162.02 515.45,160.98 515.18,159.95 514.98,158.92 514.83,157.89 514.70,156.86 514.56,155.82 514.44,154.79 514.33,153.76 514.27,152.73 514.27,151.69 514.30,150.66 514.34,149.63 514.39,148.60 514.44,147.57 514.51,146.53 514.60,145.50 514.72,144.47 514.87,143.44 515.01,142.41 515.16,141.37 515.31,140.34 515.48,139.31 515.66,138.28 515.85,137.24 516.06,136.21 516.26,135.18 516.47,134.15 516.68,133.12 516.91,132.08 517.16,131.05 517.43,130.02 517.70,128.99 517.98,127.95 518.25,126.92 518.52,125.89 518.77,124.86 519.02,123.83 519.26,122.79 519.45,121.76 519.57,120.73 519.58,119.70 519.49,118.66 519.35,117.63 519.10,116.60" fill="none" stroke="#2AA6E0" stroke-width="1.7" stroke-linejoin="round"/>
<path d="M542.5 73.2h1.3v1.3h-1.3zM541.6 85.2h1.3v1.3h-1.3zM539.2 83.3h1.3v1.3h-1.3zM549.2 115.4h1.3v1.3h-1.3zM538.9 101.9h1.3v1.3h-1.3zM547.1 71.9h1.3v1.3h-1.3zM539.0 87.0h1.3v1.3h-1.3zM544.9 113.4h1.3v1.3h-1.3zM548.0 105.7h1.3v1.3h-1.3zM544.5 93.6h1.3v1.3h-1.3zM544.4 67.4h1.3v1.3h-1.3zM543.9 97.0h1.3v1.3h-1.3zM538.9 94.3h1.3v1.3h-1.3zM549.0 92.3h1.3v1.3h-1.3zM545.1 134.7h1.3v1.3h-1.3zM548.8 114.1h1.3v1.3h-1.3zM547.8 112.0h1.3v1.3h-1.3zM540.5 105.3h1.3v1.3h-1.3zM546.8 115.4h1.3v1.3h-1.3zM544.1 118.3h1.3v1.3h-1.3zM540.3 104.0h1.3v1.3h-1.3zM544.5 98.4h1.3v1.3h-1.3zM549.2 92.4h1.3v1.3h-1.3zM538.2 102.2h1.3v1.3h-1.3zM545.5 88.0h1.3v1.3h-1.3zM542.7 87.6h1.3v1.3h-1.3zM543.6 113.2h1.3v1.3h-1.3zM545.3 80.9h1.3v1.3h-1.3zM540.1 94.4h1.3v1.3h-1.3zM539.0 119.0h1.3v1.3h-1.3zM539.6 109.1h1.3v1.3h-1.3zM542.4 105.7h1.3v1.3h-1.3zM545.1 73.6h1.3v1.3h-1.3zM543.5 73.7h1.3v1.3h-1.3zM546.4 73.0h1.3v1.3h-1.3zM541.3 84.8h1.3v1.3h-1.3zM539.7 86.1h1.3v1.3h-1.3zM544.5 77.9h1.3v1.3h-1.3zM545.6 75.4h1.3v1.3h-1.3zM543.5 125.2h1.3v1.3h-1.3zM540.2 134.3h1.3v1.3h-1.3zM543.0 107.9h1.3v1.3h-1.3zM545.9 109.1h1.3v1.3h-1.3zM542.0 94.5h1.3v1.3h-1.3zM547.6 99.2h1.3v1.3h-1.3zM540.6 97.4h1.3v1.3h-1.3zM545.7 107.6h1.3v1.3h-1.3zM542.5 89.3h1.3v1.3h-1.3zM539.1 93.3h1.3v1.3h-1.3zM541.5 80.7h1.3v1.3h-1.3zM539.4 105.9h1.3v1.3h-1.3zM544.0 127.6h1.3v1.3h-1.3zM547.7 107.2h1.3v1.3h-1.3zM546.0 83.3h1.3v1.3h-1.3zM545.2 90.0h1.3v1.3h-1.3zM538.4 104.3h1.3v1.3h-1.3zM544.9 103.0h1.3v1.3h-1.3zM546.8 97.1h1.3v1.3h-1.3zM542.0 66.4h1.3v1.3h-1.3zM543.4 80.7h1.3v1.3h-1.3zM543.0 89.5h1.3v1.3h-1.3zM543.5 105.1h1.3v1.3h-1.3zM538.9 110.3h1.3v1.3h-1.3zM543.8 112.8h1.3v1.3h-1.3zM541.0 113.7h1.3v1.3h-1.3zM544.2 90.0h1.3v1.3h-1.3zM538.7 114.1h1.3v1.3h-1.3zM541.4 88.4h1.3v1.3h-1.3zM539.1 93.0h1.3v1.3h-1.3zM546.6 91.5h1.3v1.3h-1.3zM548.7 92.2h1.3v1.3h-1.3zM546.2 97.3h1.3v1.3h-1.3zM542.4 107.4h1.3v1.3h-1.3zM543.0 84.9h1.3v1.3h-1.3zM544.8 88.1h1.3v1.3h-1.3zM540.3 105.0h1.3v1.3h-1.3zM538.1 99.4h1.3v1.3h-1.3zM546.4 140.8h1.3v1.3h-1.3zM543.5 69.9h1.3v1.3h-1.3zM545.7 75.3h1.3v1.3h-1.3zM543.1 101.4h1.3v1.3h-1.3zM541.4 83.2h1.3v1.3h-1.3zM538.2 109.9h1.3v1.3h-1.3zM544.8 99.3h1.3v1.3h-1.3zM544.0 102.8h1.3v1.3h-1.3zM537.9 104.6h1.3v1.3h-1.3zM539.5 107.6h1.3v1.3h-1.3zM548.7 100.7h1.3v1.3h-1.3zM546.1 92.2h1.3v1.3h-1.3zM540.4 107.4h1.3v1.3h-1.3zM542.5 82.0h1.3v1.3h-1.3zM545.5 93.8h1.3v1.3h-1.3zM547.6 105.4h1.3v1.3h-1.3zM539.3 96.2h1.3v1.3h-1.3zM545.5 109.6h1.3v1.3h-1.3zM544.5 111.0h1.3v1.3h-1.3zM546.1 111.3h1.3v1.3h-1.3zM539.0 104.7h1.3v1.3h-1.3zM542.2 94.6h1.3v1.3h-1.3zM545.4 100.0h1.3v1.3h-1.3zM541.1 107.3h1.3v1.3h-1.3zM544.2 118.9h1.3v1.3h-1.3zM542.8 116.0h1.3v1.3h-1.3zM544.2 108.6h1.3v1.3h-1.3zM547.6 109.5h1.3v1.3h-1.3zM546.0 69.6h1.3v1.3h-1.3zM539.0 98.1h1.3v1.3h-1.3zM544.9 129.2h1.3v1.3h-1.3zM538.4 108.5h1.3v1.3h-1.3zM541.7 109.6h1.3v1.3h-1.3zM546.2 117.9h1.3v1.3h-1.3zM546.8 94.3h1.3v1.3h-1.3zM548.3 69.6h1.3v1.3h-1.3zM541.0 108.6h1.3v1.3h-1.3zM543.9 97.9h1.3v1.3h-1.3zM545.4 98.3h1.3v1.3h-1.3zM546.3 76.7h1.3v1.3h-1.3zM547.9 87.6h1.3v1.3h-1.3zM541.5 109.9h1.3v1.3h-1.3zM541.0 127.5h1.3v1.3h-1.3zM541.2 72.2h1.3v1.3h-1.3zM546.7 105.3h1.3v1.3h-1.3zM538.6 91.8h1.3v1.3h-1.3zM540.7 105.7h1.3v1.3h-1.3zM547.6 90.5h1.3v1.3h-1.3zM548.0 120.3h1.3v1.3h-1.3zM543.0 97.3h1.3v1.3h-1.3zM546.8 106.9h1.3v1.3h-1.3zM542.3 98.4h1.3v1.3h-1.3zM541.0 108.4h1.3v1.3h-1.3z" fill="#8A88D8"/>
<polygon points="545.50,66.60 545.71,68.00 545.79,69.39 545.83,70.79 545.85,72.19 545.86,73.58 545.84,74.98 545.76,76.38 545.63,77.77 545.53,79.17 545.51,80.57 545.63,81.96 545.84,83.36 546.11,84.76 546.41,86.15 546.73,87.55 547.05,88.95 547.35,90.34 547.64,91.74 547.93,93.14 548.20,94.53 548.46,95.93 548.68,97.33 548.86,98.72 549.01,100.12 549.15,101.52 549.27,102.91 549.34,104.31 549.31,105.71 549.18,107.10 549.00,108.50 548.79,109.89 548.55,111.29 548.27,112.69 547.93,114.08 547.57,115.48 547.18,116.88 546.78,118.27 546.35,119.67 545.92,121.07 545.51,122.46 545.17,123.86 544.94,125.26 544.83,126.65 544.79,128.05 544.78,129.45 544.78,130.84 544.77,132.24 544.76,133.64 544.76,135.03 544.75,136.43 544.75,137.83 544.74,139.22 544.73,140.62 544.73,142.02 544.72,143.41 544.72,144.81 544.71,146.21 544.71,147.60 544.70,149.00 543.90,149.00 543.89,147.60 543.89,146.21 543.88,144.81 543.88,143.41 543.87,142.02 543.87,140.62 543.86,139.22 543.85,137.83 543.85,136.43 543.84,135.03 543.84,133.64 543.83,132.24 543.82,130.84 543.82,129.45 543.81,128.05 543.77,126.65 543.66,125.26 543.43,123.86 543.09,122.46 542.68,121.07 542.25,119.67 541.82,118.27 541.42,116.88 541.03,115.48 540.67,114.08 540.33,112.69 540.05,111.29 539.81,109.89 539.60,108.50 539.42,107.10 539.29,105.71 539.26,104.31 539.33,102.91 539.45,101.52 539.59,100.12 539.74,98.72 539.92,97.33 540.14,95.93 540.40,94.53 540.67,93.14 540.96,91.74 541.25,90.34 541.55,88.95 541.87,87.55 542.19,86.15 542.49,84.76 542.76,83.36 542.97,81.96 543.09,80.57 543.07,79.17 542.97,77.77 542.84,76.38 542.76,74.98 542.74,73.58 542.75,72.19 542.77,70.79 542.81,69.39 542.89,68.00 543.10,66.60" fill="none" stroke="#8A88D8" stroke-width="1.7" stroke-linejoin="round"/>
<path d="M566.4 65.6h1.3v1.3h-1.3zM565.6 49.7h1.3v1.3h-1.3zM568.6 63.7h1.3v1.3h-1.3zM562.6 69.6h1.3v1.3h-1.3zM564.4 86.9h1.3v1.3h-1.3zM568.1 80.0h1.3v1.3h-1.3zM573.1 54.3h1.3v1.3h-1.3zM572.6 63.0h1.3v1.3h-1.3zM568.1 46.2h1.3v1.3h-1.3zM564.6 45.0h1.3v1.3h-1.3zM569.3 99.3h1.3v1.3h-1.3zM565.3 53.5h1.3v1.3h-1.3zM564.4 60.9h1.3v1.3h-1.3zM567.6 72.9h1.3v1.3h-1.3zM562.6 54.3h1.3v1.3h-1.3zM563.2 61.2h1.3v1.3h-1.3zM570.9 49.9h1.3v1.3h-1.3zM565.2 75.7h1.3v1.3h-1.3zM563.1 59.8h1.3v1.3h-1.3zM567.6 51.8h1.3v1.3h-1.3zM564.2 57.1h1.3v1.3h-1.3zM573.4 66.7h1.3v1.3h-1.3zM567.5 63.3h1.3v1.3h-1.3zM569.6 57.6h1.3v1.3h-1.3zM572.2 57.4h1.3v1.3h-1.3zM567.5 58.4h1.3v1.3h-1.3zM570.0 63.6h1.3v1.3h-1.3zM567.0 61.0h1.3v1.3h-1.3zM571.6 70.3h1.3v1.3h-1.3zM567.6 59.5h1.3v1.3h-1.3zM567.0 48.0h1.3v1.3h-1.3zM572.3 47.5h1.3v1.3h-1.3zM567.0 60.8h1.3v1.3h-1.3zM566.2 93.5h1.3v1.3h-1.3zM572.0 62.2h1.3v1.3h-1.3zM568.7 61.8h1.3v1.3h-1.3zM569.1 42.8h1.3v1.3h-1.3zM567.4 63.4h1.3v1.3h-1.3zM567.4 41.7h1.3v1.3h-1.3zM571.7 56.2h1.3v1.3h-1.3zM562.9 54.9h1.3v1.3h-1.3zM572.8 59.5h1.3v1.3h-1.3zM568.9 51.3h1.3v1.3h-1.3zM570.4 52.4h1.3v1.3h-1.3zM571.5 35.4h1.3v1.3h-1.3zM570.6 63.9h1.3v1.3h-1.3zM562.2 57.2h1.3v1.3h-1.3zM571.3 77.4h1.3v1.3h-1.3zM571.0 74.5h1.3v1.3h-1.3zM572.8 62.7h1.3v1.3h-1.3zM564.9 81.2h1.3v1.3h-1.3zM571.4 59.0h1.3v1.3h-1.3zM570.4 45.1h1.3v1.3h-1.3zM568.9 78.2h1.3v1.3h-1.3zM570.0 88.4h1.3v1.3h-1.3zM565.2 44.7h1.3v1.3h-1.3zM567.1 62.0h1.3v1.3h-1.3zM568.3 42.6h1.3v1.3h-1.3zM572.7 70.1h1.3v1.3h-1.3zM570.2 77.5h1.3v1.3h-1.3zM562.5 47.8h1.3v1.3h-1.3zM571.5 71.8h1.3v1.3h-1.3zM570.5 64.5h1.3v1.3h-1.3zM571.4 51.7h1.3v1.3h-1.3zM571.1 55.3h1.3v1.3h-1.3zM569.8 53.9h1.3v1.3h-1.3zM568.5 54.7h1.3v1.3h-1.3zM563.5 65.8h1.3v1.3h-1.3zM568.0 45.1h1.3v1.3h-1.3zM571.5 81.9h1.3v1.3h-1.3zM573.0 60.1h1.3v1.3h-1.3zM564.0 60.7h1.3v1.3h-1.3zM569.9 73.4h1.3v1.3h-1.3zM565.6 46.9h1.3v1.3h-1.3zM568.8 54.9h1.3v1.3h-1.3zM565.7 71.3h1.3v1.3h-1.3zM564.3 69.5h1.3v1.3h-1.3zM568.8 64.6h1.3v1.3h-1.3zM566.0 72.9h1.3v1.3h-1.3zM566.7 69.3h1.3v1.3h-1.3zM572.0 72.1h1.3v1.3h-1.3zM569.3 76.7h1.3v1.3h-1.3zM564.7 72.9h1.3v1.3h-1.3zM565.0 78.8h1.3v1.3h-1.3zM568.1 62.9h1.3v1.3h-1.3zM562.7 76.5h1.3v1.3h-1.3zM571.4 73.4h1.3v1.3h-1.3zM569.5 35.6h1.3v1.3h-1.3zM562.7 65.8h1.3v1.3h-1.3zM563.1 81.6h1.3v1.3h-1.3zM562.6 63.3h1.3v1.3h-1.3zM567.5 60.7h1.3v1.3h-1.3zM564.7 60.3h1.3v1.3h-1.3zM567.3 77.5h1.3v1.3h-1.3zM567.8 58.7h1.3v1.3h-1.3zM571.5 53.5h1.3v1.3h-1.3zM568.0 71.6h1.3v1.3h-1.3zM564.1 97.5h1.3v1.3h-1.3zM565.2 68.0h1.3v1.3h-1.3zM570.5 43.3h1.3v1.3h-1.3zM570.9 49.7h1.3v1.3h-1.3zM571.2 58.3h1.3v1.3h-1.3zM570.2 72.8h1.3v1.3h-1.3zM564.4 81.5h1.3v1.3h-1.3zM564.8 72.8h1.3v1.3h-1.3zM565.8 50.1h1.3v1.3h-1.3zM564.6 71.1h1.3v1.3h-1.3zM568.5 74.3h1.3v1.3h-1.3zM565.1 62.1h1.3v1.3h-1.3zM570.5 54.8h1.3v1.3h-1.3zM562.3 64.4h1.3v1.3h-1.3zM569.7 63.2h1.3v1.3h-1.3zM564.7 59.4h1.3v1.3h-1.3zM570.2 38.1h1.3v1.3h-1.3zM572.2 57.3h1.3v1.3h-1.3zM568.3 74.2h1.3v1.3h-1.3zM562.2 57.2h1.3v1.3h-1.3zM562.6 69.9h1.3v1.3h-1.3zM570.5 61.5h1.3v1.3h-1.3zM564.8 54.1h1.3v1.3h-1.3zM568.0 74.3h1.3v1.3h-1.3zM570.9 83.1h1.3v1.3h-1.3zM571.3 72.6h1.3v1.3h-1.3zM573.4 74.2h1.3v1.3h-1.3zM569.1 62.1h1.3v1.3h-1.3zM566.0 79.7h1.3v1.3h-1.3zM567.9 95.9h1.3v1.3h-1.3zM567.3 67.4h1.3v1.3h-1.3zM566.3 72.7h1.3v1.3h-1.3zM573.4 48.7h1.3v1.3h-1.3z" fill="#C472C8"/>
<polygon points="568.70,33.20 568.72,34.41 568.73,35.61 568.75,36.82 568.76,38.02 568.80,39.23 568.88,40.43 569.06,41.64 569.33,42.84 569.66,44.05 570.03,45.25 570.43,46.46 570.86,47.66 571.28,48.87 571.67,50.07 572.03,51.28 572.36,52.48 572.68,53.69 572.98,54.89 573.23,56.10 573.43,57.30 573.58,58.51 573.71,59.71 573.85,60.92 573.98,62.12 574.10,63.33 574.16,64.53 574.15,65.74 574.07,66.94 573.94,68.15 573.80,69.35 573.65,70.56 573.47,71.76 573.25,72.97 573.00,74.17 572.73,75.38 572.45,76.58 572.16,77.79 571.85,78.99 571.50,80.20 571.13,81.40 570.75,82.61 570.38,83.81 570.03,85.02 569.70,86.22 569.41,87.43 569.16,88.63 568.98,89.84 568.87,91.04 568.81,92.25 568.78,93.45 568.77,94.66 568.76,95.86 568.75,97.07 568.75,98.27 568.74,99.48 568.73,100.68 568.72,101.89 568.71,103.09 568.70,104.30 567.90,104.30 567.89,103.09 567.88,101.89 567.87,100.68 567.86,99.48 567.85,98.27 567.85,97.07 567.84,95.86 567.83,94.66 567.82,93.45 567.79,92.25 567.73,91.04 567.62,89.84 567.44,88.63 567.19,87.43 566.90,86.22 566.57,85.02 566.22,83.81 565.85,82.61 565.47,81.40 565.10,80.20 564.75,78.99 564.44,77.79 564.15,76.58 563.87,75.38 563.60,74.17 563.35,72.97 563.13,71.76 562.95,70.56 562.80,69.35 562.66,68.15 562.53,66.94 562.45,65.74 562.44,64.53 562.50,63.33 562.62,62.12 562.75,60.92 562.89,59.71 563.02,58.51 563.17,57.30 563.37,56.10 563.62,54.89 563.92,53.69 564.24,52.48 564.57,51.28 564.93,50.07 565.32,48.87 565.74,47.66 566.17,46.46 566.57,45.25 566.94,44.05 567.27,42.84 567.54,41.64 567.72,40.43 567.80,39.23 567.84,38.02 567.85,36.82 567.87,35.61 567.88,34.41 567.90,33.20" fill="none" stroke="#C472C8" stroke-width="1.7" stroke-linejoin="round"/>
<path d="M594.2 81.9h1.3v1.3h-1.3zM595.6 72.2h1.3v1.3h-1.3zM592.1 86.1h1.3v1.3h-1.3zM593.0 92.1h1.3v1.3h-1.3zM590.6 73.8h1.3v1.3h-1.3zM595.7 75.7h1.3v1.3h-1.3zM587.2 74.4h1.3v1.3h-1.3zM588.0 74.5h1.3v1.3h-1.3zM589.7 79.9h1.3v1.3h-1.3zM593.2 78.8h1.3v1.3h-1.3zM589.8 63.9h1.3v1.3h-1.3zM588.5 57.2h1.3v1.3h-1.3zM596.1 75.8h1.3v1.3h-1.3zM587.2 71.0h1.3v1.3h-1.3zM588.9 79.9h1.3v1.3h-1.3zM596.1 60.0h1.3v1.3h-1.3zM594.7 70.2h1.3v1.3h-1.3zM593.3 75.8h1.3v1.3h-1.3zM594.3 78.5h1.3v1.3h-1.3zM589.5 72.4h1.3v1.3h-1.3zM594.2 74.9h1.3v1.3h-1.3zM590.1 71.6h1.3v1.3h-1.3zM590.5 70.6h1.3v1.3h-1.3zM593.3 71.9h1.3v1.3h-1.3zM591.5 77.7h1.3v1.3h-1.3zM596.6 75.7h1.3v1.3h-1.3zM589.3 65.2h1.3v1.3h-1.3zM588.7 76.6h1.3v1.3h-1.3zM594.5 81.8h1.3v1.3h-1.3zM586.5 72.5h1.3v1.3h-1.3zM588.2 80.0h1.3v1.3h-1.3zM594.8 78.9h1.3v1.3h-1.3zM586.4 74.9h1.3v1.3h-1.3zM587.3 64.8h1.3v1.3h-1.3zM594.3 74.6h1.3v1.3h-1.3zM590.5 71.2h1.3v1.3h-1.3zM588.2 90.1h1.3v1.3h-1.3zM587.7 80.7h1.3v1.3h-1.3zM594.5 74.8h1.3v1.3h-1.3zM590.2 76.9h1.3v1.3h-1.3zM593.5 79.1h1.3v1.3h-1.3zM596.5 84.8h1.3v1.3h-1.3zM597.6 78.3h1.3v1.3h-1.3zM594.4 73.5h1.3v1.3h-1.3zM590.2 68.1h1.3v1.3h-1.3zM593.7 80.1h1.3v1.3h-1.3zM596.8 64.3h1.3v1.3h-1.3zM595.5 62.1h1.3v1.3h-1.3zM591.7 79.0h1.3v1.3h-1.3zM596.8 78.8h1.3v1.3h-1.3zM596.5 73.1h1.3v1.3h-1.3zM590.8 80.5h1.3v1.3h-1.3zM592.2 83.6h1.3v1.3h-1.3zM590.8 72.8h1.3v1.3h-1.3zM588.7 60.5h1.3v1.3h-1.3zM596.7 66.9h1.3v1.3h-1.3zM596.2 73.1h1.3v1.3h-1.3zM587.4 70.2h1.3v1.3h-1.3zM588.2 65.2h1.3v1.3h-1.3zM595.3 73.4h1.3v1.3h-1.3zM586.5 73.8h1.3v1.3h-1.3zM589.2 77.5h1.3v1.3h-1.3zM592.3 79.8h1.3v1.3h-1.3zM593.4 76.3h1.3v1.3h-1.3zM594.7 93.7h1.3v1.3h-1.3zM589.2 69.9h1.3v1.3h-1.3zM589.4 75.6h1.3v1.3h-1.3zM587.7 71.5h1.3v1.3h-1.3zM589.3 72.7h1.3v1.3h-1.3zM594.2 64.7h1.3v1.3h-1.3zM590.4 75.5h1.3v1.3h-1.3zM593.1 76.8h1.3v1.3h-1.3zM593.8 67.3h1.3v1.3h-1.3zM593.0 65.3h1.3v1.3h-1.3zM590.8 64.9h1.3v1.3h-1.3zM591.8 74.8h1.3v1.3h-1.3zM596.1 83.9h1.3v1.3h-1.3zM590.4 61.6h1.3v1.3h-1.3zM588.7 61.0h1.3v1.3h-1.3zM588.6 80.1h1.3v1.3h-1.3zM589.4 71.7h1.3v1.3h-1.3zM587.9 75.2h1.3v1.3h-1.3zM597.4 79.5h1.3v1.3h-1.3zM587.7 71.4h1.3v1.3h-1.3zM594.1 89.2h1.3v1.3h-1.3zM592.7 72.2h1.3v1.3h-1.3zM597.6 74.3h1.3v1.3h-1.3zM590.0 90.0h1.3v1.3h-1.3zM596.2 75.0h1.3v1.3h-1.3zM587.5 69.1h1.3v1.3h-1.3zM589.0 69.6h1.3v1.3h-1.3zM591.4 81.3h1.3v1.3h-1.3zM596.0 73.3h1.3v1.3h-1.3zM593.2 71.8h1.3v1.3h-1.3zM594.3 57.4h1.3v1.3h-1.3zM591.8 59.2h1.3v1.3h-1.3zM586.7 66.3h1.3v1.3h-1.3zM587.5 70.8h1.3v1.3h-1.3zM590.3 91.6h1.3v1.3h-1.3zM587.7 74.6h1.3v1.3h-1.3zM596.7 61.4h1.3v1.3h-1.3zM592.2 75.1h1.3v1.3h-1.3zM596.1 70.0h1.3v1.3h-1.3zM597.5 82.5h1.3v1.3h-1.3zM595.3 93.7h1.3v1.3h-1.3zM587.3 75.0h1.3v1.3h-1.3zM586.4 79.4h1.3v1.3h-1.3zM594.2 72.5h1.3v1.3h-1.3zM590.0 69.2h1.3v1.3h-1.3zM591.6 76.3h1.3v1.3h-1.3zM596.2 63.0h1.3v1.3h-1.3zM593.5 74.3h1.3v1.3h-1.3zM595.3 80.1h1.3v1.3h-1.3zM594.6 67.1h1.3v1.3h-1.3zM591.5 78.6h1.3v1.3h-1.3zM590.1 69.7h1.3v1.3h-1.3zM593.7 78.8h1.3v1.3h-1.3zM596.6 69.2h1.3v1.3h-1.3zM596.0 73.3h1.3v1.3h-1.3zM595.8 72.4h1.3v1.3h-1.3zM589.1 63.7h1.3v1.3h-1.3zM588.3 76.7h1.3v1.3h-1.3zM594.1 64.2h1.3v1.3h-1.3zM591.8 76.3h1.3v1.3h-1.3zM597.4 73.5h1.3v1.3h-1.3zM588.1 80.5h1.3v1.3h-1.3zM597.4 72.8h1.3v1.3h-1.3zM597.0 63.7h1.3v1.3h-1.3zM586.2 70.7h1.3v1.3h-1.3zM588.2 77.7h1.3v1.3h-1.3z" fill="#E860A8"/>
<polygon points="592.90,56.60 593.16,57.30 593.37,58.00 593.60,58.70 593.84,59.40 594.09,60.10 594.33,60.80 594.58,61.50 594.83,62.20 595.09,62.90 595.38,63.60 595.69,64.30 596.00,65.00 596.32,65.70 596.68,66.40 597.13,67.10 597.68,67.80 598.30,68.50 598.97,69.20 599.66,69.90 600.39,70.60 601.15,71.30 601.89,72.00 602.56,72.70 603.14,73.40 603.55,74.10 603.73,74.80 603.66,75.50 603.39,76.20 602.98,76.90 602.44,77.60 601.79,78.30 601.11,79.00 600.43,79.70 599.78,80.40 599.15,81.10 598.54,81.80 597.95,82.50 597.39,83.20 596.85,83.90 596.33,84.60 595.82,85.30 595.34,86.00 594.89,86.70 594.46,87.40 594.06,88.10 593.70,88.80 593.40,89.50 593.20,90.20 593.10,90.90 593.06,91.60 593.04,92.30 593.02,93.00 593.01,93.70 592.99,94.40 592.97,95.10 592.95,95.80 592.94,96.50 592.92,97.20 592.90,97.90 592.10,97.90 592.08,97.20 592.06,96.50 592.05,95.80 592.03,95.10 592.01,94.40 591.99,93.70 591.98,93.00 591.96,92.30 591.94,91.60 591.90,90.90 591.80,90.20 591.60,89.50 591.30,88.80 590.94,88.10 590.54,87.40 590.11,86.70 589.66,86.00 589.18,85.30 588.67,84.60 588.15,83.90 587.61,83.20 587.05,82.50 586.46,81.80 585.85,81.10 585.22,80.40 584.57,79.70 583.89,79.00 583.21,78.30 582.56,77.60 582.02,76.90 581.61,76.20 581.34,75.50 581.27,74.80 581.45,74.10 581.86,73.40 582.44,72.70 583.11,72.00 583.85,71.30 584.61,70.60 585.34,69.90 586.03,69.20 586.70,68.50 587.32,67.80 587.87,67.10 588.32,66.40 588.68,65.70 589.00,65.00 589.31,64.30 589.62,63.60 589.91,62.90 590.17,62.20 590.42,61.50 590.67,60.80 590.91,60.10 591.16,59.40 591.40,58.70 591.63,58.00 591.84,57.30 592.10,56.60" fill="none" stroke="#E860A8" stroke-width="1.7" stroke-linejoin="round"/>
<text x="6.0" y="246.0" font-size="13.5" textLength="8.0" lengthAdjust="spacingAndGlyphs">B</text>
<g stroke="#d4d4d4" stroke-width="1">
<line x1="27.5" x2="295.5" y1="258.5" y2="258.5"/>
<line x1="27.5" x2="295.5" y1="276.5" y2="276.5"/>
<line x1="27.5" x2="295.5" y1="294.5" y2="294.5"/>
<line x1="27.5" x2="295.5" y1="312.5" y2="312.5"/>
<line x1="27.5" x2="295.5" y1="330.5" y2="330.5"/>
<line x1="27.5" x2="295.5" y1="348.5" y2="348.5"/>
<line x1="27.5" x2="295.5" y1="366.5" y2="366.5"/>
<line x1="27.5" x2="27.5" y1="258.5" y2="366.5"/>
<line x1="72.5" x2="72.5" y1="258.5" y2="366.5"/>
<line x1="116.5" x2="116.5" y1="258.5" y2="366.5"/>
<line x1="161.5" x2="161.5" y1="258.5" y2="366.5"/>
<line x1="205.5" x2="205.5" y1="258.5" y2="366.5"/>
<line x1="250.5" x2="250.5" y1="258.5" y2="366.5"/>
<line x1="295.5" x2="295.5" y1="258.5" y2="366.5"/>
</g>
<text x="20.7" y="368.3" font-size="5.8" text-anchor="end" fill="#505050">0</text>
<text x="27.4" y="376.6" font-size="5.8" text-anchor="middle" fill="#505050">0</text>
<text x="20.7" y="350.3" font-size="5.8" text-anchor="end" fill="#505050">5</text>
<text x="72.0" y="376.6" font-size="5.8" text-anchor="middle" fill="#505050">5</text>
<text x="20.7" y="332.4" font-size="5.8" text-anchor="end" fill="#505050">10</text>
<text x="116.7" y="376.6" font-size="5.8" text-anchor="middle" fill="#505050">10</text>
<text x="20.7" y="314.4" font-size="5.8" text-anchor="end" fill="#505050">15</text>
<text x="161.3" y="376.6" font-size="5.8" text-anchor="middle" fill="#505050">15</text>
<text x="20.7" y="296.4" font-size="5.8" text-anchor="end" fill="#505050">20</text>
<text x="205.9" y="376.6" font-size="5.8" text-anchor="middle" fill="#505050">20</text>
<text x="20.7" y="278.5" font-size="5.8" text-anchor="end" fill="#505050">25</text>
<text x="250.6" y="376.6" font-size="5.8" text-anchor="middle" fill="#505050">25</text>
<text x="20.7" y="260.5" font-size="5.8" text-anchor="end" fill="#505050">30</text>
<text x="295.2" y="376.6" font-size="5.8" text-anchor="middle" fill="#505050">30</text>
<polyline points="36.3,276.5 45.3,280.1 54.2,280.1 63.1,290.8 72.0,287.2 81.0,287.2 89.9,287.2 98.8,276.5 107.7,280.1 116.7,283.7 125.6,283.7 134.5,283.7 143.5,283.7 152.4,287.2 161.3,294.4 170.2,280.1 179.2,290.8 188.1,280.1 197.0,280.1 205.9,283.7 214.9,280.1 223.8,276.5 232.7,276.5 241.6,269.3 250.6,283.7 259.5,276.5 268.4,280.1 277.4,283.7 286.3,280.1" fill="none" stroke="#E0232B" stroke-width="2.4" stroke-linejoin="round"/>
<polyline points="36.3,312.4 45.3,305.2 54.2,308.8 63.1,294.4 72.0,294.4 81.0,272.9 89.9,283.7 98.8,287.2 107.7,319.6 116.7,308.8 125.6,290.8 134.5,276.5 143.5,287.2 152.4,294.4 161.3,298.0 170.2,294.4 179.2,294.4 188.1,319.6 197.0,298.0 205.9,283.7 214.9,298.0 223.8,290.8 232.7,298.0 241.6,301.6 250.6,305.2 259.5,294.4 268.4,290.8 277.4,294.4 286.3,301.6" fill="none" stroke="#1F6EB6" stroke-width="2.4" stroke-linejoin="round"/>
<text x="149.3" y="247.0" font-size="8.8" textLength="17.1" lengthAdjust="spacingAndGlyphs" font-style="italic">Vim</text>
<text x="28.5" y="384.9" font-size="9" textLength="60.8" lengthAdjust="spacingAndGlyphs">Training epochs</text>
<text x="7.9" y="382.5" font-size="7.4" textLength="128.8" lengthAdjust="spacingAndGlyphs" transform="rotate(-90 7.9 382.5)">Shared gene neighbors between t and t-1</text>
<g stroke="#d4d4d4" stroke-width="1">
<line x1="27.5" x2="295.5" y1="414.5" y2="414.5"/>
<line x1="27.5" x2="295.5" y1="432.5" y2="432.5"/>
<line x1="27.5" x2="295.5" y1="450.5" y2="450.5"/>
<line x1="27.5" x2="295.5" y1="468.5" y2="468.5"/>
<line x1="27.5" x2="295.5" y1="485.5" y2="485.5"/>
<line x1="27.5" x2="295.5" y1="503.5" y2="503.5"/>
<line x1="27.5" x2="295.5" y1="521.5" y2="521.5"/>
<line x1="27.5" x2="27.5" y1="414.5" y2="521.5"/>
<line x1="72.5" x2="72.5" y1="414.5" y2="521.5"/>
<line x1="116.5" x2="116.5" y1="414.5" y2="521.5"/>
<line x1="161.5" x2="161.5" y1="414.5" y2="521.5"/>
<line x1="205.5" x2="205.5" y1="414.5" y2="521.5"/>
<line x1="250.5" x2="250.5" y1="414.5" y2="521.5"/>
<line x1="295.5" x2="295.5" y1="414.5" y2="521.5"/>
</g>
<text x="20.7" y="523.9" font-size="5.8" text-anchor="end" fill="#505050">0</text>
<text x="27.4" y="532.2" font-size="5.8" text-anchor="middle" fill="#505050">0</text>
<text x="20.7" y="505.9" font-size="5.8" text-anchor="end" fill="#505050">5</text>
<text x="72.0" y="532.2" font-size="5.8" text-anchor="middle" fill="#505050">5</text>
<text x="20.7" y="488.0" font-size="5.8" text-anchor="end" fill="#505050">10</text>
<text x="116.7" y="532.2" font-size="5.8" text-anchor="middle" fill="#505050">10</text>
<text x="20.7" y="470.0" font-size="5.8" text-anchor="end" fill="#505050">15</text>
<text x="161.3" y="532.2" font-size="5.8" text-anchor="middle" fill="#505050">15</text>
<text x="20.7" y="452.0" font-size="5.8" text-anchor="end" fill="#505050">20</text>
<text x="205.9" y="532.2" font-size="5.8" text-anchor="middle" fill="#505050">20</text>
<text x="20.7" y="434.1" font-size="5.8" text-anchor="end" fill="#505050">25</text>
<text x="250.6" y="532.2" font-size="5.8" text-anchor="middle" fill="#505050">25</text>
<text x="20.7" y="416.1" font-size="5.8" text-anchor="end" fill="#505050">30</text>
<text x="295.2" y="532.2" font-size="5.8" text-anchor="middle" fill="#505050">30</text>
<polyline points="36.3,450.0 45.3,453.6 54.2,450.0 63.1,450.0 72.0,439.3 81.0,435.7 89.9,435.7 98.8,442.8 107.7,432.1 116.7,432.1 125.6,435.7 134.5,439.3 143.5,435.7 152.4,432.1 161.3,428.5 170.2,421.3 179.2,439.3 188.1,428.5 197.0,432.1 205.9,428.5 214.9,435.7 223.8,428.5 232.7,424.9 241.6,417.7 250.6,428.5 259.5,424.9 268.4,432.1 277.4,435.7 286.3,432.1" fill="none" stroke="#E0232B" stroke-width="2.4" stroke-linejoin="round"/>
<polyline points="36.3,464.4 45.3,475.2 54.2,464.4 63.1,482.4 72.0,468.0 81.0,453.6 89.9,446.4 98.8,457.2 107.7,475.2 116.7,464.4 125.6,460.8 134.5,446.4 143.5,457.2 152.4,450.0 161.3,450.0 170.2,453.6 179.2,446.4 188.1,450.0 197.0,457.2 205.9,460.8 214.9,460.8 223.8,446.4 232.7,457.2 241.6,450.0 250.6,439.3 259.5,450.0 268.4,450.0 277.4,432.1 286.3,442.8" fill="none" stroke="#1F6EB6" stroke-width="2.4" stroke-linejoin="round"/>
<text x="148.0" y="402.4" font-size="8.8" textLength="20.2" lengthAdjust="spacingAndGlyphs" font-style="italic">Ctsd</text>
<text x="28.5" y="540.5" font-size="9" textLength="60.8" lengthAdjust="spacingAndGlyphs">Training epochs</text>
<text x="7.9" y="538.1" font-size="7.4" textLength="128.8" lengthAdjust="spacingAndGlyphs" transform="rotate(-90 7.9 538.1)">Shared gene neighbors between t and t-1</text>
<g stroke="#d4d4d4" stroke-width="1">
<line x1="27.5" x2="295.5" y1="564.5" y2="564.5"/>
<line x1="27.5" x2="295.5" y1="582.5" y2="582.5"/>
<line x1="27.5" x2="295.5" y1="600.5" y2="600.5"/>
<line x1="27.5" x2="295.5" y1="618.5" y2="618.5"/>
<line x1="27.5" x2="295.5" y1="636.5" y2="636.5"/>
<line x1="27.5" x2="295.5" y1="654.5" y2="654.5"/>
<line x1="27.5" x2="295.5" y1="672.5" y2="672.5"/>
<line x1="27.5" x2="27.5" y1="564.5" y2="672.5"/>
<line x1="72.5" x2="72.5" y1="564.5" y2="672.5"/>
<line x1="116.5" x2="116.5" y1="564.5" y2="672.5"/>
<line x1="161.5" x2="161.5" y1="564.5" y2="672.5"/>
<line x1="205.5" x2="205.5" y1="564.5" y2="672.5"/>
<line x1="250.5" x2="250.5" y1="564.5" y2="672.5"/>
<line x1="295.5" x2="295.5" y1="564.5" y2="672.5"/>
</g>
<text x="20.7" y="674.1" font-size="5.8" text-anchor="end" fill="#505050">0</text>
<text x="27.4" y="682.4" font-size="5.8" text-anchor="middle" fill="#505050">0</text>
<text x="20.7" y="656.1" font-size="5.8" text-anchor="end" fill="#505050">5</text>
<text x="72.0" y="682.4" font-size="5.8" text-anchor="middle" fill="#505050">5</text>
<text x="20.7" y="638.2" font-size="5.8" text-anchor="end" fill="#505050">10</text>
<text x="116.7" y="682.4" font-size="5.8" text-anchor="middle" fill="#505050">10</text>
<text x="20.7" y="620.2" font-size="5.8" text-anchor="end" fill="#505050">15</text>
<text x="161.3" y="682.4" font-size="5.8" text-anchor="middle" fill="#505050">15</text>
<text x="20.7" y="602.2" font-size="5.8" text-anchor="end" fill="#505050">20</text>
<text x="205.9" y="682.4" font-size="5.8" text-anchor="middle" fill="#505050">20</text>
<text x="20.7" y="584.3" font-size="5.8" text-anchor="end" fill="#505050">25</text>
<text x="250.6" y="682.4" font-size="5.8" text-anchor="middle" fill="#505050">25</text>
<text x="20.7" y="566.3" font-size="5.8" text-anchor="end" fill="#505050">30</text>
<text x="295.2" y="682.4" font-size="5.8" text-anchor="middle" fill="#505050">30</text>
<polyline points="36.3,600.2 45.3,593.0 54.2,596.6 63.1,593.0 72.0,603.8 81.0,582.3 89.9,582.3 98.8,578.7 107.7,593.0 116.7,589.5 125.6,589.5 134.5,578.7 143.5,582.3 152.4,589.5 161.3,578.7 170.2,582.3 179.2,596.6 188.1,578.7 197.0,589.5 205.9,585.9 214.9,575.1 223.8,571.5 232.7,578.7 241.6,582.3 250.6,589.5 259.5,596.6 268.4,575.1 277.4,571.5 286.3,578.7" fill="none" stroke="#E0232B" stroke-width="2.4" stroke-linejoin="round"/>
<polyline points="36.3,607.4 45.3,607.4 54.2,596.6 63.1,607.4 72.0,603.8 81.0,600.2 89.9,593.0 98.8,600.2 107.7,603.8 116.7,614.6 125.6,596.6 134.5,603.8 143.5,600.2 152.4,600.2 161.3,593.0 170.2,593.0 179.2,593.0 188.1,600.2 197.0,603.8 205.9,600.2 214.9,618.2 223.8,596.6 232.7,596.6 241.6,607.4 250.6,593.0 259.5,585.9 268.4,589.5 277.4,593.0 286.3,593.0" fill="none" stroke="#1F6EB6" stroke-width="2.4" stroke-linejoin="round"/>
<text x="146.6" y="552.4" font-size="8.8" textLength="22.2" lengthAdjust="spacingAndGlyphs" font-style="italic">Gfap</text>
<text x="28.5" y="690.7" font-size="9" textLength="60.8" lengthAdjust="spacingAndGlyphs">Training epochs</text>
<text x="7.9" y="688.3" font-size="7.4" textLength="128.8" lengthAdjust="spacingAndGlyphs" transform="rotate(-90 7.9 688.3)">Shared gene neighbors between t and t-1</text>
<line x1="161" x2="185.5" y1="699.6" y2="699.6" stroke="#E0232B" stroke-width="2.4"/>
<text x="188.2" y="703.1" font-size="10.5" textLength="36.3" lengthAdjust="spacingAndGlyphs">2 weeks</text>
<line x1="237" x2="261" y1="699.6" y2="699.6" stroke="#1F6EB6" stroke-width="2.4"/>
<text x="263.5" y="703.1" font-size="10.5" textLength="28.8" lengthAdjust="spacingAndGlyphs">3 days</text>
<defs><pattern id="h1" width="2.3" height="2.3" patternUnits="userSpaceOnUse" patternTransform="rotate(45)"><rect width="2.3" height="2.3" fill="#F8CC58"/><rect width="1.05" height="2.3" fill="#CC3010"/></pattern><pattern id="h2" width="2.85" height="2.85" patternUnits="userSpaceOnUse" patternTransform="rotate(-45)"><rect width="2.85" height="2.85" fill="#A4A4DA"/><rect width="1.35" height="2.85" fill="#B0203C"/></pattern><pattern id="h3" width="3.6" height="3.6" patternUnits="userSpaceOnUse" patternTransform="rotate(45)"><rect width="3.6" height="3.6" fill="#fff"/><rect width="1.6" height="3.6" fill="#D03030"/></pattern><marker id="ah" viewBox="0 0 10 10" refX="9" refY="5" markerWidth="4.6" markerHeight="4.6" orient="auto-start-reverse"><path d="M0 0L10 5L0 10z" fill="#222"/></marker><marker id="ag" viewBox="0 0 10 10" refX="9" refY="5" markerWidth="4.5" markerHeight="4.5" orient="auto-start-reverse"><path d="M0 1L10 5L0 9" fill="none" stroke="#888" stroke-width="1.5"/></marker></defs>
<text x="322.9" y="246.1" font-size="15" textLength="8.2" lengthAdjust="spacingAndGlyphs">C</text>
<rect x="346.1" y="237.5" width="8.8" height="9" fill="#FFC000"/>
<text x="358.6" y="245.2" font-size="9.4" textLength="94.4" lengthAdjust="spacingAndGlyphs">CoSTA/SPARK SE overlap</text>
<rect x="471" y="237.5" width="8.6" height="9" fill="#8FAADC"/>
<text x="485.0" y="245.2" font-size="9.4" textLength="82.6" lengthAdjust="spacingAndGlyphs">SPARK and not CoSTA</text>
<rect x="585" y="237.5" width="9.4" height="9" fill="url(#h3)"/>
<text x="597.6" y="245.2" font-size="9.4" textLength="54.8" lengthAdjust="spacingAndGlyphs">Also SpatialDE</text>
<line x1="341.5" x2="416.4" y1="263" y2="263" stroke="#999" stroke-width="1" marker-start="url(#ag)"/>
<line x1="604.2" x2="670.5" y1="263" y2="263" stroke="#999" stroke-width="1" marker-end="url(#ag)"/>
<text x="424.0" y="266.6" font-size="9" textLength="171.4" lengthAdjust="spacingAndGlyphs">All Vim/Ctsd/Gfap Correlated SE genes by SPARK</text>
<rect x="340.3" y="272" width="20.7" height="29.4" fill="url(#h1)"/>
<rect x="361" y="272" width="6.2" height="29.4" fill="#FDD868"/>
<rect x="367.2" y="272" width="258" height="29.4" fill="#9DC3E6"/>
<rect x="625.2" y="272" width="45.8" height="29.4" fill="url(#h2)"/>
<text x="343.9" y="312.0" font-size="8.4" textLength="7.8" lengthAdjust="spacingAndGlyphs">21</text>
<text x="362.9" y="312.0" font-size="8.4" textLength="3.9" lengthAdjust="spacingAndGlyphs">7</text>
<text x="501.6" y="312.0" font-size="8.4" textLength="12.3" lengthAdjust="spacingAndGlyphs">274</text>
<text x="640.4" y="311.7" font-size="8.4" textLength="8.5" lengthAdjust="spacingAndGlyphs">48</text>
<line x1="350.5" y1="289" x2="359.8" y2="318.4" stroke="#222" stroke-width="0.9" marker-end="url(#ah)"/>
<line x1="640.4" y1="292.4" x2="616.3" y2="318.4" stroke="#222" stroke-width="0.9" marker-end="url(#ah)"/>
<g stroke="#666" stroke-width="1" fill="none">
<rect x="321.5" y="322.5" width="190.5" height="50"/>
<line x1="321.5" x2="512" y1="334.5" y2="334.5"/>
<line x1="321.5" x2="512" y1="347.5" y2="347.5"/>
<line x1="321.5" x2="512" y1="360.5" y2="360.5"/>
<line x1="421.5" x2="421.5" y1="322.5" y2="372.5"/>
<line x1="482.5" x2="482.5" y1="322.5" y2="372.5"/>
<rect x="533.5" y="322.5" width="147" height="37.5"/>
<line x1="533.5" x2="680.5" y1="346.5" y2="346.5"/>
<line x1="614.5" x2="614.5" y1="322.5" y2="360"/>
<line x1="661.5" x2="661.5" y1="322.5" y2="360"/>
</g>
<text x="325.1" y="331.2" font-size="7.4" textLength="69.0" lengthAdjust="spacingAndGlyphs" font-weight="bold">GO Biological Process</text>
<text x="425.4" y="331.2" font-size="7.4" textLength="52.6" lengthAdjust="spacingAndGlyphs" font-weight="bold">Fold Enrichment</text>
<text x="485.5" y="331.2" font-size="7.4" textLength="12.6" lengthAdjust="spacingAndGlyphs" font-weight="bold">FDR</text>
<text x="325.1" y="343.9" font-size="7.4" textLength="91.3" lengthAdjust="spacingAndGlyphs">Myeloid leukocyte activation</text>
<text x="425.4" y="343.9" font-size="7.4" textLength="17.6" lengthAdjust="spacingAndGlyphs">10.02</text>
<text x="485.5" y="343.9" font-size="7.4" textLength="17.9" lengthAdjust="spacingAndGlyphs">0.055</text>
<text x="325.1" y="356.9" font-size="7.4" textLength="66.1" lengthAdjust="spacingAndGlyphs">Regulated exocytosis</text>
<text x="425.4" y="356.9" font-size="7.4" textLength="13.5" lengthAdjust="spacingAndGlyphs">9.91</text>
<text x="485.5" y="356.9" font-size="7.4" textLength="17.9" lengthAdjust="spacingAndGlyphs">0.061</text>
<text x="325.1" y="369.3" font-size="7.4" textLength="85.9" lengthAdjust="spacingAndGlyphs">Regulation of ion transport</text>
<text x="425.4" y="369.3" font-size="7.4" textLength="13.5" lengthAdjust="spacingAndGlyphs">5.86</text>
<text x="485.5" y="369.3" font-size="7.4" textLength="17.9" lengthAdjust="spacingAndGlyphs">0.044</text>
<text x="536.4" y="331.4" font-size="7.4" textLength="69.6" lengthAdjust="spacingAndGlyphs" font-weight="bold">GO Biological Process</text>
<text x="617.5" y="331.4" font-size="7.4" textLength="14.5" lengthAdjust="spacingAndGlyphs" font-weight="bold">Fold</text>
<text x="617.5" y="341.0" font-size="7.4" textLength="36.7" lengthAdjust="spacingAndGlyphs" font-weight="bold">Enrichment</text>
<text x="664.5" y="331.4" font-size="7.4" textLength="13.3" lengthAdjust="spacingAndGlyphs" font-weight="bold">FDR</text>
<text x="536.4" y="355.5" font-size="7.4" textLength="16.6" lengthAdjust="spacingAndGlyphs">None</text>
<line x1="617.8" x2="631.3" y1="353.2" y2="353.2" stroke="#555" stroke-width="0.7" stroke-dasharray="1.2 0.8"/>
<text x="664.5" y="355.5" font-size="7.4" textLength="13.7" lengthAdjust="spacingAndGlyphs">&gt;0.8</text>
<text x="323.6" y="406.0" font-size="12.5" textLength="8.8" lengthAdjust="spacingAndGlyphs">D</text>
<text x="361.0" y="404.9" font-size="9" textLength="258.5" lengthAdjust="spacingAndGlyphs">Gene Ontology Term Enrichment in Gfap, Ctsd, Vim Correlated Sets</text>
<g stroke="#d9d9d9" stroke-width="1">
<line x1="482.5" x2="482.5" y1="416.1" y2="649"/>
<line x1="545.5" x2="545.5" y1="416.1" y2="649"/>
<line x1="608.5" x2="608.5" y1="416.1" y2="649"/>
</g>
<line x1="419.5" x2="419.5" y1="416.3" y2="649.6" stroke="#c8c8c8" stroke-width="1"/>
<rect x="420" y="428.6" width="18.0" height="13.5" fill="#FFC000"/>
<rect x="420" y="442.1" width="1.6" height="13.5" fill="#A5A5A5"/>
<rect x="420" y="455.6" width="10.5" height="13.5" fill="#ED7D31"/>
<rect x="420" y="506.0" width="108.8" height="13.5" fill="#FFC000"/>
<rect x="420" y="519.5" width="37.0" height="13.5" fill="#A5A5A5"/>
<rect x="420" y="533.0" width="54.2" height="13.5" fill="#ED7D31"/>
<rect x="420" y="546.5" width="119.7" height="13.5" fill="#5B9BD5"/>
<rect x="420" y="583.6" width="147.8" height="13.5" fill="#FFC000"/>
<rect x="420" y="597.1" width="64.7" height="13.5" fill="#A5A5A5"/>
<rect x="420" y="610.6" width="67.9" height="13.5" fill="#ED7D31"/>
<rect x="420" y="624.1" width="159.4" height="13.5" fill="#5B9BD5"/>
<text x="414.0" y="459.6" font-size="11.5" textLength="87.0" lengthAdjust="spacingAndGlyphs" text-anchor="end">Oligodendrocyte development</text>
<text x="414.0" y="537.3" font-size="11.5" textLength="34.0" lengthAdjust="spacingAndGlyphs" text-anchor="end">Gliogenesis</text>
<text x="413.6" y="615.3" font-size="11.5" textLength="51.6" lengthAdjust="spacingAndGlyphs" text-anchor="end">Immune response</text>
<text x="419.8" y="669.2" font-size="11" textLength="3.6" lengthAdjust="spacingAndGlyphs" text-anchor="middle" fill="#333">0</text>
<text x="482.8" y="669.2" font-size="11" textLength="13.3" lengthAdjust="spacingAndGlyphs" text-anchor="middle" fill="#333">0.05</text>
<text x="545.8" y="669.2" font-size="11" textLength="8.5" lengthAdjust="spacingAndGlyphs" text-anchor="middle" fill="#333">0.1</text>
<text x="608.8" y="669.2" font-size="11" textLength="13.3" lengthAdjust="spacingAndGlyphs" text-anchor="middle" fill="#333">0.15</text>
<rect x="474" y="697.9" width="3.6" height="7" fill="#FFC000"/>
<text x="479.0" y="704.9" font-size="11.3" textLength="26.8" lengthAdjust="spacingAndGlyphs" fill="#333">Slide-seq</text>
<rect x="513.5" y="697.9" width="3.6" height="7" fill="#A5A5A5"/>
<text x="517.6" y="704.9" font-size="11.3" textLength="29.2" lengthAdjust="spacingAndGlyphs" fill="#333">SpatialDE</text>
<rect x="553.8" y="697.9" width="3.6" height="7" fill="#ED7D31"/>
<text x="558.0" y="704.9" font-size="11.3" textLength="22.8" lengthAdjust="spacingAndGlyphs" fill="#333">SPARK</text>
<rect x="587.8" y="697.9" width="3.6" height="7" fill="#5B9BD5"/>
<text x="592.0" y="704.9" font-size="11.3" textLength="21.8" lengthAdjust="spacingAndGlyphs" fill="#333">CoSTA</text>
</svg></body></html>
